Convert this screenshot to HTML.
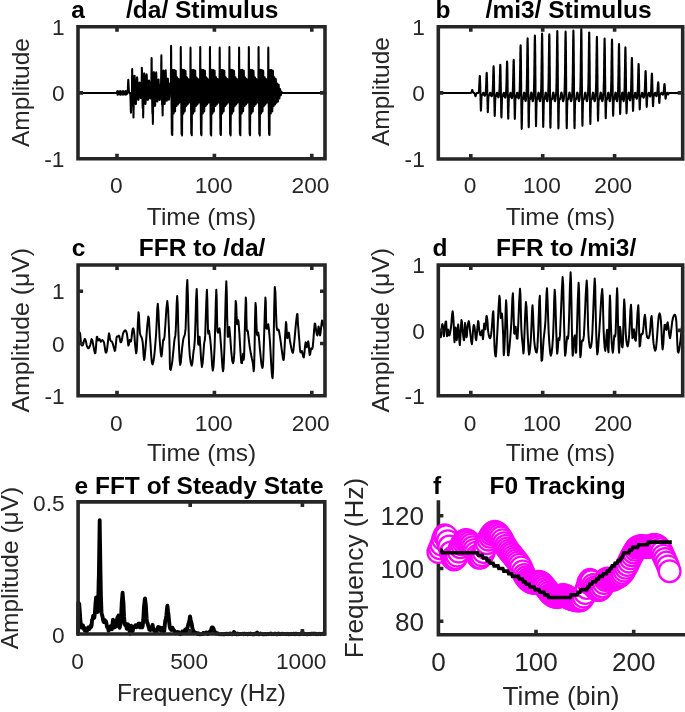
<!DOCTYPE html>
<html><head><meta charset="utf-8"><style>
html,body{margin:0;padding:0;background:#fff;overflow:hidden}
svg{display:block}
text{font-family:"Liberation Sans",sans-serif}
.tx{filter:grayscale(1)}
.ax{fill:none;stroke:#262626;stroke-width:3.6}
.w{fill:none;stroke:#000;stroke-width:2;stroke-linejoin:round}
.w3{fill:none;stroke:#000;stroke-width:3.9;stroke-linejoin:round;stroke-linecap:round}
.fm{fill:none;stroke:#f0f;stroke-width:2.3}
.fl{fill:none;stroke:#000;stroke-width:3.6}
</style></head><body>
<svg width="685" height="712" viewBox="0 0 685 712">
<rect width="685" height="712" fill="#fff"/>
<path class="w" d="M78 92.9L78.1 92.9L78.1 92.9L78.2 92.9L78.2 92.9L78.3 92.9L78.3 92.9L78.4 92.9L78.4 92.9L78.5 92.9L78.5 92.9L78.6 92.9L78.6 92.9L78.7 92.9L78.7 92.9L78.8 92.9L78.8 92.9L78.9 92.9L78.9 92.9L79 92.9L79 92.9L79.1 92.9L79.1 92.9L79.2 92.9L79.2 92.9L79.3 92.9L79.3 92.9L79.4 92.9L79.4 92.9L79.5 92.9L79.5 92.9L79.5 92.9L79.6 92.9L79.6 92.9L79.7 92.9L79.7 92.9L79.8 92.9L79.8 92.9L79.9 92.9L79.9 92.9L80 92.9L80 92.9L80.1 92.9L80.1 92.9L80.2 92.9L80.2 92.9L80.3 92.9L80.3 92.9L80.4 92.9L80.4 92.9L80.5 92.9L80.5 92.9L80.6 92.9L80.6 92.9L80.7 92.9L80.7 92.9L80.8 92.9L80.8 92.9L80.9 92.9L80.9 92.9L81 92.9L81 92.9L81.1 92.9L81.1 92.9L81.2 92.9L81.2 92.9L81.3 92.9L81.3 92.9L81.4 92.9L81.4 92.9L81.4 92.9L81.5 92.9L81.5 92.9L81.6 92.9L81.6 92.9L81.7 92.9L81.7 92.9L81.8 92.9L81.8 92.9L81.9 92.9L81.9 92.9L82 92.9L82 92.9L82.1 92.9L82.1 92.9L82.2 92.9L82.2 92.9L82.3 92.9L82.3 92.9L82.4 92.9L82.4 92.9L82.5 92.9L82.5 92.9L82.6 92.9L82.6 92.9L82.7 92.9L82.7 92.9L82.8 92.9L82.8 92.9L82.9 92.9L82.9 92.9L83 92.9L83 92.9L83.1 92.9L83.1 92.9L83.2 92.9L83.2 92.9L83.3 92.9L83.3 92.9L83.3 92.9L83.4 92.9L83.4 92.9L83.5 92.9L83.5 92.9L83.6 92.9L83.6 92.9L83.7 92.9L83.7 92.9L83.8 92.9L83.8 92.9L83.9 92.9L83.9 92.9L84 92.9L84 92.9L84.1 92.9L84.1 92.9L84.2 92.9L84.2 92.9L84.3 92.9L84.3 92.9L84.4 92.9L84.4 92.9L84.5 92.9L84.5 92.9L84.6 92.9L84.6 92.9L84.7 92.9L84.7 92.9L84.8 92.9L84.8 92.9L84.9 92.9L84.9 92.9L85 92.9L85 92.9L85.1 92.9L85.1 92.9L85.2 92.9L85.2 92.9L85.2 92.9L85.3 92.9L85.3 92.9L85.4 92.9L85.4 92.9L85.5 92.9L85.5 92.9L85.6 92.9L85.6 92.9L85.7 92.9L85.7 92.9L85.8 92.9L85.8 92.9L85.9 92.9L85.9 92.9L86 92.9L86 92.9L86.1 92.9L86.1 92.9L86.2 92.9L86.2 92.9L86.3 92.9L86.3 92.9L86.4 92.9L86.4 92.9L86.5 92.9L86.5 92.9L86.6 92.9L86.6 92.9L86.7 92.9L86.7 92.9L86.8 92.9L86.8 92.9L86.9 92.9L86.9 92.9L87 92.9L87 92.9L87 92.9L87.1 92.9L87.1 92.9L87.2 92.9L87.2 92.9L87.3 92.9L87.3 92.9L87.4 92.9L87.4 92.9L87.5 92.9L87.5 92.9L87.6 92.9L87.6 92.9L87.7 92.9L87.7 92.9L87.8 92.9L87.8 92.9L87.9 92.9L87.9 92.9L88 92.9L88 92.9L88.1 92.9L88.1 92.9L88.2 92.9L88.2 92.9L88.3 92.9L88.3 92.9L88.4 92.9L88.4 92.9L88.5 92.9L88.5 92.9L88.6 92.9L88.6 92.9L88.7 92.9L88.7 92.9L88.8 92.9L88.8 92.9L88.9 92.9L88.9 92.9L88.9 92.9L89 92.9L89 92.9L89.1 92.9L89.1 92.9L89.2 92.9L89.2 92.9L89.3 92.9L89.3 92.9L89.4 92.9L89.4 92.9L89.5 92.9L89.5 92.9L89.6 92.9L89.6 92.9L89.7 92.9L89.7 92.9L89.8 92.9L89.8 92.9L89.9 92.9L89.9 92.9L90 92.9L90 92.9L90.1 92.9L90.1 92.9L90.2 92.9L90.2 92.9L90.3 92.9L90.3 92.9L90.4 92.9L90.4 92.9L90.5 92.9L90.5 92.9L90.6 92.9L90.6 92.9L90.7 92.9L90.7 92.9L90.8 92.9L90.8 92.9L90.8 92.9L90.9 92.9L90.9 92.9L91 92.9L91 92.9L91.1 92.9L91.1 92.9L91.2 92.9L91.2 92.9L91.3 92.9L91.3 92.9L91.4 92.9L91.4 92.9L91.5 92.9L91.5 92.9L91.6 92.9L91.6 92.9L91.7 92.9L91.7 92.9L91.8 92.9L91.8 92.9L91.9 92.9L91.9 92.9L92 92.9L92 92.9L92.1 92.9L92.1 92.9L92.2 92.9L92.2 92.9L92.3 92.9L92.3 92.9L92.4 92.9L92.4 92.9L92.5 92.9L92.5 92.9L92.6 92.9L92.6 92.9L92.6 92.9L92.7 92.9L92.7 92.9L92.8 92.9L92.8 92.9L92.9 92.9L92.9 92.9L93 92.9L93 92.9L93.1 92.9L93.1 92.9L93.2 92.9L93.2 92.9L93.3 92.9L93.3 92.9L93.4 92.9L93.4 92.9L93.5 92.9L93.5 92.9L93.6 92.9L93.6 92.9L93.7 92.9L93.7 92.9L93.8 92.9L93.8 92.9L93.9 92.9L93.9 92.9L94 92.9L94 92.9L94.1 92.9L94.1 92.9L94.2 92.9L94.2 92.9L94.3 92.9L94.3 92.9L94.4 92.9L94.4 92.9L94.5 92.9L94.5 92.9L94.5 92.9L94.6 92.9L94.6 92.9L94.7 92.9L94.7 92.9L94.8 92.9L94.8 92.9L94.9 92.9L94.9 92.9L95 92.9L95 92.9L95.1 92.9L95.1 92.9L95.2 92.9L95.2 92.9L95.3 92.9L95.3 92.9L95.4 92.9L95.4 92.9L95.5 92.9L95.5 92.9L95.6 92.9L95.6 92.9L95.7 92.9L95.7 92.9L95.8 92.9L95.8 92.9L95.9 92.9L95.9 92.9L96 92.9L96 92.9L96.1 92.9L96.1 92.9L96.2 92.9L96.2 92.9L96.3 92.9L96.3 92.9L96.4 92.9L96.4 92.9L96.4 92.9L96.5 92.9L96.5 92.9L96.6 92.9L96.6 92.9L96.7 92.9L96.7 92.9L96.8 92.9L96.8 92.9L96.9 92.9L96.9 92.9L97 92.9L97 92.9L97.1 92.9L97.1 92.9L97.2 92.9L97.2 92.9L97.3 92.9L97.3 92.9L97.4 92.9L97.4 92.9L97.5 92.9L97.5 92.9L97.6 92.9L97.6 92.9L97.7 92.9L97.7 92.9L97.8 92.9L97.8 92.9L97.9 92.9L97.9 92.9L98 92.9L98 92.9L98.1 92.9L98.1 92.9L98.2 92.9L98.2 92.9L98.3 92.9L98.3 92.9L98.3 92.9L98.4 92.9L98.4 92.9L98.5 92.9L98.5 92.9L98.6 92.9L98.6 92.9L98.7 92.9L98.7 92.9L98.8 92.9L98.8 92.9L98.9 92.9L98.9 92.9L99 92.9L99 92.9L99.1 92.9L99.1 92.9L99.2 92.9L99.2 92.9L99.3 92.9L99.3 92.9L99.4 92.9L99.4 92.9L99.5 92.9L99.5 92.9L99.6 92.9L99.6 92.9L99.7 92.9L99.7 92.9L99.8 92.9L99.8 92.9L99.9 92.9L99.9 92.9L100 92.9L100 92.9L100.1 92.9L100.1 92.9L100.1 92.9L100.2 92.9L100.2 92.9L100.3 92.9L100.3 92.9L100.4 92.9L100.4 92.9L100.5 92.9L100.5 92.9L100.6 92.9L100.6 92.9L100.7 92.9L100.7 92.9L100.8 92.9L100.8 92.9L100.9 92.9L100.9 92.9L101 92.9L101 92.9L101.1 92.9L101.1 92.9L101.2 92.9L101.2 92.9L101.3 92.9L101.3 92.9L101.4 92.9L101.4 92.9L101.5 92.9L101.5 92.9L101.6 92.9L101.6 92.9L101.7 92.9L101.7 92.9L101.8 92.9L101.8 92.9L101.9 92.9L101.9 92.9L102 92.9L102 92.9L102 92.9L102.1 92.9L102.1 92.9L102.2 92.9L102.2 92.9L102.3 92.9L102.3 92.9L102.4 92.9L102.4 92.9L102.5 92.9L102.5 92.9L102.6 92.9L102.6 92.9L102.7 92.9L102.7 92.9L102.8 92.9L102.8 92.9L102.9 92.9L102.9 92.9L103 92.9L103 92.9L103.1 92.9L103.1 92.9L103.2 92.9L103.2 92.9L103.3 92.9L103.3 92.9L103.4 92.9L103.4 92.9L103.5 92.9L103.5 92.9L103.6 92.9L103.6 92.9L103.7 92.9L103.7 92.9L103.8 92.9L103.8 92.9L103.9 92.9L103.9 92.9L103.9 92.9L104 92.9L104 92.9L104.1 92.9L104.1 92.9L104.2 92.9L104.2 92.9L104.3 92.9L104.3 92.9L104.4 92.9L104.4 92.9L104.5 92.9L104.5 92.9L104.6 92.9L104.6 92.9L104.7 92.9L104.7 92.9L104.8 92.9L104.8 92.9L104.9 92.9L104.9 92.9L105 92.9L105 92.9L105.1 92.9L105.1 92.9L105.2 92.9L105.2 92.9L105.3 92.9L105.3 92.9L105.4 92.9L105.4 92.9L105.5 92.9L105.5 92.9L105.6 92.9L105.6 92.9L105.7 92.9L105.7 92.9L105.8 92.9L105.8 92.9L105.8 92.9L105.9 92.9L105.9 92.9L106 92.9L106 92.9L106.1 92.9L106.1 92.9L106.2 92.9L106.2 92.9L106.3 92.9L106.3 92.9L106.4 92.9L106.4 92.9L106.5 92.9L106.5 92.9L106.6 92.9L106.6 92.9L106.7 92.9L106.7 92.9L106.8 92.9L106.8 92.9L106.9 92.9L106.9 92.9L107 92.9L107 92.9L107.1 92.9L107.1 92.9L107.2 92.9L107.2 92.9L107.3 92.9L107.3 92.9L107.4 92.9L107.4 92.9L107.5 92.9L107.5 92.9L107.6 92.9L107.6 92.9L107.6 92.9L107.7 92.9L107.7 92.9L107.8 92.9L107.8 92.9L107.9 92.9L107.9 92.9L108 92.9L108 92.9L108.1 92.9L108.1 92.9L108.2 92.9L108.2 92.9L108.3 92.9L108.3 92.9L108.4 92.9L108.4 92.9L108.5 92.9L108.5 92.9L108.6 92.9L108.6 92.9L108.7 92.9L108.7 92.9L108.8 92.9L108.8 92.9L108.9 92.9L108.9 92.9L109 92.9L109 92.9L109.1 92.9L109.1 92.9L109.2 92.9L109.2 92.9L109.3 92.9L109.3 92.9L109.4 92.9L109.4 92.9L109.5 92.9L109.5 92.9L109.5 92.9L109.6 92.9L109.6 92.9L109.7 92.9L109.7 92.9L109.8 92.9L109.8 92.9L109.9 92.9L109.9 92.9L110 92.9L110 92.9L110.1 92.9L110.1 92.9L110.2 92.9L110.2 92.9L110.3 92.9L110.3 92.9L110.4 92.9L110.4 92.9L110.5 92.9L110.5 92.9L110.6 92.9L110.6 92.9L110.7 92.9L110.7 92.9L110.8 92.9L110.8 92.9L110.9 92.9L110.9 92.9L111 92.9L111 92.9L111.1 92.9L111.1 92.9L111.2 92.9L111.2 92.9L111.3 92.9L111.3 92.9L111.4 92.9L111.4 92.9L111.4 92.9L111.5 92.9L111.5 92.9L111.6 92.9L111.6 92.9L111.7 92.9L111.7 92.9L111.8 92.9L111.8 92.9L111.9 92.9L111.9 92.9L112 92.9L112 92.9L112.1 92.9L112.1 92.9L112.2 92.9L112.2 92.9L112.3 92.9L112.3 92.9L112.4 92.9L112.4 92.9L112.5 92.9L112.5 92.9L112.6 92.9L112.6 92.9L112.7 92.9L112.7 92.9L112.8 92.9L112.8 92.9L112.9 92.9L112.9 92.9L113 92.9L113 92.9L113.1 92.9L113.1 92.9L113.2 92.9L113.2 92.9L113.3 92.9L113.3 92.9L113.3 92.9L113.4 92.9L113.4 92.9L113.5 92.9L113.5 92.9L113.6 92.9L113.6 92.9L113.7 92.9L113.7 92.9L113.8 92.9L113.8 92.9L113.9 92.9L113.9 92.9L114 92.9L114 92.9L114.1 92.9L114.1 92.9L114.2 92.9L114.2 92.9L114.3 92.9L114.3 92.9L114.4 92.9L114.4 92.9L114.5 92.9L114.5 92.9L114.6 92.9L114.6 92.9L114.7 92.9L114.7 92.9L114.8 92.9L114.8 92.9L114.9 92.9L114.9 92.9L115 92.9L115 92.9L115.1 92.9L115.1 92.9L115.1 92.9L115.2 92.9L115.2 92.9L115.3 92.9L115.3 92.9L115.4 92.9L115.4 92.9L115.5 92.9L115.5 92.9L115.6 92.9L115.6 92.9L115.7 92.9L115.7 92.9L115.8 92.9L115.8 92.9L115.9 92.9L115.9 92.9L116 92.9L116 92.9L116.1 92.9L116.1 92.9L116.2 92.9L116.2 92.9L116.3 92.9L116.3 92.9L116.4 92.9L116.4 92.9L116.5 92.9L116.5 92.9L116.6 92.9L116.6 92.9L116.7 92.9L116.7 92.9L116.8 92.9L116.8 92.9L116.9 92.9L116.9 92.9L117 92.9L117 92.9L117 92.3L117.1 91.8L117.1 91.4L117.2 91.3L117.2 91.4L117.3 91.8L117.3 92.4L117.4 93.1L117.4 93.8L117.5 94.4L117.5 94.7L117.6 94.7L117.6 94.5L117.7 93.9L117.7 93.2L117.8 92.4L117.8 91.8L117.9 91.3L117.9 91.1L118 91.2L118 91.6L118.1 92.2L118.1 92.8L118.2 93.5L118.2 94L118.3 94.3L118.3 94.4L118.4 94.2L118.4 93.8L118.5 93.3L118.5 92.8L118.6 92.3L118.6 92L118.7 91.8L118.7 91.8L118.8 92L118.8 92.3L118.9 92.7L118.9 93.1L118.9 93.5L119 93.8L119 93.9L119.1 93.9L119.1 93.7L119.2 93.4L119.2 93L119.3 92.5L119.3 92.1L119.4 91.8L119.4 91.6L119.5 91.7L119.5 92L119.6 92.4L119.6 93L119.7 93.6L119.7 94.1L119.8 94.4L119.8 94.5L119.9 94.4L119.9 93.9L120 93.3L120 92.6L120.1 91.9L120.1 91.3L120.2 91.1L120.2 91.1L120.3 91.4L120.3 92L120.4 92.7L120.4 93.5L120.5 94.1L120.5 94.6L120.6 94.7L120.6 94.5L120.7 94.1L120.7 93.5L120.7 92.8L120.8 92.2L120.8 91.7L120.9 91.5L120.9 91.4L121 91.7L121 92.1L121.1 92.6L121.1 93.1L121.2 93.6L121.2 93.9L121.3 94L121.3 94L121.4 93.8L121.4 93.4L121.5 93L121.5 92.6L121.6 92.3L121.6 92L121.7 91.9L121.7 91.9L121.8 92.1L121.8 92.5L121.9 92.9L121.9 93.3L122 93.8L122 94L122.1 94.2L122.1 94.1L122.2 93.8L122.2 93.3L122.3 92.7L122.3 92.1L122.4 91.6L122.4 91.3L122.5 91.3L122.5 91.5L122.6 92L122.6 92.6L122.6 93.3L122.7 94L122.7 94.5L122.8 94.8L122.8 94.7L122.9 94.3L122.9 93.7L123 93L123 92.2L123.1 91.6L123.1 91.2L123.2 91.1L123.2 91.3L123.3 91.8L123.3 92.4L123.4 93.1L123.4 93.7L123.5 94.1L123.5 94.4L123.6 94.3L123.6 94.1L123.7 93.7L123.7 93.1L123.8 92.6L123.8 92.2L123.9 91.9L123.9 91.8L124 91.8L124 92.1L124.1 92.4L124.1 92.8L124.2 93.2L124.2 93.6L124.3 93.8L124.3 93.9L124.4 93.8L124.4 93.6L124.5 93.3L124.5 92.8L124.5 92.4L124.6 92L124.6 91.7L124.7 91.7L124.7 91.8L124.8 92.1L124.8 92.6L124.9 93.2L124.9 93.7L125 94.2L125 94.5L125.1 94.5L125.1 94.2L125.2 93.7L125.2 93.1L125.3 92.3L125.3 91.7L125.4 91.2L125.4 91L125.5 91.2L125.5 91.6L125.6 92.2L125.6 93L125.7 93.7L125.7 94.3L125.8 94.6L125.8 94.7L125.9 94.5L125.9 94L126 93.3L126 92.6L126.1 92L126.1 91.6L126.2 91.4L126.2 91.5L126.3 91.8L126.3 92.2L126.4 92.7L126.4 93.3L126.4 93.7L126.5 94L126.5 94L126.6 93.9L126.6 93.7L126.7 93.3L126.7 92.9L126.8 92.5L126.8 92.2L126.9 91.9L126.9 91.9L127 92L127 92.2L127.1 92.6L127.1 93L127.2 93.5L127.2 93.8L127.3 92.8L127.3 92.8L127.4 92.7L127.4 92.7L127.5 92.5L127.5 92.3L127.6 92.1L127.6 91.7L127.7 91.3L127.7 90.7L127.8 89.9L127.8 89.1L127.9 88L127.9 86.9L128 85.7L128 84.4L128.1 83.2L128.1 82.1L128.2 81.1L128.2 80.3L128.2 79.9L128.3 79.7L128.3 79.9L128.4 80.3L128.4 81.1L128.5 82.1L128.5 83.2L128.6 84.4L128.6 85.7L128.7 86.9L128.7 88L128.8 89.1L128.8 89.9L128.9 90.7L128.9 91.3L129 91.7L129 92.1L129.1 92.3L129.1 92.5L129.2 92.7L129.2 92.7L129.3 92.8L129.3 92.8L129.4 92.9L129.4 92.9L129.5 92.9L129.5 92.9L129.6 92.9L129.6 92.9L129.7 92.9L129.7 92.9L129.8 92.9L129.8 92.9L129.9 92.9L129.9 92.9L130 92.9L130 93L130.1 93L130.1 93.1L130.1 93.3L130.2 93.5L130.2 93.8L130.3 94.3L130.3 95L130.4 95.9L130.4 97.1L130.5 98.5L130.5 100.2L130.6 102.1L130.6 104.2L130.7 106.3L130.7 108.3L130.8 110.1L130.8 111.5L130.9 112.4L130.9 112.7L131 112.4L131 111.5L131.1 110.1L131.1 108.3L131.2 106.3L131.2 104.2L131.3 102.1L131.3 100.2L131.4 98.5L131.4 97.1L131.5 95.9L131.5 95L131.6 94.3L131.6 93.8L131.7 93.5L131.7 93.2L131.8 93L131.8 92.6L131.9 91.9L131.9 90.4L132 87.9L132 84.2L132 79.4L132.1 74.4L132.1 70.6L132.2 69.1L132.2 70.6L132.3 74.4L132.3 79.4L132.4 84.3L132.4 88.2L132.5 90.9L132.5 92.8L132.6 94.2L132.6 95.6L132.7 97.1L132.7 98.9L132.8 100.9L132.8 103L132.9 104.7L132.9 105.9L133 106.3L133 106.2L133.1 106L133.1 105.7L133.2 105.3L133.2 104.7L133.3 104.1L133.3 108.1L133.4 111.9L133.4 115.1L133.5 117.6L133.5 115.5L133.6 113.2L133.6 110.7L133.7 108.2L133.7 105.6L133.8 103L133.8 100.3L133.9 97.8L133.9 95.3L133.9 92.7L134 90.2L134 87.8L134.1 85.6L134.1 83.6L134.2 81.8L134.2 80.2L134.3 78.8L134.3 77.7L134.4 76.8L134.4 76.2L134.5 75.8L134.5 75.7L134.6 75.8L134.6 76.1L134.7 76.7L134.7 77.5L134.8 78.6L134.8 79.8L134.9 81.2L134.9 82.7L135 84.4L135 86.1L135.1 88L135.1 90L135.2 91.9L135.2 93.6L135.3 94.9L135.3 96.2L135.4 97.4L135.4 98.6L135.5 99.7L135.5 100.7L135.6 101.6L135.6 102.4L135.7 103L135.7 103.5L135.7 103.9L135.8 104.1L135.8 104.1L135.9 104L135.9 103.7L136 103.2L136 102.6L136.1 101.8L136.1 101L136.2 100L136.2 98.9L136.3 97.7L136.3 96.5L136.4 95.2L136.4 93.9L136.5 92.5L136.5 90.3L136.6 88.3L136.6 86.4L136.7 84.6L136.7 82.9L136.8 81.5L136.8 80.2L136.9 79.2L136.9 78.3L137 77.8L137 77.4L137.1 77.3L137.1 77.4L137.2 77.8L137.2 78.3L137.3 79L137.3 80L137.4 81L137.4 82.2L137.5 83.6L137.5 85L137.6 86.5L137.6 88L137.6 89.6L137.7 91.2L137.7 92.7L137.8 93.7L137.8 94.6L137.9 95.4L137.9 96.2L138 96.9L138 97.5L138.1 98.1L138.1 98.6L138.2 99.1L138.2 99.4L138.3 99.7L138.3 99.8L138.4 99.9L138.4 99.9L138.5 99.7L138.5 99.5L138.6 99.2L138.6 98.8L138.7 98.3L138.7 97.7L138.8 97.1L138.8 96.4L138.9 95.7L138.9 94.9L139 94.1L139 93.3L139.1 92.1L139.1 90.8L139.2 89.5L139.2 88.3L139.3 87.2L139.3 86.1L139.4 85.1L139.4 84.3L139.5 83.6L139.5 83.1L139.5 82.7L139.6 82.5L139.6 82.4L139.7 82.5L139.7 82.7L139.8 83.1L139.8 83.7L139.9 84.3L139.9 85.1L140 85.9L140 86.9L140.1 87.9L140.1 88.9L140.2 90L140.2 91.1L140.3 92.1L140.3 93.1L140.4 93.8L140.4 94.5L140.5 95.1L140.5 95.7L140.6 96.2L140.6 96.7L140.7 97.1L140.7 97.5L140.8 97.7L140.8 97.9L140.9 98.1L140.9 98.1L141 98.1L141 98L141.1 97.9L141.1 97.7L141.2 97.4L141.2 97.1L141.3 96.7L141.3 96.2L141.3 95.8L141.4 95.2L141.4 94.6L141.5 93.9L141.5 92.9L141.6 91.3L141.6 88.6L141.7 84.6L141.7 79.4L141.8 73.3L141.8 67.7L141.9 68.4L141.9 68.1L142 70.7L142 75.4L142.1 80.8L142.1 85.6L142.2 89.3L142.2 91.8L142.3 93.5L142.3 95L142.4 96.6L142.4 98.5L142.5 100.7L142.5 103L142.6 105.3L142.6 107L142.7 108L142.7 108.2L142.8 108.1L142.8 107.8L142.9 107.3L142.9 106.8L143 106.1L143 107.3L143.1 111.1L143.1 114.5L143.2 117.3L143.2 117.6L143.2 115.2L143.3 112.6L143.3 109.8L143.4 107L143.4 104.1L143.5 101.3L143.5 98.5L143.6 95.8L143.6 92.7L143.7 89.7L143.7 86.8L143.8 84.2L143.8 81.8L143.9 79.6L143.9 77.8L144 76.3L144 75L144.1 74.1L144.1 73.5L144.2 73.3L144.2 73.3L144.3 73.7L144.3 74.3L144.4 75.3L144.4 76.5L144.5 78L144.5 79.6L144.6 81.5L144.6 83.5L144.7 85.7L144.7 87.9L144.8 90.3L144.8 92.7L144.9 94.1L144.9 95.5L145 96.8L145 98.1L145.1 99.3L145.1 100.4L145.1 101.3L145.2 102.2L145.2 102.9L145.3 103.4L145.3 103.8L145.4 104L145.4 104.1L145.5 103.9L145.5 103.6L145.6 103.1L145.6 102.4L145.7 101.6L145.7 100.7L145.8 99.6L145.8 98.4L145.9 97.1L145.9 95.8L146 94.4L146 93L146.1 90.6L146.1 88.1L146.2 85.7L146.2 83.4L146.3 81.3L146.3 79.5L146.4 77.9L146.4 76.6L146.5 75.5L146.5 74.8L146.6 74.4L146.6 74.3L146.7 74.5L146.7 75L146.8 75.8L146.8 76.8L146.9 78.1L146.9 79.5L147 81.1L147 82.9L147 84.8L147.1 86.7L147.1 88.7L147.2 90.7L147.2 92.7L147.3 93.8L147.3 94.7L147.4 95.6L147.4 96.5L147.5 97.2L147.5 97.9L147.6 98.5L147.6 99L147.7 99.4L147.7 99.7L147.8 99.9L147.8 100L147.9 100L147.9 99.8L148 99.6L148 99.3L148.1 98.9L148.1 98.3L148.2 97.7L148.2 97.1L148.3 96.3L148.3 95.6L148.4 94.7L148.4 93.9L148.5 93L148.5 91.5L148.6 89.9L148.6 88.4L148.7 86.9L148.7 85.6L148.8 84.4L148.8 83.3L148.8 82.3L148.9 81.6L148.9 81L149 80.6L149 80.5L149.1 80.5L149.1 80.8L149.2 81.2L149.2 81.8L149.3 82.6L149.3 83.6L149.4 84.7L149.4 85.9L149.5 87.2L149.5 88.5L149.6 89.9L149.6 91.4L149.7 92.8L149.7 93.6L149.8 94.4L149.8 95.2L149.9 95.9L149.9 96.5L150 97L150 97.5L150.1 97.9L150.1 98.2L150.2 98.4L150.2 98.6L150.3 98.6L150.3 98.5L150.4 98.4L150.4 98.2L150.5 97.9L150.5 97.5L150.6 97.1L150.6 96.6L150.7 96L150.7 95.5L150.7 94.9L150.8 94.2L150.8 93.6L150.9 93L150.9 92L151 91L151 90.1L151.1 89.2L151.1 88.3L151.2 87.5L151.2 86.4L151.3 85L151.3 82.7L151.4 79.1L151.4 73.6L151.5 66.7L151.5 59.2L151.6 60.9L151.6 58L151.7 59.3L151.7 64.3L151.8 71.5L151.8 78.9L151.9 85L151.9 89.4L152 92.4L152 94.6L152.1 96.6L152.1 98.9L152.2 101.7L152.2 104.8L152.3 108L152.3 110.8L152.4 112.8L152.4 113.7L152.5 113.7L152.5 113.4L152.6 113L152.6 112.3L152.6 111.5L152.7 110.5L152.7 113.9L152.8 118L152.8 121.4L152.9 123.9L152.9 121.9L153 118.6L153 115.2L153.1 111.6L153.1 108L153.2 104.3L153.2 100.8L153.3 97.3L153.3 93.6L153.4 90.1L153.4 86.8L153.5 83.7L153.5 81L153.6 78.6L153.6 76.5L153.7 74.9L153.7 73.6L153.8 72.7L153.8 72.2L153.9 72.1L153.9 72.3L154 72.9L154 73.9L154.1 75.1L154.1 76.7L154.2 78.6L154.2 80.6L154.3 82.9L154.3 85.3L154.4 87.9L154.4 90.5L154.5 93.1L154.5 94.8L154.5 96.4L154.6 98L154.6 99.5L154.7 100.9L154.7 102.2L154.8 103.3L154.8 104.2L154.9 104.9L154.9 105.5L155 105.8L155 105.9L155.1 105.8L155.1 105.4L155.2 104.8L155.2 104L155.3 103L155.3 101.9L155.4 100.5L155.4 99.1L155.5 97.5L155.5 95.8L155.6 94.1L155.6 92.1L155.7 89.2L155.7 86.4L155.8 83.8L155.8 81.3L155.9 79L155.9 77.1L156 75.4L156 74.1L156.1 73.2L156.1 72.6L156.2 72.4L156.2 72.6L156.3 73.1L156.3 74L156.3 75.2L156.4 76.6L156.4 78.4L156.5 80.3L156.5 82.4L156.6 84.6L156.6 87L156.7 89.3L156.7 91.7L156.8 93.5L156.8 94.8L156.9 95.9L156.9 97L157 98L157 98.9L157.1 99.7L157.1 100.3L157.2 100.8L157.2 101.2L157.3 101.4L157.3 101.4L157.4 101.4L157.4 101.1L157.5 100.8L157.5 100.3L157.6 99.7L157.6 99L157.7 98.2L157.7 97.3L157.8 96.4L157.8 95.4L157.9 94.3L157.9 93.3L158 91.7L158 89.9L158.1 88.2L158.1 86.6L158.2 85L158.2 83.7L158.2 82.4L158.3 81.4L158.3 80.6L158.4 80L158.4 79.7L158.5 79.5L158.5 79.6L158.6 79.9L158.6 80.5L158.7 81.2L158.7 82.2L158.8 83.3L158.8 84.7L158.9 86.1L158.9 87.7L159 89.3L159 91L159.1 92.6L159.1 93.8L159.2 94.8L159.2 95.8L159.3 96.7L159.3 97.5L159.4 98.3L159.4 98.9L159.5 99.4L159.5 99.8L159.6 100L159.6 100.1L159.7 100.1L159.7 100L159.8 99.7L159.8 99.3L159.9 98.9L159.9 98.3L160 97.6L160 96.9L160.1 96.2L160.1 95.4L160.1 94.5L160.2 93.7L160.2 92.9L160.3 91.7L160.3 90.6L160.4 89.5L160.4 88.5L160.5 87.6L160.5 86.8L160.6 86.1L160.6 85.6L160.7 85.1L160.7 84.8L160.8 84.6L160.8 84.6L160.9 84.6L160.9 84.7L161 84.5L161 83.8L161.1 81.9L161.1 78.3L161.2 72.8L161.2 65.9L161.3 59.2L161.3 56.7L161.4 55.3L161.4 58.5L161.5 65.1L161.5 73.1L161.6 80.5L161.6 86.2L161.7 90.1L161.7 92.4L161.8 94.1L161.8 95.5L161.9 97L161.9 98.7L162 100.5L162 102.3L162 103.7L162.1 104.7L162.1 104.9L162.2 104.8L162.2 104.6L162.3 104.3L162.3 103.9L162.4 103.4L162.4 103.7L162.5 107.8L162.5 111.4L162.6 114.3L162.6 115.5L162.7 113L162.7 110.2L162.8 107.3L162.8 104.3L162.9 101.3L162.9 98.3L163 95.2L163 91.4L163.1 87.7L163.1 84.3L163.2 81.1L163.2 78.3L163.3 75.9L163.3 74L163.4 72.4L163.4 71.4L163.5 70.8L163.5 70.6L163.6 71L163.6 71.7L163.7 72.9L163.7 74.4L163.8 76.3L163.8 78.5L163.8 81L163.9 83.7L163.9 86.5L164 89.5L164 92.5L164.1 94.3L164.1 95.9L164.2 97.4L164.2 98.7L164.3 99.9L164.3 101L164.4 102L164.4 102.8L164.5 103.4L164.5 103.8L164.6 104L164.6 103.9L164.7 103.7L164.7 103.2L164.8 102.5L164.8 101.6L164.9 100.6L164.9 99.4L165 98L165 96.6L165.1 95L165.1 93.5L165.2 90.8L165.2 87.5L165.3 84.4L165.3 81.4L165.4 78.7L165.4 76.3L165.5 74.3L165.5 72.6L165.6 71.4L165.6 70.6L165.7 70.3L165.7 70.5L165.7 71.2L165.8 72.2L165.8 73.7L165.9 75.6L165.9 77.7L166 80.1L166 82.8L166.1 85.5L166.1 88.4L166.2 91.3L166.2 93.4L166.3 94.7L166.3 95.9L166.4 97L166.4 97.9L166.5 98.8L166.5 99.5L166.6 100L166.6 100.4L166.7 100.7L166.7 100.8L166.8 100.7L166.8 100.5L166.9 100.1L166.9 99.6L167 99L167 98.3L167.1 97.5L167.1 96.6L167.2 95.7L167.2 94.7L167.3 93.7L167.3 92.5L167.4 90.4L167.4 88.3L167.5 86.4L167.5 84.7L167.6 83.1L167.6 81.7L167.6 80.5L167.7 79.6L167.7 78.9L167.8 78.6L167.8 78.5L167.9 78.7L167.9 79.2L168 79.9L168 80.9L168.1 82.2L168.1 83.7L168.2 85.3L168.2 87.1L168.3 88.9L168.3 90.9L168.4 92.9L168.4 93.9L168.5 94.8L168.5 95.8L168.6 96.6L168.6 97.4L168.7 98.1L168.7 98.7L168.8 99.2L168.8 99.5L168.9 99.7L168.9 99.7L169 99.6L169 99.4L169.1 99L169.1 98.5L169.2 97.9L169.2 97.3L169.3 96.5L169.3 95.7L169.4 94.8L169.4 94L169.4 93.1L169.5 91.7L169.5 90.3L169.6 88.9L169.6 87.7L169.7 86.5L169.7 85.6L169.8 84.8L169.8 84.2L169.9 83.8L169.9 83.5L170 83.5L170 83.6L170.1 83.9L170.1 84.4L170.2 85L170.2 85.8L170.3 86.7L170.3 87.6L170.4 88.7L170.4 89.9L170.5 91.1L170.5 92.3L170.6 93.2L170.6 93.8L170.7 94.1L170.7 93.8L170.8 92.3L170.8 88.8L170.9 82.8L170.9 74.3L171 64.5L171 50.8L171.1 45.8L171.1 46.4L171.2 52.4L171.2 61.9L171.3 72.1L171.3 80.9L171.3 87.5L171.4 92.2L171.4 96L171.5 99.6L171.5 103.9L171.6 109.1L171.6 115.2L171.7 121.5L171.7 127.3L171.8 131.7L171.8 134L171.9 134.1L171.9 133.5L172 132.3L172 130.6L172.1 128.5L172.1 126.1L172.2 128.2L172.2 132.6L172.3 135.1L172.3 135L172.4 129.1L172.4 120.4L172.5 111.5L172.5 102.9L172.6 95.4L172.6 88.5L172.7 82.4L172.7 77.4L172.8 73.6L172.8 71.1L172.9 69.9L172.9 70L173 71.3L173 73.8L173.1 77.1L173.1 81.2L173.2 85.9L173.2 90.8L173.2 95.7L173.3 100.4L173.3 104.6L173.4 108.1L173.4 110.8L173.5 112.7L173.5 113.6L173.6 113.5L173.6 112.6L173.7 110.8L173.7 108.2L173.8 105.1L173.8 101.5L173.9 97.6L173.9 93.6L174 88.9L174 84.3L174.1 80.1L174.1 76.4L174.2 73.4L174.2 71.2L174.3 70.1L174.3 69.9L174.4 70.9L174.4 72.8L174.5 75.6L174.5 79.3L174.6 83.7L174.6 88.5L174.7 93.4L174.7 97.4L174.8 101.1L174.8 104.5L174.9 107.3L174.9 109.5L175 110.9L175 111.4L175.1 111.1L175.1 110L175.1 108.1L175.2 105.5L175.2 102.4L175.3 98.8L175.3 95.1L175.4 90.8L175.4 85.8L175.5 81.3L175.5 77.4L175.6 74.3L175.6 72.1L175.7 70.9L175.7 70.7L175.8 71.6L175.8 73.4L175.9 76L175.9 79.3L176 83.2L176 87.4L176.1 91.7L176.1 95.1L176.2 98L176.2 100.6L176.3 102.8L176.3 104.4L176.4 105.5L176.4 106L176.5 105.9L176.5 105.3L176.6 104.1L176.6 102.4L176.7 100.3L176.7 98L176.8 95.5L176.8 92.9L176.9 89.4L176.9 86.2L176.9 83.3L177 80.9L177 79L177.1 77.8L177.1 77.3L177.2 77.5L177.2 78.4L177.3 79.9L177.3 82L177.4 84.6L177.4 87.5L177.5 90.6L177.5 93.7L177.6 96.1L177.6 98.4L177.7 100.5L177.7 102.2L177.8 103.5L177.8 104.3L177.9 104.5L177.9 104.3L178 103.6L178 102.4L178.1 100.7L178.1 98.7L178.2 96.4L178.2 93.9L178.3 91L178.3 88L178.4 85.3L178.4 83L178.5 81.1L178.5 79.8L178.6 79.1L178.6 79.1L178.7 79.7L178.7 80.9L178.8 82.7L178.8 84.8L178.8 87.3L178.9 89.9L178.9 92.6L179 94.9L179 97L179.1 98.9L179.1 100.4L179.2 101.6L179.2 102.4L179.3 102.7L179.3 102.5L179.4 102L179.4 101L179.5 99.7L179.5 98.1L179.6 96.4L179.6 94.5L179.7 92.5L179.7 90.4L179.8 88.5L179.8 86.8L179.9 85.4L179.9 84.4L180 83.7L180 83.5L180.1 83.7L180.1 84.3L180.2 85.3L180.2 86.6L180.3 88.2L180.3 89.9L180.4 91.6L180.4 92.9L180.5 93.4L180.5 92.3L180.6 89L180.6 83L180.7 74.6L180.7 65.6L180.7 49.8L180.8 47L180.8 49.8L180.9 57.2L180.9 66.9L181 76.4L181 84.1L181.1 89.8L181.1 93.9L181.2 97.4L181.2 101.3L181.3 105.9L181.3 111.5L181.4 117.7L181.4 123.9L181.5 129.2L181.5 132.9L181.6 134.2L181.6 133.9L181.7 133.1L181.7 131.7L181.8 129.8L181.8 127.6L181.9 125L181.9 130.1L182 133.9L182 135.4L182.1 134L182.1 125.6L182.2 116.8L182.2 107.9L182.3 99.9L182.3 92.5L182.4 85.9L182.4 80.3L182.5 75.8L182.5 72.5L182.6 70.5L182.6 69.8L182.6 70.4L182.7 72.2L182.7 75L182.8 78.7L182.8 83L182.9 87.8L182.9 92.8L183 97.7L183 102.2L183.1 106.1L183.1 109.3L183.2 111.7L183.2 113.1L183.3 113.7L183.3 113.2L183.4 111.9L183.4 109.8L183.5 107L183.5 103.7L183.6 99.9L183.6 96L183.7 91.8L183.7 87L183.8 82.5L183.8 78.5L183.9 75.1L183.9 72.4L184 70.7L184 69.9L184.1 70.2L184.1 71.5L184.2 73.8L184.2 77L184.3 81L184.3 85.6L184.4 90.5L184.4 95L184.4 98.9L184.5 102.5L184.5 105.7L184.6 108.3L184.6 110.1L184.7 111.2L184.7 111.4L184.8 110.8L184.8 109.3L184.9 107.1L184.9 104.3L185 101L185 97.4L185.1 93.6L185.1 88.8L185.2 84L185.2 79.7L185.3 76.1L185.3 73.3L185.4 71.5L185.4 70.7L185.5 70.9L185.5 72.2L185.6 74.3L185.6 77.2L185.7 80.8L185.7 84.8L185.8 89.1L185.8 93.3L185.9 96.3L185.9 99.1L186 101.5L186 103.5L186.1 104.9L186.1 105.8L186.2 106.1L186.2 105.7L186.3 104.9L186.3 103.5L186.3 101.6L186.4 99.4L186.4 97L186.5 94.4L186.5 91.5L186.6 88.1L186.6 85L186.7 82.3L186.7 80.1L186.8 78.5L186.8 77.5L186.9 77.3L186.9 77.8L187 78.9L187 80.7L187.1 83L187.1 85.7L187.2 88.7L187.2 91.9L187.3 94.6L187.3 97.1L187.4 99.3L187.4 101.2L187.5 102.7L187.5 103.8L187.6 104.4L187.6 104.5L187.7 104.1L187.7 103.1L187.8 101.7L187.8 99.9L187.9 97.8L187.9 95.4L188 92.9L188 89.8L188.1 86.9L188.1 84.3L188.2 82.1L188.2 80.5L188.2 79.5L188.3 79.1L188.3 79.3L188.4 80.2L188.4 81.6L188.5 83.5L188.5 85.8L188.6 88.3L188.6 91L188.7 93.6L188.7 95.8L188.8 97.8L188.8 99.6L188.9 101L188.9 102L189 102.6L189 102.7L189.1 102.4L189.1 101.6L189.2 100.5L189.2 99.1L189.3 97.4L189.3 95.6L189.4 93.7L189.4 91.7L189.5 89.6L189.5 87.8L189.6 86.2L189.6 84.9L189.7 84.1L189.7 83.6L189.8 83.5L189.8 83.9L189.9 84.7L189.9 85.8L190 87.2L190 88.8L190 90.6L190.1 92.2L190.1 93.2L190.2 93.2L190.2 91.3L190.3 86.9L190.3 79.9L190.4 71L190.4 62.3L190.5 48L190.5 47.5L190.6 52.3L190.6 61L190.7 70.9L190.7 79.8L190.8 86.6L190.8 91.5L190.9 95.3L190.9 98.9L191 103L191 108L191.1 113.9L191.1 120.2L191.2 126.2L191.2 130.9L191.3 133.7L191.3 134.1L191.4 133.6L191.4 132.6L191.5 131L191.5 129L191.6 126.6L191.6 127.2L191.7 131.8L191.7 134.8L191.8 135.2L191.8 130.7L191.9 122.1L191.9 113.2L191.9 104.5L192 96.9L192 89.8L192.1 83.6L192.1 78.3L192.2 74.3L192.2 71.5L192.3 70.1L192.3 69.9L192.4 71L192.4 73.2L192.5 76.4L192.5 80.4L192.6 84.9L192.6 89.8L192.7 94.8L192.7 99.5L192.8 103.8L192.8 107.5L192.9 110.4L192.9 112.4L193 113.5L193 113.6L193.1 112.8L193.1 111.2L193.2 108.8L193.2 105.7L193.3 102.2L193.3 98.4L193.4 94.4L193.4 89.9L193.5 85.2L193.5 80.9L193.6 77L193.6 73.9L193.7 71.6L193.7 70.2L193.8 69.9L193.8 70.6L193.8 72.3L193.9 75L193.9 78.5L194 82.8L194 87.5L194.1 92.5L194.1 96.6L194.2 100.4L194.2 103.8L194.3 106.8L194.3 109.1L194.4 110.6L194.4 111.4L194.5 111.3L194.5 110.3L194.6 108.5L194.6 106.1L194.7 103L194.7 99.6L194.8 95.8L194.8 91.8L194.9 86.8L194.9 82.2L195 78.2L195 74.9L195.1 72.5L195.1 71.1L195.2 70.7L195.2 71.3L195.3 72.9L195.3 75.4L195.4 78.6L195.4 82.4L195.5 86.5L195.5 90.8L195.6 94.5L195.6 97.4L195.7 100.1L195.7 102.4L195.7 104.1L195.8 105.4L195.8 106L195.9 106L195.9 105.5L196 104.4L196 102.8L196.1 100.8L196.1 98.5L196.2 96L196.2 93.4L196.3 90.1L196.3 86.8L196.4 83.8L196.4 81.3L196.5 79.4L196.5 78L196.6 77.4L196.6 77.4L196.7 78.2L196.7 79.5L196.8 81.5L196.8 84L196.9 86.9L196.9 90L197 93.2L197 95.6L197.1 98L197.1 100.1L197.2 101.9L197.2 103.2L197.3 104.1L197.3 104.5L197.4 104.4L197.4 103.8L197.5 102.6L197.5 101.1L197.5 99.1L197.6 96.8L197.6 94.4L197.7 91.7L197.7 88.6L197.8 85.8L197.8 83.4L197.9 81.4L197.9 80L198 79.2L198 79.1L198.1 79.6L198.1 80.7L198.2 82.3L198.2 84.4L198.3 86.8L198.3 89.4L198.4 92.1L198.4 94.5L198.5 96.6L198.5 98.5L198.6 100.2L198.6 101.4L198.7 102.3L198.7 102.7L198.8 102.6L198.8 102.1L198.9 101.2L198.9 100L199 98.5L199 96.7L199.1 94.8L199.1 92.9L199.2 90.8L199.2 88.9L199.3 87.1L199.3 85.7L199.4 84.5L199.4 83.8L199.4 83.5L199.5 83.6L199.5 84.2L199.6 85.1L199.6 86.3L199.7 87.8L199.7 89.5L199.8 91.3L199.8 92.7L199.9 93.4L199.9 92.7L200 89.9L200 84.4L200.1 76.4L200.1 67.3L200.2 50.9L200.2 47.1L200.3 48.8L200.3 55.5L200.4 64.9L200.4 74.6L200.5 82.8L200.5 88.8L200.6 93.1L200.6 96.7L200.7 100.4L200.7 104.9L200.8 110.3L200.8 116.4L200.9 122.7L200.9 128.3L201 132.3L201 134.1L201.1 134L201.1 133.3L201.2 132L201.2 130.2L201.3 128.1L201.3 125.6L201.3 129.2L201.4 133.3L201.4 135.3L201.5 134.6L201.5 127.3L201.6 118.6L201.6 109.7L201.7 101.4L201.7 93.9L201.8 87.2L201.8 81.3L201.9 76.6L201.9 73L202 70.8L202 69.8L202.1 70.2L202.1 71.8L202.2 74.4L202.2 77.9L202.3 82.1L202.3 86.8L202.4 91.8L202.4 96.7L202.5 101.3L202.5 105.4L202.6 108.7L202.6 111.3L202.7 112.9L202.7 113.6L202.8 113.4L202.8 112.3L202.9 110.3L202.9 107.6L203 104.4L203 100.7L203.1 96.8L203.1 92.7L203.2 88L203.2 83.4L203.2 79.3L203.3 75.7L203.3 72.9L203.4 70.9L203.4 70L203.5 70L203.5 71.2L203.6 73.3L203.6 76.3L203.7 80.1L203.7 84.6L203.8 89.5L203.8 94.2L203.9 98.1L203.9 101.8L204 105.1L204 107.8L204.1 109.8L204.1 111L204.2 111.4L204.2 111L204.3 109.7L204.3 107.6L204.4 104.9L204.4 101.7L204.5 98.1L204.5 94.3L204.6 89.8L204.6 84.9L204.7 80.5L204.7 76.8L204.8 73.8L204.8 71.8L204.9 70.8L204.9 70.8L205 71.9L205 73.8L205 76.6L205.1 80.1L205.1 84L205.2 88.2L205.2 92.5L205.3 95.7L205.3 98.6L205.4 101.1L205.4 103.1L205.5 104.7L205.5 105.7L205.6 106.1L205.6 105.9L205.7 105.1L205.7 103.8L205.8 102L205.8 99.9L205.9 97.5L205.9 94.9L206 92.2L206 88.7L206.1 85.6L206.1 82.8L206.2 80.5L206.2 78.7L206.3 77.7L206.3 77.3L206.4 77.6L206.4 78.6L206.5 80.3L206.5 82.5L206.6 85.1L206.6 88.1L206.7 91.3L206.7 94.2L206.8 96.6L206.8 98.8L206.9 100.8L206.9 102.5L206.9 103.7L207 104.4L207 104.5L207.1 104.2L207.1 103.4L207.2 102.1L207.2 100.3L207.3 98.2L207.3 95.9L207.4 93.4L207.4 90.4L207.5 87.5L207.5 84.8L207.6 82.5L207.6 80.8L207.7 79.6L207.7 79.1L207.8 79.2L207.8 79.9L207.9 81.3L207.9 83.1L208 85.3L208 87.8L208.1 90.5L208.1 93.1L208.2 95.3L208.2 97.4L208.3 99.2L208.3 100.7L208.4 101.8L208.4 102.5L208.5 102.7L208.5 102.5L208.6 101.8L208.6 100.8L208.7 99.4L208.7 97.8L208.8 96L208.8 94.1L208.8 92.1L208.9 90L208.9 88.1L209 86.5L209 85.2L209.1 84.2L209.1 83.7L209.2 83.5L209.2 83.8L209.3 84.5L209.3 85.5L209.4 86.9L209.4 88.5L209.5 90.2L209.5 91.9L209.6 93.1L209.6 93.3L209.7 91.9L209.7 88L209.8 81.5L209.8 72.8L209.9 63.9L209.9 48.8L210 47.1L210 51L210.1 59.1L210.1 68.9L210.2 78.1L210.2 85.4L210.3 90.7L210.3 94.6L210.4 98.1L210.4 102.1L210.5 107L210.5 112.7L210.6 118.9L210.6 125L210.7 130.1L210.7 133.3L210.7 134.2L210.8 133.8L210.8 132.8L210.9 131.3L210.9 129.4L211 127.1L211 126.1L211.1 131L211.1 134.4L211.2 135.4L211.2 132.4L211.3 123.9L211.3 115L211.4 106.2L211.4 98.3L211.5 91.1L211.5 84.7L211.6 79.3L211.6 75L211.7 72L211.7 70.2L211.8 69.8L211.8 70.7L211.9 72.7L211.9 75.7L212 79.5L212 84L212.1 88.8L212.1 93.8L212.2 98.6L212.2 103L212.3 106.8L212.3 109.8L212.4 112L212.4 113.3L212.5 113.6L212.5 113L212.5 111.6L212.6 109.3L212.6 106.4L212.7 102.9L212.7 99.1L212.8 95.2L212.8 90.8L212.9 86.1L212.9 81.7L213 77.8L213 74.5L213.1 72L213.1 70.4L213.2 69.9L213.2 70.4L213.3 71.9L213.3 74.4L213.4 77.8L213.4 81.9L213.5 86.5L213.5 91.5L213.6 95.8L213.6 99.6L213.7 103.2L213.7 106.2L213.8 108.7L213.8 110.4L213.9 111.3L213.9 111.4L214 110.5L214 108.9L214.1 106.6L214.1 103.7L214.2 100.3L214.2 96.6L214.3 92.8L214.3 87.8L214.4 83.1L214.4 78.9L214.4 75.5L214.5 72.9L214.5 71.3L214.6 70.7L214.6 71.1L214.7 72.5L214.7 74.8L214.8 77.9L214.8 81.6L214.9 85.7L214.9 90L215 93.9L215 96.9L215.1 99.6L215.1 102L215.2 103.8L215.2 105.2L215.3 105.9L215.3 106.1L215.4 105.6L215.4 104.6L215.5 103.1L215.5 101.2L215.6 99L215.6 96.5L215.7 93.9L215.7 90.8L215.8 87.4L215.8 84.4L215.9 81.8L215.9 79.7L216 78.2L216 77.4L216.1 77.3L216.1 77.9L216.2 79.2L216.2 81.1L216.3 83.5L216.3 86.3L216.3 89.4L216.4 92.6L216.4 95.1L216.5 97.5L216.5 99.7L216.6 101.5L216.6 103L216.7 104L216.7 104.5L216.8 104.5L216.8 103.9L216.9 102.9L216.9 101.4L217 99.5L217 97.3L217.1 94.9L217.1 92.3L217.2 89.2L217.2 86.4L217.3 83.8L217.3 81.8L217.4 80.2L217.4 79.3L217.5 79.1L217.5 79.4L217.6 80.4L217.6 81.9L217.7 83.9L217.7 86.3L217.8 88.8L217.8 91.5L217.9 94L217.9 96.2L218 98.2L218 99.9L218.1 101.2L218.1 102.1L218.1 102.6L218.2 102.7L218.2 102.3L218.3 101.4L218.3 100.3L218.4 98.8L218.4 97.1L218.5 95.2L218.5 93.3L218.6 91.2L218.6 89.2L218.7 87.4L218.7 85.9L218.8 84.7L218.8 83.9L218.9 83.5L218.9 83.6L219 84L219 84.9L219.1 86L219.1 87.5L219.2 89.2L219.2 90.9L219.3 92.5L219.3 93.3L219.4 93L219.4 90.7L219.5 85.7L219.5 78.2L219.6 69.1L219.6 52.3L219.7 47.5L219.7 48L219.8 53.8L219.8 62.9L219.9 72.8L219.9 81.3L220 87.7L220 92.4L220 96L220.1 99.6L220.1 103.9L220.2 109.1L220.2 115.2L220.3 121.5L220.3 127.3L220.4 131.7L220.4 134L220.5 134.1L220.5 133.5L220.6 132.3L220.6 130.6L220.7 128.5L220.7 126.1L220.8 128.2L220.8 132.6L220.9 135.1L220.9 135L221 129.1L221 120.4L221.1 111.5L221.1 102.9L221.2 95.4L221.2 88.5L221.3 82.4L221.3 77.4L221.4 73.6L221.4 71.1L221.5 69.9L221.5 70L221.6 71.3L221.6 73.8L221.7 77.1L221.7 81.2L221.8 85.9L221.8 90.8L221.9 95.7L221.9 100.4L221.9 104.6L222 108.1L222 110.8L222.1 112.7L222.1 113.6L222.2 113.5L222.2 112.6L222.3 110.8L222.3 108.2L222.4 105.1L222.4 101.5L222.5 97.6L222.5 93.6L222.6 88.9L222.6 84.3L222.7 80.1L222.7 76.4L222.8 73.4L222.8 71.2L222.9 70.1L222.9 69.9L223 70.9L223 72.8L223.1 75.6L223.1 79.3L223.2 83.7L223.2 88.5L223.3 93.4L223.3 97.4L223.4 101.1L223.4 104.5L223.5 107.3L223.5 109.5L223.6 110.9L223.6 111.4L223.7 111.1L223.7 110L223.8 108.1L223.8 105.5L223.8 102.4L223.9 98.8L223.9 95.1L224 90.8L224 85.8L224.1 81.3L224.1 77.4L224.2 74.3L224.2 72.1L224.3 70.9L224.3 70.7L224.4 71.6L224.4 73.4L224.5 76L224.5 79.3L224.6 83.2L224.6 87.4L224.7 91.7L224.7 95.1L224.8 98L224.8 100.6L224.9 102.8L224.9 104.4L225 105.5L225 106L225.1 105.9L225.1 105.3L225.2 104.1L225.2 102.4L225.3 100.3L225.3 98L225.4 95.5L225.4 92.9L225.5 89.4L225.5 86.2L225.6 83.3L225.6 80.9L225.6 79L225.7 77.8L225.7 77.3L225.8 77.5L225.8 78.4L225.9 79.9L225.9 82L226 84.6L226 87.5L226.1 90.6L226.1 93.7L226.2 96.1L226.2 98.4L226.3 100.5L226.3 102.2L226.4 103.5L226.4 104.3L226.5 104.5L226.5 104.3L226.6 103.6L226.6 102.4L226.7 100.7L226.7 98.7L226.8 96.4L226.8 93.9L226.9 91L226.9 88L227 85.3L227 83L227.1 81.1L227.1 79.8L227.2 79.1L227.2 79.1L227.3 79.7L227.3 80.9L227.4 82.7L227.4 84.8L227.5 87.3L227.5 89.9L227.5 92.6L227.6 94.9L227.6 97L227.7 98.9L227.7 100.4L227.8 101.6L227.8 102.4L227.9 102.7L227.9 102.5L228 102L228 101L228.1 99.7L228.1 98.1L228.2 96.4L228.2 94.5L228.3 92.5L228.3 90.4L228.4 88.5L228.4 86.8L228.5 85.4L228.5 84.4L228.6 83.7L228.6 83.5L228.7 83.7L228.7 84.3L228.8 85.3L228.8 86.6L228.9 88.2L228.9 89.9L229 91.6L229 92.9L229.1 93.4L229.1 92.3L229.2 89L229.2 83L229.3 74.6L229.3 65.6L229.4 49.8L229.4 47L229.4 49.8L229.5 57.2L229.5 66.9L229.6 76.4L229.6 84.1L229.7 89.8L229.7 93.9L229.8 97.4L229.8 101.3L229.9 105.9L229.9 111.5L230 117.7L230 123.9L230.1 129.2L230.1 132.9L230.2 134.2L230.2 133.9L230.3 133.1L230.3 131.7L230.4 129.8L230.4 127.6L230.5 125L230.5 130.1L230.6 133.9L230.6 135.4L230.7 134L230.7 125.6L230.8 116.8L230.8 107.9L230.9 99.9L230.9 92.5L231 85.9L231 80.3L231.1 75.8L231.1 72.5L231.2 70.5L231.2 69.8L231.3 70.4L231.3 72.2L231.3 75L231.4 78.7L231.4 83L231.5 87.8L231.5 92.8L231.6 97.7L231.6 102.2L231.7 106.1L231.7 109.3L231.8 111.7L231.8 113.1L231.9 113.7L231.9 113.2L232 111.9L232 109.8L232.1 107L232.1 103.7L232.2 99.9L232.2 96L232.3 91.8L232.3 87L232.4 82.5L232.4 78.5L232.5 75.1L232.5 72.4L232.6 70.7L232.6 69.9L232.7 70.2L232.7 71.5L232.8 73.8L232.8 77L232.9 81L232.9 85.6L233 90.5L233 95L233.1 98.9L233.1 102.5L233.1 105.7L233.2 108.3L233.2 110.1L233.3 111.2L233.3 111.4L233.4 110.8L233.4 109.3L233.5 107.1L233.5 104.3L233.6 101L233.6 97.4L233.7 93.6L233.7 88.8L233.8 84L233.8 79.7L233.9 76.1L233.9 73.3L234 71.5L234 70.7L234.1 70.9L234.1 72.2L234.2 74.3L234.2 77.2L234.3 80.8L234.3 84.8L234.4 89.1L234.4 93.3L234.5 96.3L234.5 99.1L234.6 101.5L234.6 103.5L234.7 104.9L234.7 105.8L234.8 106.1L234.8 105.7L234.9 104.9L234.9 103.5L235 101.6L235 99.4L235 97L235.1 94.4L235.1 91.5L235.2 88.1L235.2 85L235.3 82.3L235.3 80.1L235.4 78.5L235.4 77.5L235.5 77.3L235.5 77.8L235.6 78.9L235.6 80.7L235.7 83L235.7 85.7L235.8 88.7L235.8 91.9L235.9 94.6L235.9 97.1L236 99.3L236 101.2L236.1 102.7L236.1 103.8L236.2 104.4L236.2 104.5L236.3 104.1L236.3 103.1L236.4 101.7L236.4 99.9L236.5 97.8L236.5 95.4L236.6 92.9L236.6 89.8L236.7 86.9L236.7 84.3L236.8 82.1L236.8 80.5L236.9 79.5L236.9 79.1L236.9 79.3L237 80.2L237 81.6L237.1 83.5L237.1 85.8L237.2 88.3L237.2 91L237.3 93.6L237.3 95.8L237.4 97.8L237.4 99.6L237.5 101L237.5 102L237.6 102.6L237.6 102.7L237.7 102.4L237.7 101.6L237.8 100.5L237.8 99.1L237.9 97.4L237.9 95.6L238 93.7L238 91.7L238.1 89.6L238.1 87.8L238.2 86.2L238.2 84.9L238.3 84.1L238.3 83.6L238.4 83.5L238.4 83.9L238.5 84.7L238.5 85.8L238.6 87.2L238.6 88.8L238.7 90.6L238.7 92.2L238.7 93.2L238.8 93.2L238.8 91.3L238.9 86.9L238.9 79.9L239 71L239 62.3L239.1 48L239.1 47.5L239.2 52.3L239.2 61L239.3 70.9L239.3 79.8L239.4 86.6L239.4 91.5L239.5 95.3L239.5 98.9L239.6 103L239.6 108L239.7 113.9L239.7 120.2L239.8 126.2L239.8 130.9L239.9 133.7L239.9 134.1L240 133.6L240 132.6L240.1 131L240.1 129L240.2 126.6L240.2 127.2L240.3 131.8L240.3 134.8L240.4 135.2L240.4 130.7L240.5 122.1L240.5 113.2L240.6 104.5L240.6 96.9L240.6 89.8L240.7 83.6L240.7 78.3L240.8 74.3L240.8 71.5L240.9 70.1L240.9 69.9L241 71L241 73.2L241.1 76.4L241.1 80.4L241.2 84.9L241.2 89.8L241.3 94.8L241.3 99.5L241.4 103.8L241.4 107.5L241.5 110.4L241.5 112.4L241.6 113.5L241.6 113.6L241.7 112.8L241.7 111.2L241.8 108.8L241.8 105.7L241.9 102.2L241.9 98.4L242 94.4L242 89.9L242.1 85.2L242.1 80.9L242.2 77L242.2 73.9L242.3 71.6L242.3 70.2L242.4 69.9L242.4 70.6L242.5 72.3L242.5 75L242.5 78.5L242.6 82.8L242.6 87.5L242.7 92.5L242.7 96.6L242.8 100.4L242.8 103.8L242.9 106.8L242.9 109.1L243 110.6L243 111.4L243.1 111.3L243.1 110.3L243.2 108.5L243.2 106.1L243.3 103L243.3 99.6L243.4 95.8L243.4 91.8L243.5 86.8L243.5 82.2L243.6 78.2L243.6 74.9L243.7 72.5L243.7 71.1L243.8 70.7L243.8 71.3L243.9 72.9L243.9 75.4L244 78.6L244 82.4L244.1 86.5L244.1 90.8L244.2 94.5L244.2 97.4L244.3 100.1L244.3 102.4L244.4 104.1L244.4 105.4L244.4 106L244.5 106L244.5 105.5L244.6 104.4L244.6 102.8L244.7 100.8L244.7 98.5L244.8 96L244.8 93.4L244.9 90.1L244.9 86.8L245 83.8L245 81.3L245.1 79.4L245.1 78L245.2 77.4L245.2 77.4L245.3 78.2L245.3 79.5L245.4 81.5L245.4 84L245.5 86.9L245.5 90L245.6 93.2L245.6 95.6L245.7 98L245.7 100.1L245.8 101.9L245.8 103.2L245.9 104.1L245.9 104.5L246 104.4L246 103.8L246.1 102.6L246.1 101.1L246.2 99.1L246.2 96.8L246.2 94.4L246.3 91.7L246.3 88.6L246.4 85.8L246.4 83.4L246.5 81.4L246.5 80L246.6 79.2L246.6 79.1L246.7 79.6L246.7 80.7L246.8 82.3L246.8 84.4L246.9 86.8L246.9 89.4L247 92.1L247 94.5L247.1 96.6L247.1 98.5L247.2 100.2L247.2 101.4L247.3 102.3L247.3 102.7L247.4 102.6L247.4 102.1L247.5 101.2L247.5 100L247.6 98.5L247.6 96.7L247.7 94.8L247.7 92.9L247.8 90.8L247.8 88.9L247.9 87.1L247.9 85.7L248 84.5L248 83.8L248.1 83.5L248.1 83.6L248.1 84.2L248.2 85.1L248.2 86.3L248.3 87.8L248.3 89.5L248.4 91.3L248.4 92.7L248.5 93.4L248.5 92.7L248.6 89.9L248.6 84.4L248.7 76.4L248.7 67.3L248.8 50.9L248.8 47.1L248.9 48.8L248.9 55.5L249 64.9L249 74.6L249.1 82.8L249.1 88.8L249.2 93.1L249.2 96.7L249.3 100.4L249.3 104.9L249.4 110.3L249.4 116.4L249.5 122.7L249.5 128.3L249.6 132.3L249.6 134.1L249.7 134L249.7 133.3L249.8 132L249.8 130.2L249.9 128.1L249.9 125.6L250 129.2L250 133.3L250 135.3L250.1 134.6L250.1 127.3L250.2 118.6L250.2 109.7L250.3 101.4L250.3 93.9L250.4 87.2L250.4 81.3L250.5 76.6L250.5 73L250.6 70.8L250.6 69.8L250.7 70.2L250.7 71.8L250.8 74.4L250.8 77.9L250.9 82.1L250.9 86.8L251 91.8L251 96.7L251.1 101.3L251.1 105.4L251.2 108.7L251.2 111.3L251.3 112.9L251.3 113.6L251.4 113.4L251.4 112.3L251.5 110.3L251.5 107.6L251.6 104.4L251.6 100.7L251.7 96.8L251.7 92.7L251.8 88L251.8 83.4L251.9 79.3L251.9 75.7L251.9 72.9L252 70.9L252 70L252.1 70L252.1 71.2L252.2 73.3L252.2 76.3L252.3 80.1L252.3 84.6L252.4 89.5L252.4 94.2L252.5 98.1L252.5 101.8L252.6 105.1L252.6 107.8L252.7 109.8L252.7 111L252.8 111.4L252.8 111L252.9 109.7L252.9 107.6L253 104.9L253 101.7L253.1 98.1L253.1 94.3L253.2 89.8L253.2 84.9L253.3 80.5L253.3 76.8L253.4 73.8L253.4 71.8L253.5 70.8L253.5 70.8L253.6 71.9L253.6 73.8L253.7 76.6L253.7 80.1L253.7 84L253.8 88.2L253.8 92.5L253.9 95.7L253.9 98.6L254 101.1L254 103.1L254.1 104.7L254.1 105.7L254.2 106.1L254.2 105.9L254.3 105.1L254.3 103.8L254.4 102L254.4 99.9L254.5 97.5L254.5 94.9L254.6 92.2L254.6 88.7L254.7 85.6L254.7 82.8L254.8 80.5L254.8 78.7L254.9 77.7L254.9 77.3L255 77.6L255 78.6L255.1 80.3L255.1 82.5L255.2 85.1L255.2 88.1L255.3 91.3L255.3 94.2L255.4 96.6L255.4 98.8L255.5 100.8L255.5 102.5L255.6 103.7L255.6 104.4L255.6 104.5L255.7 104.2L255.7 103.4L255.8 102.1L255.8 100.3L255.9 98.2L255.9 95.9L256 93.4L256 90.4L256.1 87.5L256.1 84.8L256.2 82.5L256.2 80.8L256.3 79.6L256.3 79.1L256.4 79.2L256.4 79.9L256.5 81.3L256.5 83.1L256.6 85.3L256.6 87.8L256.7 90.5L256.7 93.1L256.8 95.3L256.8 97.4L256.9 99.2L256.9 100.7L257 101.8L257 102.5L257.1 102.7L257.1 102.5L257.2 101.8L257.2 100.8L257.3 99.4L257.3 97.8L257.4 96L257.4 94.1L257.5 92.1L257.5 90L257.5 88.1L257.6 86.5L257.6 85.2L257.7 84.2L257.7 83.7L257.8 83.5L257.8 83.8L257.9 84.5L257.9 85.5L258 86.9L258 88.5L258.1 90.2L258.1 91.9L258.2 93.1L258.2 93.3L258.3 91.9L258.3 88L258.4 81.5L258.4 72.8L258.5 63.9L258.5 48.8L258.6 47.1L258.6 51L258.7 59.1L258.7 68.9L258.8 78.1L258.8 85.4L258.9 90.7L258.9 94.6L259 98.1L259 102.1L259.1 107L259.1 112.7L259.2 118.9L259.2 125L259.3 130.1L259.3 133.3L259.4 134.2L259.4 133.8L259.4 132.8L259.5 131.3L259.5 129.4L259.6 127.1L259.6 126.1L259.7 131L259.7 134.4L259.8 135.4L259.8 132.4L259.9 123.9L259.9 115L260 106.2L260 98.3L260.1 91.1L260.1 84.7L260.2 79.3L260.2 75L260.3 72L260.3 70.2L260.4 69.8L260.4 70.7L260.5 72.7L260.5 75.7L260.6 79.5L260.6 84L260.7 88.8L260.7 93.8L260.8 98.6L260.8 103L260.9 106.8L260.9 109.8L261 112L261 113.3L261.1 113.6L261.1 113L261.2 111.6L261.2 109.3L261.2 106.4L261.3 102.9L261.3 99.1L261.4 95.2L261.4 90.8L261.5 86.1L261.5 81.7L261.6 77.8L261.6 74.5L261.7 72L261.7 70.4L261.8 69.9L261.8 70.4L261.9 71.9L261.9 74.4L262 77.8L262 81.9L262.1 86.5L262.1 91.5L262.2 95.8L262.2 99.6L262.3 103.2L262.3 106.2L262.4 108.7L262.4 110.4L262.5 111.3L262.5 111.4L262.6 110.5L262.6 108.9L262.7 106.6L262.7 103.7L262.8 100.3L262.8 96.6L262.9 92.8L262.9 87.8L263 83.1L263 78.9L263.1 75.5L263.1 72.9L263.1 71.3L263.2 70.7L263.2 71.1L263.3 72.5L263.3 74.8L263.4 77.9L263.4 81.6L263.5 85.7L263.5 90L263.6 93.9L263.6 96.9L263.7 99.6L263.7 102L263.8 103.8L263.8 105.2L263.9 105.9L263.9 106.1L264 105.6L264 104.6L264.1 103.1L264.1 101.2L264.2 99L264.2 96.5L264.3 93.9L264.3 90.8L264.4 87.4L264.4 84.4L264.5 81.8L264.5 79.7L264.6 78.2L264.6 77.4L264.7 77.3L264.7 77.9L264.8 79.2L264.8 81.1L264.9 83.5L264.9 86.3L265 89.4L265 92.6L265 95.1L265.1 97.5L265.1 99.7L265.2 101.5L265.2 103L265.3 104L265.3 104.5L265.4 104.5L265.4 103.9L265.5 102.9L265.5 101.4L265.6 99.5L265.6 97.3L265.7 94.9L265.7 92.3L265.8 89.2L265.8 86.4L265.9 83.8L265.9 81.8L266 80.2L266 79.3L266.1 79.1L266.1 79.4L266.2 80.4L266.2 81.9L266.3 83.9L266.3 86.3L266.4 88.8L266.4 91.5L266.5 94L266.5 96.2L266.6 98.2L266.6 99.9L266.7 101.2L266.7 102.1L266.8 102.6L266.8 102.7L266.8 102.3L266.9 101.4L266.9 100.3L267 98.8L267 97.1L267.1 95.2L267.1 93.3L267.2 91.2L267.2 89.2L267.3 87.4L267.3 85.9L267.4 84.7L267.4 83.9L267.5 83.5L267.5 83.6L267.6 84L267.6 84.9L267.7 86L267.7 87.5L267.8 89.2L267.8 90.9L267.9 92.5L267.9 93.3L268 93L268 90.7L268.1 85.7L268.1 78.2L268.2 69.1L268.2 52.3L268.3 47.5L268.3 48L268.4 53.8L268.4 62.9L268.5 72.8L268.5 81.3L268.6 87.7L268.6 92.4L268.7 96L268.7 99.6L268.7 103.9L268.8 109.1L268.8 115.2L268.9 121.5L268.9 127.3L269 131.7L269 134L269.1 134.1L269.1 133.5L269.2 132.3L269.2 130.6L269.3 128.5L269.3 126.1L269.4 128.2L269.4 132.6L269.5 135.1L269.5 135L269.6 129.1L269.6 120.4L269.7 111.5L269.7 102.9L269.8 95.4L269.8 88.5L269.9 82.4L269.9 77.4L270 73.6L270 71.1L270.1 69.9L270.1 70L270.2 71.3L270.2 73.8L270.3 77.1L270.3 81.2L270.4 85.9L270.4 90.8L270.5 95.7L270.5 100.4L270.6 104.6L270.6 108.1L270.6 110.8L270.7 112.7L270.7 113.6L270.8 113.5L270.8 112.6L270.9 110.8L270.9 108.2L271 105.1L271 101.5L271.1 97.6L271.1 93.6L271.2 88.9L271.2 84.3L271.3 80.1L271.3 76.4L271.4 73.4L271.4 71.2L271.5 70.1L271.5 69.9L271.6 70.9L271.6 72.8L271.7 75.6L271.7 79.3L271.8 83.7L271.8 88.5L271.9 93.4L271.9 97.4L272 101.1L272 104.5L272.1 107.3L272.1 109.5L272.2 110.9L272.2 111.4L272.3 111.1L272.3 110L272.4 108.1L272.4 105.5L272.5 102.4L272.5 98.8L272.5 95.1L272.6 90.8L272.6 85.8L272.7 81.3L272.7 77.4L272.8 74.3L272.8 72.1L272.9 70.9L272.9 70.7L273 71.6L273 73.4L273.1 76L273.1 79.3L273.2 83.2L273.2 87.4L273.3 91.7L273.3 95.1L273.4 98L273.4 100.6L273.5 102.8L273.5 104.4L273.6 105.5L273.6 106L273.7 105.9L273.7 105.3L273.8 104.1L273.8 102.4L273.9 100.3L273.9 98L274 95.5L274 92.9L274.1 89.4L274.1 86.2L274.2 83.3L274.2 80.9L274.3 79L274.3 77.8L274.3 77.3L274.4 77.5L274.4 78.4L274.5 79.9L274.5 82L274.6 84.6L274.6 87.5L274.7 90.6L274.7 93.7L274.8 96.1L274.8 98.4L274.9 100.5L274.9 102.2L275 103.5L275 104.3L275.1 104.5L275.1 104.3L275.2 103.6L275.2 102.4L275.3 100.7L275.3 98.7L275.4 96.4L275.4 93.9L275.5 91L275.5 88L275.6 85.3L275.6 83L275.7 81.1L275.7 79.8L275.8 79.1L275.8 79.1L275.9 79.7L275.9 80.9L276 82.7L276 84.8L276.1 87.3L276.1 89.9L276.2 92.6L276.2 94.9L276.2 97L276.3 98.9L276.3 100.4L276.4 101.6L276.4 102.4L276.5 102.7L276.5 102.5L276.6 102L276.6 101L276.7 99.7L276.7 98.1L276.8 96.4L276.8 94.5L276.9 92.5L276.9 90.4L277 88.5L277 86.8L277.1 85.4L277.1 84.4L277.2 83.7L277.2 83.5L277.3 83.7L277.3 84.3L277.4 85.3L277.4 86.6L277.5 88.2L277.5 90L277.6 91.9L277.6 93.8L277.7 95.5L277.7 97.2L277.8 98.7L277.8 99.9L277.9 100.8L277.9 101.3L278 101.5L278 101.2L278.1 100.5L278.1 99.5L278.1 98.2L278.2 96.7L278.2 95.1L278.3 93.3L278.3 91.4L278.4 89.7L278.4 88.1L278.5 86.7L278.5 85.7L278.6 85L278.6 84.7L278.7 84.8L278.7 85.2L278.8 86L278.8 87.1L278.9 88.4L278.9 89.9L279 91.4L279 93L279.1 94.4L279.1 95.7L279.2 96.8L279.2 97.6L279.3 98.2L279.3 98.6L279.4 98.6L279.4 98.4L279.5 98L279.5 97.3L279.6 96.5L279.6 95.6L279.7 94.6L279.7 93.5L279.8 92.5L279.8 91.5L279.9 90.7L279.9 90L280 89.4L280 89.1L280 88.9L280.1 89L280.1 89.2L280.2 89.5L280.2 90L280.3 90.6L280.3 91.3L280.4 92L280.4 92.7L280.5 93.3L280.5 93.9L280.6 94.3L280.6 94.7L280.7 95L280.7 95.2L280.8 95.2L280.8 95.2L280.9 95L280.9 94.7L281 94.4L281 94.1L281.1 93.7L281.1 93.3L281.2 92.9L281.2 92.6L281.3 92.3L281.3 92L281.4 91.9L281.4 91.8L281.5 91.8L281.5 91.9L281.6 92L281.6 92.2L281.7 92.3L281.7 92.5L281.8 92.7L281.8 92.8L281.8 92.9L281.9 92.9L281.9 92.9L282 92.9L282 92.9L282.1 92.9L282.1 92.9L282.2 92.9L282.2 92.9L282.3 92.9L282.3 92.9L282.4 92.9L282.4 92.9L282.5 92.9L282.5 92.9L282.6 92.9L282.6 92.9L282.7 92.9L282.7 92.9L282.8 92.9L282.8 92.9L282.9 92.9L282.9 92.9L283 92.9L283 92.9L283.1 92.9L283.1 92.9L283.2 92.9L283.2 92.9L283.3 92.9L283.3 92.9L283.4 92.9L283.4 92.9L283.5 92.9L283.5 92.9L283.6 92.9L283.6 92.9L283.7 92.9L283.7 92.9L283.7 92.9L283.8 92.9L283.8 92.9L283.9 92.9L283.9 92.9L284 92.9L284 92.9L284.1 92.9L284.1 92.9L284.2 92.9L284.2 92.9L284.3 92.9L284.3 92.9L284.4 92.9L284.4 92.9L284.5 92.9L284.5 92.9L284.6 92.9L284.6 92.9L284.7 92.9L284.7 92.9L284.8 92.9L284.8 92.9L284.9 92.9L284.9 92.9L285 92.9L285 92.9L285.1 92.9L285.1 92.9L285.2 92.9L285.2 92.9L285.3 92.9L285.3 92.9L285.4 92.9L285.4 92.9L285.5 92.9L285.5 92.9L285.6 92.9L285.6 92.9L285.6 92.9L285.7 92.9L285.7 92.9L285.8 92.9L285.8 92.9L285.9 92.9L285.9 92.9L286 92.9L286 92.9L286.1 92.9L286.1 92.9L286.2 92.9L286.2 92.9L286.3 92.9L286.3 92.9L286.4 92.9L286.4 92.9L286.5 92.9L286.5 92.9L286.6 92.9L286.6 92.9L286.7 92.9L286.7 92.9L286.8 92.9L286.8 92.9L286.9 92.9L286.9 92.9L287 92.9L287 92.9L287.1 92.9L287.1 92.9L287.2 92.9L287.2 92.9L287.3 92.9L287.3 92.9L287.4 92.9L287.4 92.9L287.4 92.9L287.5 92.9L287.5 92.9L287.6 92.9L287.6 92.9L287.7 92.9L287.7 92.9L287.8 92.9L287.8 92.9L287.9 92.9L287.9 92.9L288 92.9L288 92.9L288.1 92.9L288.1 92.9L288.2 92.9L288.2 92.9L288.3 92.9L288.3 92.9L288.4 92.9L288.4 92.9L288.5 92.9L288.5 92.9L288.6 92.9L288.6 92.9L288.7 92.9L288.7 92.9L288.8 92.9L288.8 92.9L288.9 92.9L288.9 92.9L289 92.9L289 92.9L289.1 92.9L289.1 92.9L289.2 92.9L289.2 92.9L289.3 92.9L289.3 92.9L289.3 92.9L289.4 92.9L289.4 92.9L289.5 92.9L289.5 92.9L289.6 92.9L289.6 92.9L289.7 92.9L289.7 92.9L289.8 92.9L289.8 92.9L289.9 92.9L289.9 92.9L290 92.9L290 92.9L290.1 92.9L290.1 92.9L290.2 92.9L290.2 92.9L290.3 92.9L290.3 92.9L290.4 92.9L290.4 92.9L290.5 92.9L290.5 92.9L290.6 92.9L290.6 92.9L290.7 92.9L290.7 92.9L290.8 92.9L290.8 92.9L290.9 92.9L290.9 92.9L291 92.9L291 92.9L291.1 92.9L291.1 92.9L291.2 92.9L291.2 92.9L291.2 92.9L291.3 92.9L291.3 92.9L291.4 92.9L291.4 92.9L291.5 92.9L291.5 92.9L291.6 92.9L291.6 92.9L291.7 92.9L291.7 92.9L291.8 92.9L291.8 92.9L291.9 92.9L291.9 92.9L292 92.9L292 92.9L292.1 92.9L292.1 92.9L292.2 92.9L292.2 92.9L292.3 92.9L292.3 92.9L292.4 92.9L292.4 92.9L292.5 92.9L292.5 92.9L292.6 92.9L292.6 92.9L292.7 92.9L292.7 92.9L292.8 92.9L292.8 92.9L292.9 92.9L292.9 92.9L293 92.9L293 92.9L293.1 92.9L293.1 92.9L293.1 92.9L293.2 92.9L293.2 92.9L293.3 92.9L293.3 92.9L293.4 92.9L293.4 92.9L293.5 92.9L293.5 92.9L293.6 92.9L293.6 92.9L293.7 92.9L293.7 92.9L293.8 92.9L293.8 92.9L293.9 92.9L293.9 92.9L294 92.9L294 92.9L294.1 92.9L294.1 92.9L294.2 92.9L294.2 92.9L294.3 92.9L294.3 92.9L294.4 92.9L294.4 92.9L294.5 92.9L294.5 92.9L294.6 92.9L294.6 92.9L294.7 92.9L294.7 92.9L294.8 92.9L294.8 92.9L294.9 92.9L294.9 92.9L294.9 92.9L295 92.9L295 92.9L295.1 92.9L295.1 92.9L295.2 92.9L295.2 92.9L295.3 92.9L295.3 92.9L295.4 92.9L295.4 92.9L295.5 92.9L295.5 92.9L295.6 92.9L295.6 92.9L295.7 92.9L295.7 92.9L295.8 92.9L295.8 92.9L295.9 92.9L295.9 92.9L296 92.9L296 92.9L296.1 92.9L296.1 92.9L296.2 92.9L296.2 92.9L296.3 92.9L296.3 92.9L296.4 92.9L296.4 92.9L296.5 92.9L296.5 92.9L296.6 92.9L296.6 92.9L296.7 92.9L296.7 92.9L296.8 92.9L296.8 92.9L296.8 92.9L296.9 92.9L296.9 92.9L297 92.9L297 92.9L297.1 92.9L297.1 92.9L297.2 92.9L297.2 92.9L297.3 92.9L297.3 92.9L297.4 92.9L297.4 92.9L297.5 92.9L297.5 92.9L297.6 92.9L297.6 92.9L297.7 92.9L297.7 92.9L297.8 92.9L297.8 92.9L297.9 92.9L297.9 92.9L298 92.9L298 92.9L298.1 92.9L298.1 92.9L298.2 92.9L298.2 92.9L298.3 92.9L298.3 92.9L298.4 92.9L298.4 92.9L298.5 92.9L298.5 92.9L298.6 92.9L298.6 92.9L298.7 92.9L298.7 92.9L298.7 92.9L298.8 92.9L298.8 92.9L298.9 92.9L298.9 92.9L299 92.9L299 92.9L299.1 92.9L299.1 92.9L299.2 92.9L299.2 92.9L299.3 92.9L299.3 92.9L299.4 92.9L299.4 92.9L299.5 92.9L299.5 92.9L299.6 92.9L299.6 92.9L299.7 92.9L299.7 92.9L299.8 92.9L299.8 92.9L299.9 92.9L299.9 92.9L300 92.9L300 92.9L300.1 92.9L300.1 92.9L300.2 92.9L300.2 92.9L300.3 92.9L300.3 92.9L300.4 92.9L300.4 92.9L300.5 92.9L300.5 92.9L300.6 92.9L300.6 92.9L300.6 92.9L300.7 92.9L300.7 92.9L300.8 92.9L300.8 92.9L300.9 92.9L300.9 92.9L301 92.9L301 92.9L301.1 92.9L301.1 92.9L301.2 92.9L301.2 92.9L301.3 92.9L301.3 92.9L301.4 92.9L301.4 92.9L301.5 92.9L301.5 92.9L301.6 92.9L301.6 92.9L301.7 92.9L301.7 92.9L301.8 92.9L301.8 92.9L301.9 92.9L301.9 92.9L302 92.9L302 92.9L302.1 92.9L302.1 92.9L302.2 92.9L302.2 92.9L302.3 92.9L302.3 92.9L302.4 92.9L302.4 92.9L302.4 92.9L302.5 92.9L302.5 92.9L302.6 92.9L302.6 92.9L302.7 92.9L302.7 92.9L302.8 92.9L302.8 92.9L302.9 92.9L302.9 92.9L303 92.9L303 92.9L303.1 92.9L303.1 92.9L303.2 92.9L303.2 92.9L303.3 92.9L303.3 92.9L303.4 92.9L303.4 92.9L303.5 92.9L303.5 92.9L303.6 92.9L303.6 92.9L303.7 92.9L303.7 92.9L303.8 92.9L303.8 92.9L303.9 92.9L303.9 92.9L304 92.9L304 92.9L304.1 92.9L304.1 92.9L304.2 92.9L304.2 92.9L304.3 92.9L304.3 92.9L304.3 92.9L304.4 92.9L304.4 92.9L304.5 92.9L304.5 92.9L304.6 92.9L304.6 92.9L304.7 92.9L304.7 92.9L304.8 92.9L304.8 92.9L304.9 92.9L304.9 92.9L305 92.9L305 92.9L305.1 92.9L305.1 92.9L305.2 92.9L305.2 92.9L305.3 92.9L305.3 92.9L305.4 92.9L305.4 92.9L305.5 92.9L305.5 92.9L305.6 92.9L305.6 92.9L305.7 92.9L305.7 92.9L305.8 92.9L305.8 92.9L305.9 92.9L305.9 92.9L306 92.9L306 92.9L306.1 92.9L306.1 92.9L306.2 92.9L306.2 92.9L306.2 92.9L306.3 92.9L306.3 92.9L306.4 92.9L306.4 92.9L306.5 92.9L306.5 92.9L306.6 92.9L306.6 92.9L306.7 92.9L306.7 92.9L306.8 92.9L306.8 92.9L306.9 92.9L306.9 92.9L307 92.9L307 92.9L307.1 92.9L307.1 92.9L307.2 92.9L307.2 92.9L307.3 92.9L307.3 92.9L307.4 92.9L307.4 92.9L307.5 92.9L307.5 92.9L307.6 92.9L307.6 92.9L307.7 92.9L307.7 92.9L307.8 92.9L307.8 92.9L307.9 92.9L307.9 92.9L308 92.9L308 92.9L308.1 92.9L308.1 92.9L308.1 92.9L308.2 92.9L308.2 92.9L308.3 92.9L308.3 92.9L308.4 92.9L308.4 92.9L308.5 92.9L308.5 92.9L308.6 92.9L308.6 92.9L308.7 92.9L308.7 92.9L308.8 92.9L308.8 92.9L308.9 92.9L308.9 92.9L309 92.9L309 92.9L309.1 92.9L309.1 92.9L309.2 92.9L309.2 92.9L309.3 92.9L309.3 92.9L309.4 92.9L309.4 92.9L309.5 92.9L309.5 92.9L309.6 92.9L309.6 92.9L309.7 92.9L309.7 92.9L309.8 92.9L309.8 92.9L309.9 92.9L309.9 92.9L309.9 92.9L310 92.9L310 92.9L310.1 92.9L310.1 92.9L310.2 92.9L310.2 92.9L310.3 92.9L310.3 92.9L310.4 92.9L310.4 92.9L310.5 92.9L310.5 92.9L310.6 92.9L310.6 92.9L310.7 92.9L310.7 92.9L310.8 92.9L310.8 92.9L310.9 92.9L310.9 92.9L311 92.9L311 92.9L311.1 92.9L311.1 92.9L311.2 92.9L311.2 92.9L311.3 92.9L311.3 92.9L311.4 92.9L311.4 92.9L311.5 92.9L311.5 92.9L311.6 92.9L311.6 92.9L311.7 92.9L311.7 92.9L311.8 92.9L311.8 92.9L311.8 92.9L311.9 92.9L311.9 92.9L312 92.9L312 92.9L312.1 92.9L312.1 92.9L312.2 92.9L312.2 92.9L312.3 92.9L312.3 92.9L312.4 92.9L312.4 92.9L312.5 92.9L312.5 92.9L312.6 92.9L312.6 92.9L312.7 92.9L312.7 92.9L312.8 92.9L312.8 92.9L312.9 92.9L312.9 92.9L313 92.9L313 92.9L313.1 92.9L313.1 92.9L313.2 92.9L313.2 92.9L313.3 92.9L313.3 92.9L313.4 92.9L313.4 92.9L313.5 92.9L313.5 92.9L313.6 92.9L313.6 92.9L313.7 92.9L313.7 92.9L313.7 92.9L313.8 92.9L313.8 92.9L313.9 92.9L313.9 92.9L314 92.9L314 92.9L314.1 92.9L314.1 92.9L314.2 92.9L314.2 92.9L314.3 92.9L314.3 92.9L314.4 92.9L314.4 92.9L314.5 92.9L314.5 92.9L314.6 92.9L314.6 92.9L314.7 92.9L314.7 92.9L314.8 92.9L314.8 92.9L314.9 92.9L314.9 92.9L315 92.9L315 92.9L315.1 92.9L315.1 92.9L315.2 92.9L315.2 92.9L315.3 92.9L315.3 92.9L315.4 92.9L315.4 92.9L315.5 92.9L315.5 92.9L315.5 92.9L315.6 92.9L315.6 92.9L315.7 92.9L315.7 92.9L315.8 92.9L315.8 92.9L315.9 92.9L315.9 92.9L316 92.9L316 92.9L316.1 92.9L316.1 92.9L316.2 92.9L316.2 92.9L316.3 92.9L316.3 92.9L316.4 92.9L316.4 92.9L316.5 92.9L316.5 92.9L316.6 92.9L316.6 92.9L316.7 92.9L316.7 92.9L316.8 92.9L316.8 92.9L316.9 92.9L316.9 92.9L317 92.9L317 92.9L317.1 92.9L317.1 92.9L317.2 92.9L317.2 92.9L317.3 92.9L317.3 92.9L317.4 92.9L317.4 92.9L317.4 92.9L317.5 92.9L317.5 92.9L317.6 92.9L317.6 92.9L317.7 92.9L317.7 92.9L317.8 92.9L317.8 92.9L317.9 92.9L317.9 92.9L318 92.9L318 92.9L318.1 92.9L318.1 92.9L318.2 92.9L318.2 92.9L318.3 92.9L318.3 92.9L318.4 92.9L318.4 92.9L318.5 92.9L318.5 92.9L318.6 92.9L318.6 92.9L318.7 92.9L318.7 92.9L318.8 92.9L318.8 92.9L318.9 92.9L318.9 92.9L319 92.9L319 92.9L319.1 92.9L319.1 92.9L319.2 92.9L319.2 92.9L319.3 92.9L319.3 92.9L319.3 92.9L319.4 92.9L319.4 92.9L319.5 92.9L319.5 92.9L319.6 92.9L319.6 92.9L319.7 92.9L319.7 92.9L319.8 92.9L319.8 92.9L319.9 92.9L319.9 92.9L320 92.9L320 92.9L320.1 92.9L320.1 92.9L320.2 92.9L320.2 92.9L320.3 92.9L320.3 92.9L320.4 92.9L320.4 92.9L320.5 92.9L320.5 92.9L320.6 92.9L320.6 92.9L320.7 92.9L320.7 92.9L320.8 92.9L320.8 92.9L320.9 92.9L320.9 92.9L321 92.9L321 92.9L321.1 92.9L321.1 92.9L321.2 92.9L321.2 92.9L321.2 92.9L321.3 92.9L321.3 92.9L321.4 92.9L321.4 92.9L321.5 92.9L321.5 92.9L321.6 92.9L321.6 92.9L321.7 92.9L321.7 92.9L321.8 92.9L321.8 92.9L321.9 92.9L321.9 92.9L322 92.9L322 92.9L322.1 92.9L322.1 92.9L322.2 92.9L322.2 92.9L322.3 92.9L322.3 92.9L322.4 92.9L322.4 92.9L322.5 92.9L322.5 92.9L322.6 92.9L322.6 92.9L322.7 92.9L322.7 92.9L322.8 92.9L322.8 92.9L322.9 92.9L322.9 92.9L323 92.9L323 92.9L323 92.9L323.1 92.9L323.1 92.9L323.2 92.9L323.2 92.9L323.3 92.9L323.3 92.9L323.4 92.9L323.4 92.9L323.5 92.9L323.5 92.9L323.6 92.9L323.6 92.9L323.7 92.9L323.7 92.9L323.8 92.9L323.8 92.9L323.9 92.9L323.9 92.9L324 92.9L324 92.9L324.1 92.9L324.1 92.9L324.2 92.9L324.2 92.9L324.3 92.9L324.3 92.9L324.4 92.9L324.4 92.9L324.5 92.9L324.5 92.9L324.6 92.9L324.6 92.9L324.7 92.9L324.7 92.9L324.8 92.9L324.8 92.9L324.9 92.9L324.9 92.9L324.9 92.9L325 92.9L325 92.9L325.1 92.9L325.1 92.9L325.2 92.9L325.2 92.9L325.3 92.9L325.3 92.9L325.4 92.9L325.4 92.9L325.5 92.9L325.5 92.9L325.6 92.9L325.6 92.9L325.7 92.9L325.7 92.9L325.8 92.9L325.8 92.9L325.9 92.9L325.9 92.9L326 92.9L326 92.9L326.1 92.9L326.1 92.9L326.2 92.9L326.2 92.9L326.3 92.9L326.3 92.9L326.4 92.9"/>
<path class="ax" d="M117 158.8V153.8M117 26.7V31.7M214.4 158.8V153.8M214.4 26.7V31.7M311.8 158.8V153.8M311.8 26.7V31.7M78 92.9H83M325 92.9H320M78 26.7H325V158.8H78Z"/>
<path class="w" d="M438.4 92.9L438.5 92.9L438.5 92.9L438.6 92.9L438.6 92.9L438.6 92.9L438.7 92.9L438.7 92.9L438.7 92.9L438.8 92.9L438.8 92.9L438.8 92.9L438.9 92.9L438.9 92.9L438.9 92.9L439 92.9L439 92.9L439.1 92.9L439.1 92.9L439.1 92.9L439.2 92.9L439.2 92.9L439.2 92.9L439.3 92.9L439.3 92.9L439.3 92.9L439.4 92.9L439.4 92.9L439.5 92.9L439.5 92.9L439.5 92.9L439.6 92.9L439.6 92.9L439.6 92.9L439.7 92.9L439.7 92.9L439.7 92.9L439.8 92.9L439.8 92.9L439.8 92.9L439.9 92.9L439.9 92.9L440 92.9L440 92.9L440 92.9L440.1 92.9L440.1 92.9L440.1 92.9L440.2 92.9L440.2 92.9L440.2 92.9L440.3 92.9L440.3 92.9L440.4 92.9L440.4 92.9L440.4 92.9L440.5 92.9L440.5 92.9L440.5 92.9L440.6 92.9L440.6 92.9L440.6 92.9L440.7 92.9L440.7 92.9L440.7 92.9L440.8 92.9L440.8 92.9L440.9 92.9L440.9 92.9L440.9 92.9L441 92.9L441 92.9L441 92.9L441.1 92.9L441.1 92.9L441.1 92.9L441.2 92.9L441.2 92.9L441.2 92.9L441.3 92.9L441.3 92.9L441.4 92.9L441.4 92.9L441.4 92.9L441.5 92.9L441.5 92.9L441.5 92.9L441.6 92.9L441.6 92.9L441.6 92.9L441.7 92.9L441.7 92.9L441.8 92.9L441.8 92.9L441.8 92.9L441.9 92.9L441.9 92.9L441.9 92.9L442 92.9L442 92.9L442 92.9L442.1 92.9L442.1 92.9L442.1 92.9L442.2 92.9L442.2 92.9L442.3 92.9L442.3 92.9L442.3 92.9L442.4 92.9L442.4 92.9L442.4 92.9L442.5 92.9L442.5 92.9L442.5 92.9L442.6 92.9L442.6 92.9L442.7 92.9L442.7 92.9L442.7 92.9L442.8 92.9L442.8 92.9L442.8 92.9L442.9 92.9L442.9 92.9L442.9 92.9L443 92.9L443 92.9L443 92.9L443.1 92.9L443.1 92.9L443.2 92.9L443.2 92.9L443.2 92.9L443.3 92.9L443.3 92.9L443.3 92.9L443.4 92.9L443.4 92.9L443.4 92.9L443.5 92.9L443.5 92.9L443.5 92.9L443.6 92.9L443.6 92.9L443.7 92.9L443.7 92.9L443.7 92.9L443.8 92.9L443.8 92.9L443.8 92.9L443.9 92.9L443.9 92.9L443.9 92.9L444 92.9L444 92.9L444.1 92.9L444.1 92.9L444.1 92.9L444.2 92.9L444.2 92.9L444.2 92.9L444.3 92.9L444.3 92.9L444.3 92.9L444.4 92.9L444.4 92.9L444.4 92.9L444.5 92.9L444.5 92.9L444.6 92.9L444.6 92.9L444.6 92.9L444.7 92.9L444.7 92.9L444.7 92.9L444.8 92.9L444.8 92.9L444.8 92.9L444.9 92.9L444.9 92.9L445 92.9L445 92.9L445 92.9L445.1 92.9L445.1 92.9L445.1 92.9L445.2 92.9L445.2 92.9L445.2 92.9L445.3 92.9L445.3 92.9L445.3 92.9L445.4 92.9L445.4 92.9L445.5 92.9L445.5 92.9L445.5 92.9L445.6 92.9L445.6 92.9L445.6 92.9L445.7 92.9L445.7 92.9L445.7 92.9L445.8 92.9L445.8 92.9L445.9 92.9L445.9 92.9L445.9 92.9L446 92.9L446 92.9L446 92.9L446.1 92.9L446.1 92.9L446.1 92.9L446.2 92.9L446.2 92.9L446.2 92.9L446.3 92.9L446.3 92.9L446.4 92.9L446.4 92.9L446.4 92.9L446.5 92.9L446.5 92.9L446.5 92.9L446.6 92.9L446.6 92.9L446.6 92.9L446.7 92.9L446.7 92.9L446.7 92.9L446.8 92.9L446.8 92.9L446.9 92.9L446.9 92.9L446.9 92.9L447 92.9L447 92.9L447 92.9L447.1 92.9L447.1 92.9L447.1 92.9L447.2 92.9L447.2 92.9L447.3 92.9L447.3 92.9L447.3 92.9L447.4 92.9L447.4 92.9L447.4 92.9L447.5 92.9L447.5 92.9L447.5 92.9L447.6 92.9L447.6 92.9L447.6 92.9L447.7 92.9L447.7 92.9L447.8 92.9L447.8 92.9L447.8 92.9L447.9 92.9L447.9 92.9L447.9 92.9L448 92.9L448 92.9L448 92.9L448.1 92.9L448.1 92.9L448.2 92.9L448.2 92.9L448.2 92.9L448.3 92.9L448.3 92.9L448.3 92.9L448.4 92.9L448.4 92.9L448.4 92.9L448.5 92.9L448.5 92.9L448.5 92.9L448.6 92.9L448.6 92.9L448.7 92.9L448.7 92.9L448.7 92.9L448.8 92.9L448.8 92.9L448.8 92.9L448.9 92.9L448.9 92.9L448.9 92.9L449 92.9L449 92.9L449.1 92.9L449.1 92.9L449.1 92.9L449.2 92.9L449.2 92.9L449.2 92.9L449.3 92.9L449.3 92.9L449.3 92.9L449.4 92.9L449.4 92.9L449.4 92.9L449.5 92.9L449.5 92.9L449.6 92.9L449.6 92.9L449.6 92.9L449.7 92.9L449.7 92.9L449.7 92.9L449.8 92.9L449.8 92.9L449.8 92.9L449.9 92.9L449.9 92.9L449.9 92.9L450 92.9L450 92.9L450.1 92.9L450.1 92.9L450.1 92.9L450.2 92.9L450.2 92.9L450.2 92.9L450.3 92.9L450.3 92.9L450.3 92.9L450.4 92.9L450.4 92.9L450.5 92.9L450.5 92.9L450.5 92.9L450.6 92.9L450.6 92.9L450.6 92.9L450.7 92.9L450.7 92.9L450.7 92.9L450.8 92.9L450.8 92.9L450.8 92.9L450.9 92.9L450.9 92.9L451 92.9L451 92.9L451 92.9L451.1 92.9L451.1 92.9L451.1 92.9L451.2 92.9L451.2 92.9L451.2 92.9L451.3 92.9L451.3 92.9L451.4 92.9L451.4 92.9L451.4 92.9L451.5 92.9L451.5 92.9L451.5 92.9L451.6 92.9L451.6 92.9L451.6 92.9L451.7 92.9L451.7 92.9L451.7 92.9L451.8 92.9L451.8 92.9L451.9 92.9L451.9 92.9L451.9 92.9L452 92.9L452 92.9L452 92.9L452.1 92.9L452.1 92.9L452.1 92.9L452.2 92.9L452.2 92.9L452.2 92.9L452.3 92.9L452.3 92.9L452.4 92.9L452.4 92.9L452.4 92.9L452.5 92.9L452.5 92.9L452.5 92.9L452.6 92.9L452.6 92.9L452.6 92.9L452.7 92.9L452.7 92.9L452.8 92.9L452.8 92.9L452.8 92.9L452.9 92.9L452.9 92.9L452.9 92.9L453 92.9L453 92.9L453 92.9L453.1 92.9L453.1 92.9L453.1 92.9L453.2 92.9L453.2 92.9L453.3 92.9L453.3 92.9L453.3 92.9L453.4 92.9L453.4 92.9L453.4 92.9L453.5 92.9L453.5 92.9L453.5 92.9L453.6 92.9L453.6 92.9L453.7 92.9L453.7 92.9L453.7 92.9L453.8 92.9L453.8 92.9L453.8 92.9L453.9 92.9L453.9 92.9L453.9 92.9L454 92.9L454 92.9L454 92.9L454.1 92.9L454.1 92.9L454.2 92.9L454.2 92.9L454.2 92.9L454.3 92.9L454.3 92.9L454.3 92.9L454.4 92.9L454.4 92.9L454.4 92.9L454.5 92.9L454.5 92.9L454.6 92.9L454.6 92.9L454.6 92.9L454.7 92.9L454.7 92.9L454.7 92.9L454.8 92.9L454.8 92.9L454.8 92.9L454.9 92.9L454.9 92.9L454.9 92.9L455 92.9L455 92.9L455.1 92.9L455.1 92.9L455.1 92.9L455.2 92.9L455.2 92.9L455.2 92.9L455.3 92.9L455.3 92.9L455.3 92.9L455.4 92.9L455.4 92.9L455.4 92.9L455.5 92.9L455.5 92.9L455.6 92.9L455.6 92.9L455.6 92.9L455.7 92.9L455.7 92.9L455.7 92.9L455.8 92.9L455.8 92.9L455.8 92.9L455.9 92.9L455.9 92.9L456 92.9L456 92.9L456 92.9L456.1 92.9L456.1 92.9L456.1 92.9L456.2 92.9L456.2 92.9L456.2 92.9L456.3 92.9L456.3 92.9L456.3 92.9L456.4 92.9L456.4 92.9L456.5 92.9L456.5 92.9L456.5 92.9L456.6 92.9L456.6 92.9L456.6 92.9L456.7 92.9L456.7 92.9L456.7 92.9L456.8 92.9L456.8 92.9L456.9 92.9L456.9 92.9L456.9 92.9L457 92.9L457 92.9L457 92.9L457.1 92.9L457.1 92.9L457.1 92.9L457.2 92.9L457.2 92.9L457.2 92.9L457.3 92.9L457.3 92.9L457.4 92.9L457.4 92.9L457.4 92.9L457.5 92.9L457.5 92.9L457.5 92.9L457.6 92.9L457.6 92.9L457.6 92.9L457.7 92.9L457.7 92.9L457.8 92.9L457.8 92.9L457.8 92.9L457.9 92.9L457.9 92.9L457.9 92.9L458 92.9L458 92.9L458 92.9L458.1 92.9L458.1 92.9L458.1 92.9L458.2 92.9L458.2 92.9L458.3 92.9L458.3 92.9L458.3 92.9L458.4 92.9L458.4 92.9L458.4 92.9L458.5 92.9L458.5 92.9L458.5 92.9L458.6 92.9L458.6 92.9L458.6 92.9L458.7 92.9L458.7 92.9L458.8 92.9L458.8 92.9L458.8 92.9L458.9 92.9L458.9 92.9L458.9 92.9L459 92.9L459 92.9L459 92.9L459.1 92.9L459.1 92.9L459.2 92.9L459.2 92.9L459.2 92.9L459.3 92.9L459.3 92.9L459.3 92.9L459.4 92.9L459.4 92.9L459.4 92.9L459.5 92.9L459.5 92.9L459.5 92.9L459.6 92.9L459.6 92.9L459.7 92.9L459.7 92.9L459.7 92.9L459.8 92.9L459.8 92.9L459.8 92.9L459.9 92.9L459.9 92.9L459.9 92.9L460 92.9L460 92.9L460.1 92.9L460.1 92.9L460.1 92.9L460.2 92.9L460.2 92.9L460.2 92.9L460.3 92.9L460.3 92.9L460.3 92.9L460.4 92.9L460.4 92.9L460.4 92.9L460.5 92.9L460.5 92.9L460.6 92.9L460.6 92.9L460.6 92.9L460.7 92.9L460.7 92.9L460.7 92.9L460.8 92.9L460.8 92.9L460.8 92.9L460.9 92.9L460.9 92.9L460.9 92.9L461 92.9L461 92.9L461.1 92.9L461.1 92.9L461.1 92.9L461.2 92.9L461.2 92.9L461.2 92.9L461.3 92.9L461.3 92.9L461.3 92.9L461.4 92.9L461.4 92.9L461.5 92.9L461.5 92.9L461.5 92.9L461.6 92.9L461.6 92.9L461.6 92.9L461.7 92.9L461.7 92.9L461.7 92.9L461.8 92.9L461.8 92.9L461.8 92.9L461.9 92.9L461.9 92.9L462 92.9L462 92.9L462 92.9L462.1 92.9L462.1 92.9L462.1 92.9L462.2 92.9L462.2 92.9L462.2 92.9L462.3 92.9L462.3 92.9L462.4 92.9L462.4 92.9L462.4 92.9L462.5 92.9L462.5 92.9L462.5 92.9L462.6 92.9L462.6 92.9L462.6 92.9L462.7 92.9L462.7 92.9L462.7 92.9L462.8 92.9L462.8 92.9L462.9 92.9L462.9 92.9L462.9 92.9L463 92.9L463 92.9L463 92.9L463.1 92.9L463.1 92.9L463.1 92.9L463.2 92.9L463.2 92.9L463.3 92.9L463.3 92.9L463.3 92.9L463.4 92.9L463.4 92.9L463.4 92.9L463.5 92.9L463.5 92.9L463.5 92.9L463.6 92.9L463.6 92.9L463.6 92.9L463.7 92.9L463.7 92.9L463.8 92.9L463.8 92.9L463.8 92.9L463.9 92.9L463.9 92.9L463.9 92.9L464 92.9L464 92.9L464 92.9L464.1 92.9L464.1 92.9L464.1 92.9L464.2 92.9L464.2 92.9L464.3 92.9L464.3 92.9L464.3 92.9L464.4 92.9L464.4 92.9L464.4 92.9L464.5 92.9L464.5 92.9L464.5 92.9L464.6 92.9L464.6 92.9L464.7 92.9L464.7 92.9L464.7 92.9L464.8 92.9L464.8 92.9L464.8 92.9L464.9 92.9L464.9 92.9L464.9 92.9L465 92.9L465 92.9L465 92.9L465.1 92.9L465.1 92.9L465.2 92.9L465.2 92.9L465.2 92.9L465.3 92.9L465.3 92.9L465.3 92.9L465.4 92.9L465.4 92.9L465.4 92.9L465.5 92.9L465.5 92.9L465.6 92.9L465.6 92.9L465.6 92.9L465.7 92.9L465.7 92.9L465.7 92.9L465.8 92.9L465.8 92.9L465.8 92.9L465.9 92.9L465.9 92.9L465.9 92.9L466 92.9L466 92.9L466.1 92.9L466.1 92.9L466.1 92.9L466.2 92.9L466.2 92.9L466.2 92.9L466.3 92.9L466.3 92.9L466.3 92.9L466.4 92.9L466.4 92.9L466.5 92.9L466.5 92.9L466.5 92.9L466.6 92.9L466.6 92.9L466.6 92.9L466.7 92.9L466.7 92.9L466.7 92.9L466.8 92.9L466.8 92.9L466.8 92.9L466.9 92.9L466.9 92.9L467 92.9L467 92.9L467 92.9L467.1 92.9L467.1 92.9L467.1 92.9L467.2 92.9L467.2 92.9L467.2 92.9L467.3 92.9L467.3 92.9L467.3 92.9L467.4 92.9L467.4 92.9L467.5 92.9L467.5 92.9L467.5 92.9L467.6 92.9L467.6 92.9L467.6 92.9L467.7 92.9L467.7 92.9L467.7 92.9L467.8 92.9L467.8 92.9L467.9 92.9L467.9 92.9L467.9 92.9L468 92.9L468 92.9L468 92.9L468.1 92.9L468.1 92.9L468.1 92.9L468.2 92.9L468.2 92.9L468.2 92.9L468.3 92.9L468.3 92.9L468.4 92.9L468.4 92.9L468.4 92.9L468.5 92.9L468.5 92.9L468.5 92.9L468.6 92.9L468.6 92.9L468.6 92.9L468.7 92.9L468.7 92.9L468.8 92.9L468.8 92.9L468.8 92.9L468.9 92.9L468.9 92.9L468.9 92.9L469 92.9L469 92.9L469 92.9L469.1 92.9L469.1 92.9L469.1 92.9L469.2 92.9L469.2 92.9L469.3 92.9L469.3 92.9L469.3 92.9L469.4 92.9L469.4 92.9L469.4 92.9L469.5 92.9L469.5 92.9L469.5 92.9L469.6 92.9L469.6 92.9L469.6 92.9L469.7 92.9L469.7 92.9L469.8 92.9L469.8 92.9L469.8 92.9L469.9 92.9L469.9 92.9L469.9 92.9L470 92.9L470 92.9L470 92.9L470.1 92.9L470.1 92.9L470.2 92.9L470.2 92.9L470.2 92.9L470.3 92.9L470.3 92.9L470.3 92.9L470.4 92.9L470.4 92.9L470.4 92.9L470.5 92.9L470.5 92.9L470.5 92.9L470.6 92.9L470.6 92.9L470.7 92.9L470.7 92.9L470.7 92.9L470.8 92.9L470.8 92.9L470.8 92.9L470.9 92.9L470.9 92.9L470.9 92.8L471 92.8L471 92.8L471.1 92.8L471.1 92.8L471.1 92.7L471.2 92.7L471.2 92.7L471.2 92.6L471.3 92.6L471.3 92.5L471.3 92.5L471.4 92.4L471.4 92.3L471.4 92.2L471.5 92.1L471.5 92L471.6 91.9L471.6 91.8L471.6 91.7L471.7 91.6L471.7 91.4L471.7 91.3L471.8 91.1L471.8 91L471.8 90.9L471.9 90.7L471.9 90.6L472 90.5L472 90.3L472 90.2L472.1 90.1L472.1 90.1L472.1 90L472.2 90L472.2 89.9L472.2 89.9L472.3 89.9L472.3 90L472.3 90L472.4 90.1L472.4 90.1L472.5 90.2L472.5 90.3L472.5 90.5L472.6 90.6L472.6 90.7L472.6 90.9L472.7 91L472.7 91.1L472.7 91.3L472.8 91.4L472.8 91.6L472.8 91.7L472.9 91.8L472.9 91.9L473 92L473 92.1L473 92.2L473.1 92.3L473.1 92.4L473.1 92.5L473.2 92.5L473.2 92.6L473.2 92.6L473.3 92.7L473.3 92.7L473.4 92.7L473.4 92.8L473.4 92.8L473.5 92.8L473.5 92.8L473.5 92.8L473.6 92.9L473.6 92.9L473.6 92.9L473.7 92.9L473.7 92.9L473.7 92.9L473.8 92.9L473.8 92.9L473.9 92.9L473.9 92.9L473.9 92.9L474 92.9L474 92.9L474 93L474.1 93L474.1 93L474.1 93L474.2 93L474.2 93.1L474.3 93.1L474.3 93.1L474.3 93.2L474.4 93.2L474.4 93.2L474.4 93.3L474.5 93.4L474.5 93.4L474.5 93.5L474.6 93.6L474.6 93.7L474.6 93.8L474.7 93.9L474.7 94L474.8 94.1L474.8 94.2L474.8 94.4L474.9 94.5L474.9 94.6L474.9 94.8L475 94.9L475 95.1L475 95.2L475.1 95.3L475.1 95.5L475.1 95.6L475.2 95.7L475.2 95.8L475.3 95.9L475.3 96L475.3 96.1L475.4 96.1L475.4 96.2L475.4 96.2L475.5 96.2L475.5 96.2L475.5 96.2L475.6 96.1L475.6 96.1L475.7 96L475.7 95.9L475.7 95.8L475.8 95.7L475.8 95.6L475.8 95.5L475.9 95.3L475.9 95.2L475.9 95.1L476 94.9L476 94.8L476 94.6L476.1 94.5L476.1 94.4L476.2 94.2L476.2 94.1L476.2 94L476.3 93.9L476.3 93.8L476.3 93.7L476.4 93.6L476.4 93.5L476.4 93.4L476.5 93.4L476.5 93.3L476.6 93.2L476.6 93.2L476.6 93.2L476.7 93.1L476.7 93.1L476.7 93.1L476.8 93L476.8 93L476.8 93L476.9 93L476.9 93L476.9 92.9L477 92.9L477 92.9L477.1 92.9L477.1 92.9L477.1 92.9L477.2 92.9L477.2 92.9L477.2 92.9L477.3 92.9L477.3 92.9L477.3 92.9L477.4 92.9L477.4 92.9L477.5 92.9L477.5 92.9L477.5 92.9L477.6 92.9L477.6 92.9L477.6 92.9L477.7 92.9L477.7 92.9L477.7 92.9L477.8 92.9L477.8 92.9L477.8 92.9L477.9 92.9L477.9 92.9L478 92.9L478 92.9L478 92.9L478.1 92.9L478.1 92.9L478.1 92.9L478.2 92.9L478.2 92.9L478.2 92.9L478.3 92.9L478.3 92.9L478.3 92.8L478.4 92.8L478.4 92.8L478.5 92.8L478.5 92.7L478.5 92.7L478.6 92.6L478.6 92.5L478.6 92.4L478.7 92.3L478.7 92.2L478.7 92L478.8 91.8L478.8 91.6L478.9 91.4L478.9 91.1L478.9 90.7L479 90.3L479 89.9L479 89.4L479.1 88.8L479.1 88.2L479.1 87.6L479.2 86.9L479.2 86.1L479.2 85.4L479.3 84.5L479.3 83.7L479.4 82.8L479.4 82L479.4 81.1L479.5 80.3L479.5 79.5L479.5 78.8L479.6 78.1L479.6 77.5L479.6 77L479.7 76.5L479.7 76.2L479.8 76L479.8 75.9L479.8 76L479.9 76.2L479.9 76.5L479.9 76.9L480 77.5L480 78.2L480 79L480.1 79.9L480.1 81L480.1 82.1L480.2 83.4L480.2 84.8L480.3 86.2L480.3 87.8L480.3 89.4L480.4 91.1L480.4 92.8L480.4 94.6L480.5 96.4L480.5 98.2L480.5 100L480.6 101.8L480.6 103.4L480.7 105L480.7 106.4L480.7 107.7L480.8 108.7L480.8 109.6L480.8 110.2L480.9 110.5L480.9 110.7L480.9 110.7L481 110.4L481 109.9L481 109.2L481.1 108.4L481.1 107.4L481.2 106.4L481.2 105.3L481.2 104.2L481.3 103.1L481.3 102.1L481.3 101.1L481.4 100.1L481.4 99.3L481.4 98.6L481.5 97.9L481.5 97.3L481.5 96.9L481.6 96.5L481.6 96.2L481.7 95.9L481.7 95.7L481.7 95.6L481.8 95.5L481.8 95.4L481.8 95.3L481.9 95.3L481.9 95.3L481.9 95.2L482 95.2L482 95.2L482.1 95.2L482.1 95.2L482.1 95.1L482.2 95.1L482.2 95.1L482.2 95L482.3 95L482.3 94.9L482.3 94.8L482.4 94.8L482.4 94.7L482.4 94.6L482.5 94.5L482.5 94.4L482.6 94.3L482.6 94.2L482.6 94.1L482.7 94L482.7 93.9L482.7 93.8L482.8 93.7L482.8 93.6L482.8 93.5L482.9 93.4L482.9 93.3L483 93.3L483 93.2L483 93.1L483.1 93L483.1 93L483.1 92.9L483.2 92.9L483.2 92.8L483.2 92.8L483.3 92.8L483.3 92.8L483.3 92.8L483.4 92.8L483.4 92.8L483.5 92.8L483.5 92.9L483.5 92.9L483.6 93L483.6 93.1L483.6 93.1L483.7 93.2L483.7 93.3L483.7 93.4L483.8 93.5L483.8 93.6L483.8 93.7L483.9 93.8L483.9 93.9L484 94.1L484 94.2L484 94.3L484.1 94.4L484.1 94.5L484.1 94.7L484.2 94.8L484.2 94.9L484.2 95L484.3 95.1L484.3 95.2L484.4 95.3L484.4 95.4L484.4 95.4L484.5 95.5L484.5 95.6L484.5 95.6L484.6 95.7L484.6 95.7L484.6 95.7L484.7 95.8L484.7 95.8L484.7 95.8L484.8 95.7L484.8 95.7L484.9 95.7L484.9 95.6L484.9 95.6L485 95.5L485 95.5L485 95.4L485.1 95.3L485.1 95.2L485.1 95.1L485.2 95L485.2 94.9L485.3 94.8L485.3 94.6L485.3 94.5L485.4 94.3L485.4 94.2L485.4 94L485.5 93.8L485.5 93.6L485.5 93.4L485.6 93.2L485.6 92.9L485.6 92.6L485.7 92.3L485.7 91.9L485.8 91.5L485.8 91.1L485.8 90.6L485.9 90L485.9 89.5L485.9 88.8L486 88.1L486 87.4L486 86.5L486.1 85.7L486.1 84.8L486.2 83.8L486.2 82.9L486.2 81.8L486.3 80.8L486.3 79.8L486.3 78.8L486.4 77.9L486.4 76.9L486.4 76.1L486.5 75.3L486.5 74.6L486.5 74L486.6 73.5L486.6 73.1L486.7 72.9L486.7 72.8L486.7 72.8L486.8 73L486.8 73.4L486.8 73.9L486.9 74.6L486.9 75.4L486.9 76.4L487 77.5L487 78.7L487 80.1L487.1 81.5L487.1 83.1L487.2 84.8L487.2 86.5L487.2 88.4L487.3 90.3L487.3 92.3L487.3 94.3L487.4 96.3L487.4 98.4L487.4 100.4L487.5 102.3L487.5 104.2L487.6 105.9L487.6 107.5L487.6 108.8L487.7 110L487.7 110.9L487.7 111.6L487.8 112L487.8 112.2L487.8 112.2L487.9 111.8L487.9 111.3L487.9 110.6L488 109.7L488 108.7L488.1 107.5L488.1 106.4L488.1 105.2L488.2 104L488.2 102.9L488.2 101.8L488.3 100.8L488.3 99.9L488.3 99.1L488.4 98.4L488.4 97.8L488.5 97.3L488.5 96.9L488.5 96.6L488.6 96.3L488.6 96.1L488.6 96L488.7 95.9L488.7 95.8L488.7 95.8L488.8 95.7L488.8 95.7L488.8 95.7L488.9 95.7L488.9 95.6L489 95.6L489 95.6L489 95.6L489.1 95.5L489.1 95.5L489.1 95.4L489.2 95.4L489.2 95.3L489.2 95.2L489.3 95.1L489.3 95L489.4 94.9L489.4 94.8L489.4 94.7L489.5 94.6L489.5 94.5L489.5 94.4L489.6 94.2L489.6 94.1L489.6 94L489.7 93.9L489.7 93.7L489.7 93.6L489.8 93.5L489.8 93.4L489.9 93.3L489.9 93.2L489.9 93.1L490 93.1L490 93L490 92.9L490.1 92.9L490.1 92.8L490.1 92.8L490.2 92.8L490.2 92.8L490.2 92.8L490.3 92.8L490.3 92.8L490.4 92.8L490.4 92.9L490.4 92.9L490.5 93L490.5 93.1L490.5 93.2L490.6 93.3L490.6 93.4L490.6 93.5L490.7 93.6L490.7 93.7L490.8 93.9L490.8 94L490.8 94.1L490.9 94.3L490.9 94.4L490.9 94.6L491 94.7L491 94.9L491 95L491.1 95.1L491.1 95.3L491.1 95.4L491.2 95.5L491.2 95.6L491.3 95.7L491.3 95.8L491.3 95.9L491.4 96L491.4 96.1L491.4 96.1L491.5 96.2L491.5 96.2L491.5 96.3L491.6 96.3L491.6 96.3L491.7 96.3L491.7 96.3L491.7 96.2L491.8 96.2L491.8 96.2L491.8 96.1L491.9 96L491.9 95.9L491.9 95.8L492 95.7L492 95.6L492 95.5L492.1 95.4L492.1 95.2L492.2 95.1L492.2 94.9L492.2 94.8L492.3 94.6L492.3 94.4L492.3 94.2L492.4 93.9L492.4 93.7L492.4 93.4L492.5 93.1L492.5 92.7L492.5 92.4L492.6 91.9L492.6 91.5L492.7 91L492.7 90.4L492.7 89.7L492.8 89L492.8 88.3L492.8 87.4L492.9 86.5L492.9 85.5L492.9 84.4L493 83.3L493 82.1L493.1 80.8L493.1 79.5L493.1 78.2L493.2 76.9L493.2 75.5L493.2 74.2L493.3 72.9L493.3 71.7L493.3 70.6L493.4 69.6L493.4 68.6L493.4 67.9L493.5 67.2L493.5 66.8L493.6 66.5L493.6 66.3L493.6 66.4L493.7 66.7L493.7 67.2L493.7 67.9L493.8 68.8L493.8 69.8L493.8 71.1L493.9 72.5L493.9 74.1L494 75.8L494 77.7L494 79.7L494.1 81.9L494.1 84.1L494.1 86.5L494.2 88.9L494.2 91.4L494.2 93.9L494.3 96.4L494.3 99L494.3 101.5L494.4 103.9L494.4 106.1L494.5 108.3L494.5 110.2L494.5 111.9L494.6 113.3L494.6 114.4L494.6 115.2L494.7 115.7L494.7 116L494.7 115.9L494.8 115.6L494.8 114.9L494.9 114.1L494.9 113L494.9 111.8L495 110.5L495 109.1L495 107.7L495.1 106.3L495.1 105L495.1 103.7L495.2 102.6L495.2 101.5L495.2 100.6L495.3 99.8L495.3 99.1L495.4 98.5L495.4 98L495.4 97.7L495.5 97.4L495.5 97.1L495.5 97L495.6 96.8L495.6 96.8L495.6 96.7L495.7 96.6L495.7 96.6L495.7 96.6L495.8 96.5L495.8 96.5L495.9 96.5L495.9 96.4L495.9 96.4L496 96.3L496 96.2L496 96.1L496.1 96L496.1 95.9L496.1 95.8L496.2 95.6L496.2 95.5L496.3 95.3L496.3 95.2L496.3 95L496.4 94.9L496.4 94.7L496.4 94.5L496.5 94.4L496.5 94.2L496.5 94L496.6 93.9L496.6 93.7L496.6 93.6L496.7 93.4L496.7 93.3L496.8 93.2L496.8 93.1L496.8 93L496.9 92.9L496.9 92.8L496.9 92.8L497 92.8L497 92.7L497 92.7L497.1 92.7L497.1 92.8L497.2 92.8L497.2 92.9L497.2 92.9L497.3 93L497.3 93.1L497.3 93.2L497.4 93.4L497.4 93.5L497.4 93.7L497.5 93.8L497.5 94L497.5 94.2L497.6 94.3L497.6 94.5L497.7 94.7L497.7 94.9L497.7 95.1L497.8 95.3L497.8 95.5L497.8 95.7L497.9 95.9L497.9 96.1L497.9 96.2L498 96.4L498 96.6L498.1 96.7L498.1 96.8L498.1 97L498.2 97.1L498.2 97.2L498.2 97.2L498.3 97.3L498.3 97.3L498.3 97.4L498.4 97.4L498.4 97.4L498.4 97.4L498.5 97.3L498.5 97.3L498.6 97.2L498.6 97.1L498.6 97L498.7 96.9L498.7 96.8L498.7 96.6L498.8 96.5L498.8 96.3L498.8 96.1L498.9 95.9L498.9 95.7L498.9 95.5L499 95.2L499 95L499.1 94.7L499.1 94.4L499.1 94.1L499.2 93.7L499.2 93.3L499.2 92.9L499.3 92.4L499.3 91.9L499.3 91.3L499.4 90.7L499.4 90L499.5 89.3L499.5 88.4L499.5 87.5L499.6 86.6L499.6 85.5L499.6 84.4L499.7 83.2L499.7 81.9L499.7 80.6L499.8 79.2L499.8 77.8L499.8 76.4L499.9 75L499.9 73.6L500 72.2L500 70.9L500 69.7L500.1 68.6L500.1 67.5L500.1 66.7L500.2 65.9L500.2 65.4L500.2 65L500.3 64.8L500.3 64.7L500.4 65L500.4 65.4L500.4 66.1L500.5 66.9L500.5 68L500.5 69.3L500.6 70.7L500.6 72.3L500.6 74.1L500.7 76.1L500.7 78.2L500.7 80.4L500.8 82.7L500.8 85.2L500.9 87.7L500.9 90.4L500.9 93L501 95.7L501 98.4L501 101.1L501.1 103.7L501.1 106.2L501.1 108.5L501.2 110.6L501.2 112.5L501.2 114.1L501.3 115.5L501.3 116.4L501.4 117.1L501.4 117.5L501.4 117.5L501.5 117.3L501.5 116.7L501.5 115.8L501.6 114.8L501.6 113.5L501.6 112.2L501.7 110.7L501.7 109.2L501.8 107.7L501.8 106.3L501.8 104.9L501.9 103.6L501.9 102.4L501.9 101.4L502 100.5L502 99.7L502 99L502.1 98.5L502.1 98L502.1 97.7L502.2 97.4L502.2 97.2L502.3 97.1L502.3 97L502.3 96.9L502.4 96.9L502.4 96.8L502.4 96.8L502.5 96.8L502.5 96.7L502.5 96.7L502.6 96.7L502.6 96.6L502.7 96.6L502.7 96.5L502.7 96.4L502.8 96.3L502.8 96.2L502.8 96.1L502.9 96L502.9 95.8L502.9 95.7L503 95.5L503 95.4L503 95.2L503.1 95L503.1 94.8L503.2 94.7L503.2 94.5L503.2 94.3L503.3 94.2L503.3 94L503.3 93.8L503.4 93.7L503.4 93.5L503.4 93.4L503.5 93.3L503.5 93.1L503.6 93L503.6 92.9L503.6 92.9L503.7 92.8L503.7 92.8L503.7 92.7L503.8 92.7L503.8 92.7L503.8 92.7L503.9 92.8L503.9 92.8L503.9 92.9L504 93L504 93.1L504.1 93.2L504.1 93.3L504.1 93.4L504.2 93.6L504.2 93.7L504.2 93.9L504.3 94.1L504.3 94.3L504.3 94.5L504.4 94.7L504.4 94.9L504.4 95.1L504.5 95.3L504.5 95.5L504.6 95.7L504.6 95.9L504.6 96.1L504.7 96.3L504.7 96.4L504.7 96.6L504.8 96.8L504.8 96.9L504.8 97.1L504.9 97.2L504.9 97.3L505 97.4L505 97.5L505 97.6L505.1 97.6L505.1 97.6L505.1 97.7L505.2 97.7L505.2 97.6L505.2 97.6L505.3 97.6L505.3 97.5L505.3 97.4L505.4 97.3L505.4 97.2L505.5 97.1L505.5 96.9L505.5 96.8L505.6 96.6L505.6 96.4L505.6 96.2L505.7 96L505.7 95.8L505.7 95.5L505.8 95.3L505.8 95L505.9 94.7L505.9 94.4L505.9 94.1L506 93.7L506 93.3L506 92.8L506.1 92.3L506.1 91.8L506.1 91.1L506.2 90.5L506.2 89.7L506.2 88.9L506.3 88L506.3 87L506.4 86L506.4 84.8L506.4 83.6L506.5 82.3L506.5 80.9L506.5 79.4L506.6 77.9L506.6 76.4L506.6 74.8L506.7 73.2L506.7 71.7L506.7 70.1L506.8 68.7L506.8 67.3L506.9 66L506.9 64.8L506.9 63.8L507 63L507 62.4L507 61.9L507.1 61.6L507.1 61.5L507.1 61.7L507.2 62.2L507.2 62.9L507.3 63.8L507.3 65L507.3 66.3L507.4 67.9L507.4 69.6L507.4 71.6L507.5 73.7L507.5 75.9L507.5 78.3L507.6 80.9L507.6 83.5L507.6 86.3L507.7 89.1L507.7 92L507.8 94.9L507.8 97.8L507.8 100.7L507.9 103.5L507.9 106.1L507.9 108.7L508 111L508 113L508 114.8L508.1 116.3L508.1 117.4L508.2 118.1L508.2 118.6L508.2 118.8L508.3 118.5L508.3 118L508.3 117.2L508.4 116.1L508.4 114.9L508.4 113.4L508.5 111.9L508.5 110.4L508.5 108.8L508.6 107.3L508.6 105.9L508.7 104.5L508.7 103.3L508.7 102.2L508.8 101.2L508.8 100.4L508.8 99.7L508.9 99.1L508.9 98.7L508.9 98.3L509 98L509 97.8L509.1 97.6L509.1 97.5L509.1 97.4L509.2 97.4L509.2 97.3L509.2 97.3L509.3 97.2L509.3 97.2L509.3 97.1L509.4 97.1L509.4 97L509.4 96.9L509.5 96.8L509.5 96.7L509.6 96.5L509.6 96.4L509.6 96.3L509.7 96.1L509.7 95.9L509.7 95.7L509.8 95.5L509.8 95.4L509.8 95.2L509.9 95L509.9 94.8L509.9 94.6L510 94.4L510 94.2L510.1 94L510.1 93.8L510.1 93.6L510.2 93.5L510.2 93.3L510.2 93.2L510.3 93.1L510.3 93L510.3 92.9L510.4 92.8L510.4 92.7L510.5 92.7L510.5 92.7L510.5 92.7L510.6 92.7L510.6 92.8L510.6 92.8L510.7 92.9L510.7 93L510.7 93.1L510.8 93.3L510.8 93.4L510.8 93.6L510.9 93.8L510.9 93.9L511 94.2L511 94.4L511 94.6L511.1 94.8L511.1 95L511.1 95.3L511.2 95.5L511.2 95.8L511.2 96L511.3 96.2L511.3 96.4L511.4 96.7L511.4 96.9L511.4 97.1L511.5 97.2L511.5 97.4L511.5 97.6L511.6 97.7L511.6 97.8L511.6 97.9L511.7 98L511.7 98.1L511.7 98.2L511.8 98.2L511.8 98.2L511.9 98.2L511.9 98.1L511.9 98.1L512 98L512 97.9L512 97.8L512.1 97.7L512.1 97.6L512.1 97.4L512.2 97.2L512.2 97L512.3 96.8L512.3 96.6L512.3 96.3L512.4 96L512.4 95.7L512.4 95.4L512.5 95.1L512.5 94.7L512.5 94.3L512.6 93.9L512.6 93.4L512.6 92.9L512.7 92.3L512.7 91.6L512.8 91L512.8 90.2L512.8 89.3L512.9 88.4L512.9 87.4L512.9 86.3L513 85.1L513 83.9L513 82.5L513.1 81.1L513.1 79.6L513.1 78L513.2 76.4L513.2 74.7L513.3 73L513.3 71.3L513.3 69.7L513.4 68.1L513.4 66.6L513.4 65.1L513.5 63.8L513.5 62.7L513.5 61.7L513.6 60.9L513.6 60.3L513.7 59.9L513.7 59.7L513.7 59.7L513.8 60L513.8 60.6L513.8 61.4L513.9 62.5L513.9 63.8L513.9 65.3L514 67.1L514 69L514 71.1L514.1 73.3L514.1 75.8L514.2 78.3L514.2 81L514.2 83.8L514.3 86.7L514.3 89.7L514.3 92.7L514.4 95.7L514.4 98.6L514.4 101.6L514.5 104.4L514.5 107.1L514.6 109.6L514.6 111.9L514.6 113.9L514.7 115.6L514.7 116.9L514.7 117.9L514.8 118.5L514.8 118.9L514.8 118.9L514.9 118.6L514.9 117.9L514.9 117L515 115.8L515 114.5L515.1 113L515.1 111.5L515.1 109.9L515.2 108.4L515.2 106.8L515.2 105.4L515.3 104.1L515.3 102.9L515.3 101.9L515.4 100.9L515.4 100.2L515.4 99.5L515.5 99L515.5 98.6L515.6 98.2L515.6 98L515.6 97.8L515.7 97.7L515.7 97.6L515.7 97.5L515.8 97.5L515.8 97.5L515.8 97.5L515.9 97.4L515.9 97.4L516 97.4L516 97.4L516 97.3L516.1 97.2L516.1 97.2L516.1 97.1L516.2 97L516.2 96.9L516.2 96.7L516.3 96.6L516.3 96.4L516.3 96.3L516.4 96.1L516.4 95.9L516.5 95.7L516.5 95.5L516.5 95.3L516.6 95.1L516.6 94.9L516.6 94.7L516.7 94.5L516.7 94.3L516.7 94.1L516.8 93.9L516.8 93.8L516.9 93.6L516.9 93.4L516.9 93.3L517 93.2L517 93L517 92.9L517.1 92.9L517.1 92.8L517.1 92.7L517.2 92.7L517.2 92.7L517.2 92.7L517.3 92.7L517.3 92.7L517.4 92.8L517.4 92.9L517.4 93L517.5 93.1L517.5 93.2L517.5 93.4L517.6 93.5L517.6 93.7L517.6 93.9L517.7 94.1L517.7 94.3L517.8 94.5L517.8 94.7L517.8 94.9L517.9 95.2L517.9 95.4L517.9 95.6L518 95.9L518 96.1L518 96.4L518.1 96.6L518.1 96.8L518.1 97L518.2 97.2L518.2 97.4L518.3 97.6L518.3 97.8L518.3 97.9L518.4 98L518.4 98.2L518.4 98.3L518.5 98.4L518.5 98.4L518.5 98.5L518.6 98.5L518.6 98.5L518.6 98.5L518.7 98.5L518.7 98.4L518.8 98.4L518.8 98.3L518.8 98.2L518.9 98.1L518.9 97.9L518.9 97.8L519 97.6L519 97.4L519 97.2L519.1 97L519.1 96.8L519.2 96.5L519.2 96.3L519.2 96L519.3 95.7L519.3 95.3L519.3 94.9L519.4 94.6L519.4 94.1L519.4 93.6L519.5 93.1L519.5 92.5L519.5 91.9L519.6 91.1L519.6 90.3L519.7 89.4L519.7 88.4L519.7 87.2L519.8 86L519.8 84.6L519.8 83.1L519.9 81.5L519.9 79.7L519.9 77.8L520 75.8L520 73.6L520.1 71.4L520.1 69.1L520.1 66.7L520.2 64.3L520.2 61.9L520.2 59.5L520.3 57.2L520.3 55L520.3 53L520.4 51.1L520.4 49.5L520.4 48L520.5 46.9L520.5 46L520.6 45.5L520.6 45.2L520.6 45.3L520.7 45.8L520.7 46.7L520.7 47.9L520.8 49.4L520.8 51.3L520.8 53.5L520.9 56L520.9 58.7L521 61.7L521 65L521 68.4L521.1 72L521.1 75.9L521.1 79.8L521.2 83.9L521.2 88.1L521.2 92.3L521.3 96.5L521.3 100.7L521.3 104.8L521.4 108.8L521.4 112.5L521.5 116L521.5 119.2L521.5 122L521.6 124.3L521.6 126.2L521.6 127.6L521.7 128.4L521.7 128.9L521.7 128.9L521.8 128.4L521.8 127.5L521.8 126.2L521.9 124.6L521.9 122.7L522 120.7L522 118.5L522 116.4L522.1 114.2L522.1 112.1L522.1 110.2L522.2 108.4L522.2 106.7L522.2 105.3L522.3 104L522.3 103L522.4 102.1L522.4 101.4L522.4 100.8L522.5 100.4L522.5 100L522.5 99.8L522.6 99.6L522.6 99.5L522.6 99.5L522.7 99.4L522.7 99.4L522.7 99.4L522.8 99.4L522.8 99.4L522.9 99.3L522.9 99.3L522.9 99.2L523 99.2L523 99.1L523 99L523.1 98.8L523.1 98.7L523.1 98.5L523.2 98.3L523.2 98.1L523.3 97.9L523.3 97.6L523.3 97.4L523.4 97.1L523.4 96.8L523.4 96.6L523.5 96.3L523.5 96L523.5 95.7L523.6 95.4L523.6 95.2L523.6 94.9L523.7 94.6L523.7 94.4L523.8 94.1L523.8 93.9L523.8 93.7L523.9 93.5L523.9 93.3L523.9 93.1L524 93L524 92.8L524 92.7L524.1 92.7L524.1 92.6L524.1 92.6L524.2 92.6L524.2 92.6L524.3 92.7L524.3 92.7L524.3 92.8L524.4 93L524.4 93.1L524.4 93.3L524.5 93.5L524.5 93.7L524.5 94L524.6 94.2L524.6 94.5L524.7 94.8L524.7 95.1L524.7 95.4L524.8 95.7L524.8 96L524.8 96.4L524.9 96.7L524.9 97L524.9 97.4L525 97.7L525 98L525 98.3L525.1 98.6L525.1 98.9L525.2 99.2L525.2 99.5L525.2 99.7L525.3 99.9L525.3 100.1L525.3 100.3L525.4 100.5L525.4 100.6L525.4 100.7L525.5 100.8L525.5 100.9L525.6 100.9L525.6 100.9L525.6 100.9L525.7 100.9L525.7 100.8L525.7 100.7L525.8 100.6L525.8 100.5L525.8 100.3L525.9 100.1L525.9 99.9L525.9 99.7L526 99.4L526 99.1L526.1 98.8L526.1 98.5L526.1 98.2L526.2 97.8L526.2 97.5L526.2 97.1L526.3 96.6L526.3 96.2L526.3 95.7L526.4 95.2L526.4 94.6L526.5 94L526.5 93.3L526.5 92.6L526.6 91.7L526.6 90.8L526.6 89.8L526.7 88.7L526.7 87.5L526.7 86.1L526.8 84.6L526.8 83L526.8 81.2L526.9 79.3L526.9 77.2L527 75L527 72.6L527 70.1L527.1 67.5L527.1 64.8L527.1 62.1L527.2 59.4L527.2 56.6L527.2 53.9L527.3 51.4L527.3 48.9L527.3 46.6L527.4 44.6L527.4 42.7L527.5 41.2L527.5 40L527.5 39.1L527.6 38.6L527.6 38.2L527.6 38.5L527.7 39.2L527.7 40.3L527.7 41.7L527.8 43.6L527.8 45.7L527.9 48.3L527.9 51.1L527.9 54.2L528 57.6L528 61.2L528 65L528.1 69L528.1 73.1L528.1 77.4L528.2 81.7L528.2 86.1L528.2 90.6L528.3 95L528.3 99.3L528.4 103.5L528.4 107.5L528.4 111.3L528.5 114.7L528.5 117.9L528.5 120.6L528.6 122.8L528.6 124.6L528.6 125.9L528.7 126.7L528.7 127.2L528.8 127.1L528.8 126.5L528.8 125.6L528.9 124.3L528.9 122.7L528.9 120.9L529 118.9L529 116.8L529 114.8L529.1 112.7L529.1 110.8L529.1 109L529.2 107.3L529.2 105.8L529.3 104.5L529.3 103.3L529.3 102.4L529.4 101.6L529.4 101L529.4 100.5L529.5 100.1L529.5 99.8L529.5 99.7L529.6 99.5L529.6 99.5L529.7 99.5L529.7 99.5L529.7 99.5L529.8 99.5L529.8 99.5L529.8 99.5L529.9 99.5L529.9 99.5L529.9 99.5L530 99.5L530 99.4L530 99.3L530.1 99.2L530.1 99.1L530.2 99L530.2 98.8L530.2 98.6L530.3 98.4L530.3 98.2L530.3 98L530.4 97.8L530.4 97.5L530.4 97.3L530.5 97L530.5 96.7L530.5 96.5L530.6 96.2L530.6 95.9L530.7 95.6L530.7 95.4L530.7 95.1L530.8 94.8L530.8 94.6L530.8 94.3L530.9 94.1L530.9 93.8L530.9 93.6L531 93.4L531 93.3L531.1 93.1L531.1 93L531.1 92.8L531.2 92.7L531.2 92.7L531.2 92.6L531.3 92.6L531.3 92.6L531.3 92.6L531.4 92.6L531.4 92.7L531.4 92.8L531.5 92.9L531.5 93.1L531.6 93.2L531.6 93.4L531.6 93.6L531.7 93.8L531.7 94.1L531.7 94.3L531.8 94.6L531.8 94.9L531.8 95.2L531.9 95.5L531.9 95.8L532 96.1L532 96.4L532 96.7L532.1 97.1L532.1 97.4L532.1 97.7L532.2 98.1L532.2 98.4L532.2 98.7L532.3 99L532.3 99.2L532.3 99.5L532.4 99.8L532.4 100L532.5 100.2L532.5 100.4L532.5 100.6L532.6 100.8L532.6 100.9L532.6 101L532.7 101.1L532.7 101.2L532.7 101.2L532.8 101.2L532.8 101.2L532.8 101.2L532.9 101.1L532.9 101L533 100.9L533 100.8L533 100.6L533.1 100.5L533.1 100.3L533.1 100.1L533.2 99.8L533.2 99.6L533.2 99.3L533.3 99L533.3 98.7L533.4 98.4L533.4 98.1L533.4 97.8L533.5 97.4L533.5 97L533.5 96.6L533.6 96.2L533.6 95.8L533.6 95.3L533.7 94.8L533.7 94.2L533.7 93.6L533.8 92.9L533.8 92.2L533.9 91.4L533.9 90.4L533.9 89.4L534 88.3L534 87.1L534 85.7L534.1 84.1L534.1 82.5L534.1 80.6L534.2 78.6L534.2 76.5L534.3 74.2L534.3 71.7L534.3 69.1L534.4 66.4L534.4 63.6L534.4 60.8L534.5 57.9L534.5 55L534.5 52.2L534.6 49.5L534.6 46.9L534.6 44.5L534.7 42.3L534.7 40.4L534.8 38.8L534.8 37.5L534.8 36.5L534.9 35.9L534.9 35.6L534.9 35.8L535 36.5L535 37.6L535 39.1L535.1 40.9L535.1 43.2L535.2 45.8L535.2 48.7L535.2 51.9L535.3 55.4L535.3 59.1L535.3 63L535.4 67.1L535.4 71.3L535.4 75.7L535.5 80.1L535.5 84.6L535.5 89.1L535.6 93.5L535.6 97.9L535.7 102.1L535.7 106.2L535.7 110L535.8 113.5L535.8 116.7L535.8 119.4L535.9 121.7L535.9 123.6L535.9 124.9L536 125.7L536 126.3L536 126.2L536.1 125.8L536.1 124.9L536.2 123.6L536.2 122.1L536.2 120.4L536.3 118.5L536.3 116.5L536.3 114.5L536.4 112.5L536.4 110.6L536.4 108.8L536.5 107.2L536.5 105.7L536.6 104.4L536.6 103.3L536.6 102.4L536.7 101.6L536.7 101L536.7 100.5L536.8 100.2L536.8 99.9L536.8 99.7L536.9 99.6L536.9 99.5L536.9 99.5L537 99.5L537 99.5L537.1 99.5L537.1 99.5L537.1 99.5L537.2 99.5L537.2 99.5L537.2 99.5L537.3 99.4L537.3 99.4L537.3 99.3L537.4 99.2L537.4 99L537.5 98.9L537.5 98.7L537.5 98.5L537.6 98.3L537.6 98.1L537.6 97.9L537.7 97.6L537.7 97.4L537.7 97.1L537.8 96.8L537.8 96.5L537.8 96.2L537.9 96L537.9 95.7L538 95.4L538 95.1L538 94.8L538.1 94.6L538.1 94.3L538.1 94.1L538.2 93.9L538.2 93.6L538.2 93.4L538.3 93.3L538.3 93.1L538.4 93L538.4 92.8L538.4 92.7L538.5 92.7L538.5 92.6L538.5 92.6L538.6 92.6L538.6 92.6L538.6 92.6L538.7 92.7L538.7 92.8L538.7 92.9L538.8 93.1L538.8 93.3L538.9 93.4L538.9 93.6L538.9 93.9L539 94.1L539 94.4L539 94.7L539.1 95L539.1 95.3L539.1 95.6L539.2 95.9L539.2 96.2L539.2 96.6L539.3 96.9L539.3 97.2L539.4 97.6L539.4 97.9L539.4 98.2L539.5 98.5L539.5 98.8L539.5 99.1L539.6 99.4L539.6 99.7L539.6 99.9L539.7 100.1L539.7 100.4L539.8 100.5L539.8 100.7L539.8 100.9L539.9 101L539.9 101.1L539.9 101.1L540 101.2L540 101.2L540 101.2L540.1 101.2L540.1 101.1L540.1 101L540.2 100.9L540.2 100.8L540.3 100.7L540.3 100.5L540.3 100.3L540.4 100.1L540.4 99.8L540.4 99.6L540.5 99.3L540.5 99L540.5 98.7L540.6 98.4L540.6 98.1L540.7 97.7L540.7 97.3L540.7 96.9L540.8 96.5L540.8 96L540.8 95.6L540.9 95L540.9 94.5L540.9 93.8L541 93.2L541 92.4L541 91.6L541.1 90.7L541.1 89.7L541.2 88.5L541.2 87.3L541.2 85.9L541.3 84.3L541.3 82.6L541.3 80.8L541.4 78.7L541.4 76.5L541.4 74.2L541.5 71.7L541.5 69L541.5 66.2L541.6 63.4L541.6 60.4L541.7 57.5L541.7 54.5L541.7 51.5L541.8 48.7L541.8 46L541.8 43.4L541.9 41.1L541.9 39L541.9 37.2L542 35.8L542 34.7L542.1 33.9L542.1 33.6L542.1 33.6L542.2 34.2L542.2 35.2L542.2 36.6L542.3 38.4L542.3 40.7L542.3 43.3L542.4 46.2L542.4 49.4L542.4 53L542.5 56.7L542.5 60.7L542.6 64.9L542.6 69.2L542.6 73.7L542.7 78.2L542.7 82.8L542.7 87.5L542.8 92.1L542.8 96.6L542.8 101L542.9 105.2L542.9 109.2L543 112.9L543 116.3L543 119.2L543.1 121.7L543.1 123.7L543.1 125.2L543.2 126.2L543.2 126.9L543.2 127L543.3 126.6L543.3 125.8L543.3 124.7L543.4 123.2L543.4 121.5L543.5 119.6L543.5 117.5L543.5 115.5L543.6 113.4L543.6 111.5L543.6 109.6L543.7 107.9L543.7 106.3L543.7 105L543.8 103.8L543.8 102.7L543.9 101.9L543.9 101.2L543.9 100.7L544 100.3L544 100L544 99.8L544.1 99.6L544.1 99.6L544.1 99.5L544.2 99.5L544.2 99.5L544.2 99.5L544.3 99.5L544.3 99.5L544.4 99.5L544.4 99.5L544.4 99.5L544.5 99.5L544.5 99.4L544.5 99.3L544.6 99.2L544.6 99.1L544.6 98.9L544.7 98.8L544.7 98.6L544.7 98.4L544.8 98.2L544.8 97.9L544.9 97.7L544.9 97.4L544.9 97.2L545 96.9L545 96.6L545 96.3L545.1 96L545.1 95.8L545.1 95.5L545.2 95.2L545.2 94.9L545.3 94.7L545.3 94.4L545.3 94.1L545.4 93.9L545.4 93.7L545.4 93.5L545.5 93.3L545.5 93.1L545.5 93L545.6 92.9L545.6 92.8L545.6 92.7L545.7 92.6L545.7 92.6L545.8 92.6L545.8 92.6L545.8 92.6L545.9 92.7L545.9 92.8L545.9 92.9L546 93L546 93.2L546 93.4L546.1 93.6L546.1 93.8L546.2 94.1L546.2 94.3L546.2 94.6L546.3 94.9L546.3 95.2L546.3 95.5L546.4 95.8L546.4 96.1L546.4 96.5L546.5 96.8L546.5 97.1L546.5 97.5L546.6 97.8L546.6 98.1L546.7 98.4L546.7 98.7L546.7 99L546.8 99.3L546.8 99.6L546.8 99.8L546.9 100.1L546.9 100.3L546.9 100.5L547 100.7L547 100.8L547 100.9L547.1 101L547.1 101.1L547.2 101.2L547.2 101.2L547.2 101.2L547.3 101.2L547.3 101.1L547.3 101.1L547.4 101L547.4 100.8L547.4 100.7L547.5 100.5L547.5 100.3L547.6 100.1L547.6 99.9L547.6 99.7L547.7 99.4L547.7 99.1L547.7 98.8L547.8 98.5L547.8 98.2L547.8 97.8L547.9 97.4L547.9 97L547.9 96.6L548 96.2L548 95.7L548.1 95.2L548.1 94.6L548.1 94L548.2 93.4L548.2 92.7L548.2 91.9L548.3 91L548.3 90L548.3 88.9L548.4 87.7L548.4 86.4L548.5 84.9L548.5 83.2L548.5 81.4L548.6 79.5L548.6 77.4L548.6 75.1L548.7 72.7L548.7 70.1L548.7 67.4L548.8 64.6L548.8 61.7L548.8 58.7L548.9 55.8L548.9 52.9L549 50L549 47.3L549 44.7L549.1 42.4L549.1 40.3L549.1 38.4L549.2 36.9L549.2 35.7L549.2 34.9L549.3 34.4L549.3 34.3L549.4 34.8L549.4 35.6L549.4 36.9L549.5 38.7L549.5 40.8L549.5 43.2L549.6 46.1L549.6 49.2L549.6 52.6L549.7 56.3L549.7 60.2L549.7 64.3L549.8 68.6L549.8 73L549.9 77.5L549.9 82.1L549.9 86.8L550 91.4L550 96L550 100.4L550.1 104.7L550.1 108.8L550.1 112.7L550.2 116.1L550.2 119.2L550.2 121.9L550.3 124L550.3 125.7L550.4 126.8L550.4 127.6L550.4 127.8L550.5 127.5L550.5 126.8L550.5 125.7L550.6 124.2L550.6 122.4L550.6 120.5L550.7 118.4L550.7 116.3L550.8 114.1L550.8 112L550.8 110.1L550.9 108.2L550.9 106.5L550.9 105L551 103.7L551 102.6L551 101.7L551.1 100.9L551.1 100.3L551.1 99.9L551.2 99.5L551.2 99.3L551.3 99.1L551.3 99L551.3 99L551.4 99L551.4 99.1L551.4 99.1L551.5 99.2L551.5 99.2L551.5 99.3L551.6 99.4L551.6 99.4L551.7 99.5L551.7 99.5L551.7 99.5L551.8 99.5L551.8 99.5L551.8 99.4L551.9 99.4L551.9 99.3L551.9 99.2L552 99.1L552 99L552 98.9L552.1 98.7L552.1 98.5L552.2 98.4L552.2 98.2L552.2 98L552.3 97.8L552.3 97.5L552.3 97.3L552.4 97.1L552.4 96.8L552.4 96.6L552.5 96.3L552.5 96.1L552.6 95.8L552.6 95.6L552.6 95.3L552.7 95.1L552.7 94.8L552.7 94.6L552.8 94.4L552.8 94.2L552.8 94L552.9 93.8L552.9 93.6L552.9 93.4L553 93.2L553 93.1L553.1 93L553.1 92.9L553.1 92.8L553.2 92.7L553.2 92.6L553.2 92.6L553.3 92.6L553.3 92.6L553.3 92.6L553.4 92.6L553.4 92.7L553.4 92.8L553.5 92.9L553.5 93L553.6 93.1L553.6 93.3L553.6 93.4L553.7 93.6L553.7 93.8L553.7 94L553.8 94.3L553.8 94.5L553.8 94.8L553.9 95L553.9 95.3L554 95.6L554 95.8L554 96.1L554.1 96.4L554.1 96.7L554.1 97L554.2 97.3L554.2 97.6L554.2 97.9L554.3 98.2L554.3 98.5L554.3 98.7L554.4 99L554.4 99.2L554.5 99.5L554.5 99.7L554.5 99.9L554.6 100.1L554.6 100.3L554.6 100.5L554.7 100.7L554.7 100.8L554.7 100.9L554.8 101L554.8 101.1L554.9 101.1L554.9 101.2L554.9 101.2L555 101.2L555 101.2L555 101.2L555.1 101.1L555.1 101L555.1 100.9L555.2 100.8L555.2 100.7L555.2 100.5L555.3 100.4L555.3 100.2L555.4 100L555.4 99.8L555.4 99.6L555.5 99.3L555.5 99.1L555.5 98.8L555.6 98.6L555.6 98.3L555.6 98L555.7 97.7L555.7 97.4L555.7 97.1L555.8 96.8L555.8 96.5L555.9 96.2L555.9 95.8L555.9 95.5L556 95.1L556 94.7L556 94.2L556.1 93.8L556.1 93.3L556.1 92.7L556.2 92L556.2 91.3L556.3 90.5L556.3 89.7L556.3 88.7L556.4 87.5L556.4 86.3L556.4 84.9L556.5 83.3L556.5 81.6L556.5 79.6L556.6 77.5L556.6 75.3L556.6 72.8L556.7 70.2L556.7 67.5L556.8 64.6L556.8 61.6L556.8 58.6L556.9 55.5L556.9 52.4L556.9 49.4L557 46.4L557 43.6L557 41L557.1 38.6L557.1 36.5L557.2 34.7L557.2 33.2L557.2 32.1L557.3 31.5L557.3 31.1L557.3 31.3L557.4 32L557.4 33.1L557.4 34.7L557.5 36.7L557.5 39.1L557.5 41.8L557.6 44.9L557.6 48.4L557.7 52.1L557.7 56.1L557.7 60.2L557.8 64.6L557.8 69.2L557.8 73.8L557.9 78.6L557.9 83.4L557.9 88.2L558 93L558 97.7L558.1 102.3L558.1 106.6L558.1 110.7L558.2 114.5L558.2 117.9L558.2 120.9L558.3 123.4L558.3 125.4L558.3 126.9L558.4 127.8L558.4 128.4L558.4 128.4L558.5 127.9L558.5 127L558.6 125.6L558.6 124L558.6 122.1L558.7 120L558.7 117.8L558.7 115.6L558.8 113.4L558.8 111.3L558.8 109.4L558.9 107.5L558.9 105.9L558.9 104.4L559 103.2L559 102.1L559.1 101.2L559.1 100.5L559.1 100L559.2 99.5L559.2 99.2L559.2 99L559.3 98.9L559.3 98.8L559.3 98.8L559.4 98.8L559.4 98.9L559.5 99L559.5 99L559.5 99.1L559.6 99.2L559.6 99.3L559.6 99.3L559.7 99.4L559.7 99.4L559.7 99.5L559.8 99.5L559.8 99.5L559.8 99.5L559.9 99.4L559.9 99.4L560 99.3L560 99.3L560 99.2L560.1 99.1L560.1 98.9L560.1 98.8L560.2 98.6L560.2 98.5L560.2 98.3L560.3 98.1L560.3 97.9L560.4 97.7L560.4 97.5L560.4 97.3L560.5 97.1L560.5 96.8L560.5 96.6L560.6 96.4L560.6 96.1L560.6 95.9L560.7 95.6L560.7 95.4L560.7 95.2L560.8 94.9L560.8 94.7L560.9 94.5L560.9 94.3L560.9 94.1L561 93.9L561 93.7L561 93.5L561.1 93.3L561.1 93.2L561.1 93.1L561.2 92.9L561.2 92.8L561.3 92.8L561.3 92.7L561.3 92.6L561.4 92.6L561.4 92.6L561.4 92.6L561.5 92.6L561.5 92.6L561.5 92.7L561.6 92.8L561.6 92.8L561.6 92.9L561.7 93.1L561.7 93.2L561.8 93.4L561.8 93.5L561.8 93.7L561.9 93.9L561.9 94.1L561.9 94.3L562 94.6L562 94.8L562 95.1L562.1 95.3L562.1 95.6L562.1 95.9L562.2 96.2L562.2 96.4L562.3 96.7L562.3 97L562.3 97.3L562.4 97.6L562.4 97.8L562.4 98.1L562.5 98.4L562.5 98.7L562.5 98.9L562.6 99.2L562.6 99.4L562.7 99.6L562.7 99.8L562.7 100L562.8 100.2L562.8 100.4L562.8 100.6L562.9 100.7L562.9 100.8L562.9 100.9L563 101L563 101.1L563 101.2L563.1 101.2L563.1 101.2L563.2 101.2L563.2 101.2L563.2 101.2L563.3 101.1L563.3 101L563.3 101L563.4 100.8L563.4 100.7L563.4 100.6L563.5 100.4L563.5 100.3L563.6 100.1L563.6 99.9L563.6 99.7L563.7 99.5L563.7 99.3L563.7 99L563.8 98.8L563.8 98.5L563.8 98.3L563.9 98L563.9 97.7L563.9 97.5L564 97.2L564 96.9L564.1 96.6L564.1 96.3L564.1 96L564.2 95.7L564.2 95.4L564.2 95L564.3 94.7L564.3 94.3L564.3 93.9L564.4 93.4L564.4 92.9L564.4 92.4L564.5 91.7L564.5 91L564.6 90.3L564.6 89.4L564.6 88.4L564.7 87.3L564.7 86L564.7 84.6L564.8 83.1L564.8 81.4L564.8 79.4L564.9 77.4L564.9 75.1L565 72.7L565 70.1L565 67.3L565.1 64.5L565.1 61.5L565.1 58.5L565.2 55.4L565.2 52.4L565.2 49.4L565.3 46.4L565.3 43.7L565.3 41.1L565.4 38.7L565.4 36.7L565.5 34.9L565.5 33.5L565.5 32.5L565.6 31.9L565.6 31.5L565.6 31.8L565.7 32.6L565.7 33.8L565.7 35.4L565.8 37.4L565.8 39.8L565.9 42.6L565.9 45.7L565.9 49.2L566 52.9L566 56.9L566 61L566.1 65.4L566.1 69.9L566.1 74.6L566.2 79.3L566.2 84.1L566.2 88.9L566.3 93.6L566.3 98.3L566.4 102.8L566.4 107.1L566.4 111.1L566.5 114.9L566.5 118.2L566.5 121.1L566.6 123.6L566.6 125.5L566.6 126.9L566.7 127.7L566.7 128.3L566.8 128.2L566.8 127.7L566.8 126.7L566.9 125.3L566.9 123.7L566.9 121.8L567 119.7L567 117.6L567 115.4L567.1 113.2L567.1 111.2L567.1 109.3L567.2 107.5L567.2 105.9L567.3 104.5L567.3 103.3L567.3 102.3L567.4 101.4L567.4 100.7L567.4 100.2L567.5 99.8L567.5 99.5L567.5 99.3L567.6 99.2L567.6 99.2L567.6 99.1L567.7 99.2L567.7 99.2L567.8 99.3L567.8 99.3L567.8 99.4L567.9 99.4L567.9 99.5L567.9 99.5L568 99.5L568 99.5L568 99.5L568.1 99.4L568.1 99.4L568.2 99.3L568.2 99.2L568.2 99.1L568.3 99L568.3 98.9L568.3 98.7L568.4 98.5L568.4 98.4L568.4 98.2L568.5 98L568.5 97.7L568.5 97.5L568.6 97.3L568.6 97L568.7 96.8L568.7 96.5L568.7 96.3L568.8 96L568.8 95.7L568.8 95.5L568.9 95.2L568.9 95L568.9 94.7L569 94.5L569 94.3L569.1 94L569.1 93.8L569.1 93.6L569.2 93.5L569.2 93.3L569.2 93.1L569.3 93L569.3 92.9L569.3 92.8L569.4 92.7L569.4 92.6L569.4 92.6L569.5 92.6L569.5 92.6L569.6 92.6L569.6 92.6L569.6 92.7L569.7 92.8L569.7 92.9L569.7 93L569.8 93.1L569.8 93.3L569.8 93.5L569.9 93.7L569.9 93.9L570 94.1L570 94.3L570 94.6L570.1 94.9L570.1 95.1L570.1 95.4L570.2 95.7L570.2 96L570.2 96.3L570.3 96.6L570.3 96.9L570.3 97.2L570.4 97.5L570.4 97.8L570.5 98.1L570.5 98.4L570.5 98.7L570.6 98.9L570.6 99.2L570.6 99.5L570.7 99.7L570.7 99.9L570.7 100.1L570.8 100.3L570.8 100.5L570.8 100.7L570.9 100.8L570.9 100.9L571 101L571 101.1L571 101.2L571.1 101.2L571.1 101.2L571.1 101.2L571.2 101.2L571.2 101.1L571.2 101.1L571.3 101L571.3 100.9L571.4 100.8L571.4 100.6L571.4 100.4L571.5 100.3L571.5 100.1L571.5 99.9L571.6 99.6L571.6 99.4L571.6 99.2L571.7 98.9L571.7 98.6L571.7 98.3L571.8 98L571.8 97.7L571.9 97.4L571.9 97.1L571.9 96.8L572 96.4L572 96.1L572 95.7L572.1 95.3L572.1 94.9L572.1 94.4L572.2 93.9L572.2 93.4L572.3 92.8L572.3 92.1L572.3 91.4L572.4 90.5L572.4 89.6L572.4 88.6L572.5 87.4L572.5 86.1L572.5 84.6L572.6 83L572.6 81.2L572.6 79.3L572.7 77.1L572.7 74.8L572.8 72.3L572.8 69.7L572.8 66.9L572.9 64L572.9 60.9L572.9 57.9L573 54.7L573 51.6L573 48.6L573.1 45.6L573.1 42.8L573.1 40.2L573.2 37.9L573.2 35.8L573.3 34L573.3 32.6L573.3 31.6L573.4 31L573.4 30.6L573.4 31L573.5 31.7L573.5 32.9L573.5 34.6L573.6 36.6L573.6 39.1L573.7 41.9L573.7 45.1L573.7 48.6L573.8 52.4L573.8 56.4L573.8 60.6L573.9 65.1L573.9 69.6L573.9 74.3L574 79.1L574 83.9L574 88.7L574.1 93.5L574.1 98.2L574.2 102.7L574.2 107.1L574.2 111.1L574.3 114.9L574.3 118.2L574.3 121.1L574.4 123.6L574.4 125.5L574.4 126.9L574.5 127.7L574.5 128.3L574.6 128.2L574.6 127.6L574.6 126.6L574.7 125.3L574.7 123.6L574.7 121.7L574.8 119.6L574.8 117.5L574.8 115.3L574.9 113.1L574.9 111.1L574.9 109.1L575 107.4L575 105.8L575.1 104.4L575.1 103.2L575.1 102.2L575.2 101.3L575.2 100.7L575.2 100.1L575.3 99.7L575.3 99.5L575.3 99.3L575.4 99.1L575.4 99.1L575.5 99.1L575.5 99.1L575.5 99.1L575.6 99.2L575.6 99.3L575.6 99.3L575.7 99.4L575.7 99.4L575.7 99.5L575.8 99.5L575.8 99.5L575.8 99.5L575.9 99.5L575.9 99.4L576 99.4L576 99.3L576 99.2L576.1 99.1L576.1 99L576.1 98.8L576.2 98.7L576.2 98.5L576.2 98.3L576.3 98.1L576.3 97.9L576.3 97.7L576.4 97.5L576.4 97.2L576.5 97L576.5 96.7L576.5 96.5L576.6 96.2L576.6 96L576.6 95.7L576.7 95.5L576.7 95.2L576.7 95L576.8 94.7L576.8 94.5L576.9 94.3L576.9 94L576.9 93.8L577 93.6L577 93.5L577 93.3L577.1 93.1L577.1 93L577.1 92.9L577.2 92.8L577.2 92.7L577.2 92.6L577.3 92.6L577.3 92.6L577.4 92.6L577.4 92.6L577.4 92.6L577.5 92.7L577.5 92.8L577.5 92.9L577.6 93L577.6 93.1L577.6 93.3L577.7 93.4L577.7 93.6L577.8 93.8L577.8 94L577.8 94.3L577.9 94.5L577.9 94.8L577.9 95L578 95.3L578 95.6L578 95.9L578.1 96.2L578.1 96.5L578.1 96.8L578.2 97.1L578.2 97.4L578.3 97.7L578.3 97.9L578.3 98.2L578.4 98.5L578.4 98.8L578.4 99.1L578.5 99.3L578.5 99.6L578.5 99.8L578.6 100L578.6 100.2L578.6 100.4L578.7 100.6L578.7 100.7L578.8 100.8L578.8 100.9L578.8 101L578.9 101.1L578.9 101.2L578.9 101.2L579 101.2L579 101.2L579 101.2L579.1 101.1L579.1 101.1L579.2 101L579.2 100.9L579.2 100.7L579.3 100.6L579.3 100.4L579.3 100.3L579.4 100.1L579.4 99.9L579.4 99.6L579.5 99.4L579.5 99.2L579.5 98.9L579.6 98.6L579.6 98.4L579.7 98.1L579.7 97.8L579.7 97.5L579.8 97.2L579.8 96.9L579.8 96.5L579.9 96.2L579.9 95.8L579.9 95.4L580 95L580 94.6L580.1 94.1L580.1 93.6L580.1 93.1L580.2 92.5L580.2 91.8L580.2 91L580.3 90.2L580.3 89.2L580.3 88.1L580.4 86.9L580.4 85.5L580.4 84L580.5 82.3L580.5 80.4L580.6 78.4L580.6 76.1L580.6 73.7L580.7 71.1L580.7 68.3L580.7 65.4L580.8 62.4L580.8 59.3L580.8 56.1L580.9 52.9L580.9 49.7L581 46.6L581 43.6L581 40.8L581.1 38.2L581.1 35.8L581.1 33.7L581.2 32L581.2 30.7L581.2 29.7L581.3 29.2L581.3 29L581.3 29.4L581.4 30.3L581.4 31.6L581.5 33.4L581.5 35.6L581.5 38.2L581.6 41.2L581.6 44.5L581.6 48.1L581.7 51.9L581.7 56L581.7 60.3L581.8 64.8L581.8 69.4L581.8 74L581.9 78.8L581.9 83.5L582 88.3L582 92.9L582 97.5L582.1 101.8L582.1 106L582.1 109.8L582.2 113.4L582.2 116.5L582.2 119.2L582.3 121.5L582.3 123.2L582.4 124.4L582.4 125.3L582.4 125.7L582.5 125.5L582.5 124.9L582.5 124L582.6 122.6L582.6 121.1L582.6 119.3L582.7 117.3L582.7 115.3L582.7 113.3L582.8 111.4L582.8 109.5L582.9 107.8L582.9 106.2L582.9 104.8L583 103.5L583 102.5L583 101.6L583.1 100.9L583.1 100.3L583.1 99.8L583.2 99.5L583.2 99.3L583.3 99.1L583.3 99.1L583.3 99L583.4 99.1L583.4 99.1L583.4 99.1L583.5 99.2L583.5 99.3L583.5 99.3L583.6 99.4L583.6 99.4L583.6 99.5L583.7 99.5L583.7 99.5L583.8 99.5L583.8 99.5L583.8 99.4L583.9 99.4L583.9 99.3L583.9 99.2L584 99.1L584 98.9L584 98.8L584.1 98.6L584.1 98.4L584.2 98.3L584.2 98.1L584.2 97.8L584.3 97.6L584.3 97.4L584.3 97.2L584.4 96.9L584.4 96.7L584.4 96.4L584.5 96.2L584.5 95.9L584.5 95.6L584.6 95.4L584.6 95.1L584.7 94.9L584.7 94.7L584.7 94.4L584.8 94.2L584.8 94L584.8 93.8L584.9 93.6L584.9 93.4L584.9 93.3L585 93.1L585 93L585 92.9L585.1 92.8L585.1 92.7L585.2 92.6L585.2 92.6L585.2 92.6L585.3 92.6L585.3 92.6L585.3 92.6L585.4 92.7L585.4 92.8L585.4 92.9L585.5 93L585.5 93.1L585.6 93.3L585.6 93.5L585.6 93.7L585.7 93.9L585.7 94.1L585.7 94.3L585.8 94.6L585.8 94.8L585.8 95.1L585.9 95.4L585.9 95.7L585.9 95.9L586 96.2L586 96.5L586.1 96.8L586.1 97.1L586.1 97.4L586.2 97.7L586.2 98L586.2 98.3L586.3 98.6L586.3 98.9L586.3 99.1L586.4 99.4L586.4 99.6L586.5 99.8L586.5 100.1L586.5 100.2L586.6 100.4L586.6 100.6L586.6 100.7L586.7 100.9L586.7 101L586.7 101.1L586.8 101.1L586.8 101.2L586.8 101.2L586.9 101.2L586.9 101.2L587 101.2L587 101.1L587 101L587.1 100.9L587.1 100.8L587.1 100.7L587.2 100.6L587.2 100.4L587.2 100.2L587.3 100L587.3 99.8L587.3 99.6L587.4 99.3L587.4 99.1L587.5 98.8L587.5 98.6L587.5 98.3L587.6 98L587.6 97.7L587.6 97.4L587.7 97.1L587.7 96.8L587.7 96.4L587.8 96.1L587.8 95.7L587.9 95.4L587.9 95L587.9 94.5L588 94.1L588 93.6L588 93L588.1 92.4L588.1 91.7L588.1 91L588.2 90.1L588.2 89.2L588.2 88.1L588.3 86.9L588.3 85.6L588.4 84.1L588.4 82.4L588.4 80.6L588.5 78.6L588.5 76.5L588.5 74.1L588.6 71.6L588.6 69L588.6 66.2L588.7 63.3L588.7 60.4L588.8 57.4L588.8 54.3L588.8 51.3L588.9 48.4L588.9 45.6L588.9 43L589 40.6L589 38.4L589 36.5L589.1 35L589.1 33.8L589.1 33L589.2 32.6L589.2 32.5L589.3 33L589.3 34L589.3 35.4L589.4 37.1L589.4 39.3L589.4 41.9L589.5 44.8L589.5 47.9L589.5 51.4L589.6 55.1L589.6 59.1L589.7 63.2L589.7 67.4L589.7 71.8L589.8 76.2L589.8 80.7L589.8 85.2L589.9 89.7L589.9 94.1L589.9 98.3L590 102.4L590 106.3L590 109.9L590.1 113.1L590.1 116L590.2 118.5L590.2 120.5L590.2 122L590.3 123L590.3 123.8L590.3 124L590.4 123.8L590.4 123.1L590.4 122.1L590.5 120.8L590.5 119.3L590.5 117.6L590.6 115.7L590.6 113.9L590.7 112L590.7 110.2L590.7 108.5L590.8 106.9L590.8 105.4L590.8 104.1L590.9 103L590.9 102.1L590.9 101.3L591 100.6L591 100.1L591.1 99.8L591.1 99.5L591.1 99.3L591.2 99.2L591.2 99.2L591.2 99.1L591.3 99.2L591.3 99.2L591.3 99.3L591.4 99.3L591.4 99.4L591.4 99.4L591.5 99.5L591.5 99.5L591.6 99.5L591.6 99.5L591.6 99.5L591.7 99.4L591.7 99.4L591.7 99.3L591.8 99.2L591.8 99.1L591.8 99L591.9 98.8L591.9 98.7L592 98.5L592 98.3L592 98.1L592.1 97.9L592.1 97.7L592.1 97.4L592.2 97.2L592.2 96.9L592.2 96.7L592.3 96.4L592.3 96.2L592.3 95.9L592.4 95.6L592.4 95.4L592.5 95.1L592.5 94.9L592.5 94.6L592.6 94.4L592.6 94.2L592.6 93.9L592.7 93.7L592.7 93.5L592.7 93.4L592.8 93.2L592.8 93.1L592.9 92.9L592.9 92.8L592.9 92.7L593 92.7L593 92.6L593 92.6L593.1 92.6L593.1 92.6L593.1 92.6L593.2 92.7L593.2 92.8L593.2 92.9L593.3 93L593.3 93.1L593.4 93.3L593.4 93.4L593.4 93.6L593.5 93.8L593.5 94.1L593.5 94.3L593.6 94.6L593.6 94.8L593.6 95.1L593.7 95.4L593.7 95.7L593.7 96L593.8 96.3L593.8 96.6L593.9 96.9L593.9 97.2L593.9 97.5L594 97.8L594 98.1L594 98.4L594.1 98.7L594.1 99L594.1 99.2L594.2 99.5L594.2 99.7L594.3 100L594.3 100.2L594.3 100.4L594.4 100.5L594.4 100.7L594.4 100.8L594.5 100.9L594.5 101L594.5 101.1L594.6 101.2L594.6 101.2L594.6 101.2L594.7 101.2L594.7 101.2L594.8 101.1L594.8 101L594.8 100.9L594.9 100.8L594.9 100.7L594.9 100.5L595 100.4L595 100.2L595 100L595.1 99.7L595.1 99.5L595.2 99.3L595.2 99L595.2 98.7L595.3 98.4L595.3 98.1L595.3 97.8L595.4 97.5L595.4 97.2L595.4 96.9L595.5 96.5L595.5 96.2L595.5 95.8L595.6 95.4L595.6 95L595.7 94.5L595.7 94L595.7 93.5L595.8 92.9L595.8 92.2L595.8 91.5L595.9 90.7L595.9 89.8L595.9 88.8L596 87.7L596 86.5L596 85.1L596.1 83.6L596.1 81.9L596.2 80.1L596.2 78.1L596.2 75.9L596.3 73.6L596.3 71.2L596.3 68.6L596.4 66L596.4 63.2L596.4 60.4L596.5 57.6L596.5 54.9L596.6 52.1L596.6 49.5L596.6 47L596.7 44.8L596.7 42.7L596.7 40.9L596.8 39.5L596.8 38.3L596.8 37.5L596.9 37L596.9 36.8L596.9 37.2L597 38L597 39.2L597.1 40.8L597.1 42.8L597.1 45.1L597.2 47.7L597.2 50.6L597.2 53.7L597.3 57.1L597.3 60.7L597.3 64.4L597.4 68.3L597.4 72.3L597.5 76.3L597.5 80.4L597.5 84.6L597.6 88.6L597.6 92.7L597.6 96.6L597.7 100.3L597.7 103.9L597.7 107.2L597.8 110.2L597.8 112.9L597.8 115.2L597.9 117.1L597.9 118.6L598 119.6L598 120.4L598 120.7L598.1 120.6L598.1 120.1L598.1 119.3L598.2 118.2L598.2 116.9L598.2 115.4L598.3 113.8L598.3 112.2L598.4 110.5L598.4 108.9L598.4 107.4L598.5 105.9L598.5 104.6L598.5 103.5L598.6 102.5L598.6 101.6L598.6 100.9L598.7 100.4L598.7 99.9L598.7 99.6L598.8 99.4L598.8 99.2L598.9 99.1L598.9 99.1L598.9 99.1L599 99.1L599 99.2L599 99.2L599.1 99.3L599.1 99.4L599.1 99.4L599.2 99.5L599.2 99.5L599.2 99.5L599.3 99.5L599.3 99.5L599.4 99.5L599.4 99.4L599.4 99.3L599.5 99.2L599.5 99.1L599.5 99L599.6 98.9L599.6 98.7L599.6 98.5L599.7 98.4L599.7 98.2L599.8 97.9L599.8 97.7L599.8 97.5L599.9 97.2L599.9 97L599.9 96.7L600 96.5L600 96.2L600 95.9L600.1 95.7L600.1 95.4L600.1 95.2L600.2 94.9L600.2 94.7L600.3 94.4L600.3 94.2L600.3 94L600.4 93.8L600.4 93.6L600.4 93.4L600.5 93.2L600.5 93.1L600.5 93L600.6 92.8L600.6 92.7L600.7 92.7L600.7 92.6L600.7 92.6L600.8 92.6L600.8 92.6L600.8 92.6L600.9 92.7L600.9 92.7L600.9 92.8L601 93L601 93.1L601 93.2L601.1 93.4L601.1 93.6L601.2 93.8L601.2 94L601.2 94.3L601.3 94.5L601.3 94.8L601.3 95.1L601.4 95.3L601.4 95.6L601.4 95.9L601.5 96.2L601.5 96.5L601.6 96.9L601.6 97.2L601.6 97.5L601.7 97.8L601.7 98.1L601.7 98.4L601.8 98.7L601.8 98.9L601.8 99.2L601.9 99.5L601.9 99.7L601.9 99.9L602 100.1L602 100.3L602.1 100.5L602.1 100.7L602.1 100.8L602.2 100.9L602.2 101L602.2 101.1L602.3 101.2L602.3 101.2L602.3 101.2L602.4 101.2L602.4 101.2L602.4 101.1L602.5 101.1L602.5 101L602.6 100.8L602.6 100.7L602.6 100.6L602.7 100.4L602.7 100.2L602.7 100L602.8 99.8L602.8 99.6L602.8 99.3L602.9 99L602.9 98.8L603 98.5L603 98.2L603 97.9L603.1 97.6L603.1 97.3L603.1 96.9L603.2 96.6L603.2 96.2L603.2 95.9L603.3 95.5L603.3 95.1L603.3 94.6L603.4 94.1L603.4 93.6L603.5 93L603.5 92.4L603.5 91.7L603.6 91L603.6 90.1L603.6 89.2L603.7 88.1L603.7 86.9L603.7 85.6L603.8 84.1L603.8 82.5L603.9 80.8L603.9 78.9L603.9 76.8L604 74.6L604 72.3L604 69.8L604.1 67.3L604.1 64.6L604.1 61.9L604.2 59.2L604.2 56.5L604.2 53.8L604.3 51.3L604.3 48.9L604.4 46.6L604.4 44.6L604.4 42.8L604.5 41.3L604.5 40.1L604.5 39.3L604.6 38.8L604.6 38.5L604.6 38.8L604.7 39.5L604.7 40.6L604.7 42.1L604.8 43.9L604.8 46L604.9 48.5L604.9 51.2L604.9 54.2L605 57.4L605 60.8L605 64.3L605.1 68L605.1 71.8L605.1 75.6L605.2 79.5L605.2 83.4L605.3 87.3L605.3 91.1L605.3 94.8L605.4 98.4L605.4 101.7L605.4 104.9L605.5 107.8L605.5 110.4L605.5 112.6L605.6 114.4L605.6 115.9L605.6 117L605.7 117.7L605.7 118.2L605.8 118.2L605.8 117.8L605.8 117.2L605.9 116.3L605.9 115.1L605.9 113.9L606 112.5L606 111L606 109.5L606.1 108.1L606.1 106.7L606.2 105.4L606.2 104.2L606.2 103.2L606.3 102.3L606.3 101.5L606.3 100.9L606.4 100.4L606.4 100L606.4 99.7L606.5 99.5L606.5 99.3L606.5 99.3L606.6 99.2L606.6 99.2L606.7 99.3L606.7 99.3L606.7 99.4L606.8 99.4L606.8 99.5L606.8 99.5L606.9 99.5L606.9 99.5L606.9 99.5L607 99.5L607 99.4L607.1 99.4L607.1 99.3L607.1 99.2L607.2 99L607.2 98.9L607.2 98.7L607.3 98.6L607.3 98.4L607.3 98.2L607.4 97.9L607.4 97.7L607.4 97.4L607.5 97.2L607.5 96.9L607.6 96.7L607.6 96.4L607.6 96.1L607.7 95.8L607.7 95.6L607.7 95.3L607.8 95L607.8 94.8L607.8 94.5L607.9 94.3L607.9 94L607.9 93.8L608 93.6L608 93.4L608.1 93.2L608.1 93.1L608.1 92.9L608.2 92.8L608.2 92.7L608.2 92.7L608.3 92.6L608.3 92.6L608.3 92.6L608.4 92.6L608.4 92.6L608.5 92.7L608.5 92.8L608.5 92.9L608.6 93L608.6 93.2L608.6 93.4L608.7 93.6L608.7 93.8L608.7 94L608.8 94.2L608.8 94.5L608.8 94.8L608.9 95.1L608.9 95.4L609 95.7L609 96L609 96.3L609.1 96.6L609.1 97L609.1 97.3L609.2 97.6L609.2 97.9L609.2 98.2L609.3 98.5L609.3 98.8L609.4 99.1L609.4 99.4L609.4 99.6L609.5 99.9L609.5 100.1L609.5 100.3L609.6 100.5L609.6 100.7L609.6 100.8L609.7 100.9L609.7 101L609.7 101.1L609.8 101.2L609.8 101.2L609.9 101.2L609.9 101.2L609.9 101.2L610 101.1L610 101L610 100.9L610.1 100.8L610.1 100.6L610.1 100.4L610.2 100.2L610.2 100L610.3 99.8L610.3 99.6L610.3 99.3L610.4 99L610.4 98.7L610.4 98.4L610.5 98.1L610.5 97.8L610.5 97.4L610.6 97.1L610.6 96.7L610.6 96.3L610.7 95.9L610.7 95.5L610.8 95L610.8 94.5L610.8 93.9L610.9 93.3L610.9 92.7L610.9 92L611 91.2L611 90.3L611 89.3L611.1 88.2L611.1 87L611.1 85.7L611.2 84.2L611.2 82.6L611.3 80.8L611.3 78.9L611.3 76.8L611.4 74.6L611.4 72.3L611.4 69.8L611.5 67.3L611.5 64.7L611.5 62L611.6 59.3L611.6 56.7L611.7 54.1L611.7 51.6L611.7 49.2L611.8 47L611.8 45.1L611.8 43.4L611.9 42L611.9 40.9L611.9 40.1L612 39.6L612 39.4L612 39.8L612.1 40.5L612.1 41.6L612.2 43.1L612.2 44.9L612.2 47.1L612.3 49.5L612.3 52.2L612.3 55.1L612.4 58.3L612.4 61.6L612.4 65L612.5 68.6L612.5 72.2L612.6 75.9L612.6 79.6L612.6 83.4L612.7 87L612.7 90.6L612.7 94.1L612.8 97.4L612.8 100.6L612.8 103.5L612.9 106.2L612.9 108.5L612.9 110.6L613 112.3L613 113.6L613.1 114.5L613.1 115.3L613.1 115.7L613.2 115.7L613.2 115.4L613.2 114.8L613.3 114L613.3 113L613.3 111.9L613.4 110.6L613.4 109.4L613.4 108.1L613.5 106.8L613.5 105.6L613.6 104.5L613.6 103.5L613.6 102.7L613.7 101.9L613.7 101.3L613.7 100.8L613.8 100.3L613.8 100L613.8 99.8L613.9 99.6L613.9 99.5L614 99.5L614 99.5L614 99.5L614.1 99.5L614.1 99.5L614.1 99.5L614.2 99.5L614.2 99.6L614.2 99.5L614.3 99.5L614.3 99.5L614.3 99.4L614.4 99.3L614.4 99.2L614.5 99.1L614.5 98.9L614.5 98.8L614.6 98.6L614.6 98.4L614.6 98.1L614.7 97.9L614.7 97.6L614.7 97.4L614.8 97.1L614.8 96.8L614.9 96.5L614.9 96.2L614.9 95.9L615 95.6L615 95.4L615 95.1L615.1 94.8L615.1 94.5L615.1 94.3L615.2 94L615.2 93.8L615.2 93.6L615.3 93.4L615.3 93.2L615.4 93L615.4 92.9L615.4 92.8L615.5 92.7L615.5 92.6L615.5 92.6L615.6 92.6L615.6 92.6L615.6 92.6L615.7 92.7L615.7 92.8L615.8 92.9L615.8 93.1L615.8 93.2L615.9 93.4L615.9 93.6L615.9 93.9L616 94.1L616 94.4L616 94.7L616.1 95L616.1 95.3L616.1 95.7L616.2 96L616.2 96.3L616.3 96.7L616.3 97L616.3 97.4L616.4 97.7L616.4 98L616.4 98.4L616.5 98.7L616.5 99L616.5 99.3L616.6 99.6L616.6 99.8L616.6 100.1L616.7 100.3L616.7 100.5L616.8 100.7L616.8 100.8L616.8 101L616.9 101.1L616.9 101.1L616.9 101.2L617 101.2L617 101.2L617 101.2L617.1 101.1L617.1 101L617.2 100.9L617.2 100.8L617.2 100.6L617.3 100.4L617.3 100.2L617.3 100L617.4 99.7L617.4 99.5L617.4 99.2L617.5 98.9L617.5 98.5L617.5 98.2L617.6 97.8L617.6 97.4L617.7 97L617.7 96.6L617.7 96.1L617.8 95.6L617.8 95.1L617.8 94.5L617.9 93.9L617.9 93.2L617.9 92.4L618 91.6L618 90.7L618.1 89.7L618.1 88.7L618.1 87.5L618.2 86.1L618.2 84.7L618.2 83.1L618.3 81.4L618.3 79.6L618.3 77.6L618.4 75.6L618.4 73.4L618.4 71.1L618.5 68.7L618.5 66.3L618.6 63.8L618.6 61.3L618.6 58.9L618.7 56.6L618.7 54.3L618.7 52.2L618.8 50.3L618.8 48.5L618.8 47.1L618.9 45.8L618.9 44.9L618.9 44.3L619 43.9L619 43.9L619.1 44.3L619.1 45.1L619.1 46.2L619.2 47.6L619.2 49.4L619.2 51.5L619.3 53.8L619.3 56.3L619.3 59.1L619.4 62L619.4 65.1L619.5 68.3L619.5 71.6L619.5 74.9L619.6 78.4L619.6 81.8L619.6 85.2L619.7 88.6L619.7 91.8L619.7 95L619.8 98L619.8 100.9L619.8 103.5L619.9 105.9L619.9 108L620 109.8L620 111.3L620 112.4L620.1 113.2L620.1 113.8L620.1 114.1L620.2 114.1L620.2 113.7L620.2 113.2L620.3 112.4L620.3 111.5L620.4 110.5L620.4 109.4L620.4 108.2L620.5 107.1L620.5 106L620.5 105L620.6 104L620.6 103.2L620.6 102.5L620.7 101.8L620.7 101.3L620.7 100.9L620.8 100.5L620.8 100.3L620.9 100.1L620.9 99.9L620.9 99.8L621 99.8L621 99.7L621 99.7L621.1 99.7L621.1 99.6L621.1 99.6L621.2 99.5L621.2 99.4L621.3 99.3L621.3 99.2L621.3 99L621.4 98.9L621.4 98.7L621.4 98.4L621.5 98.2L621.5 97.9L621.5 97.6L621.6 97.4L621.6 97L621.6 96.7L621.7 96.4L621.7 96.1L621.8 95.8L621.8 95.4L621.8 95.1L621.9 94.8L621.9 94.5L621.9 94.2L622 93.9L622 93.7L622 93.5L622.1 93.3L622.1 93.1L622.1 92.9L622.2 92.8L622.2 92.7L622.3 92.6L622.3 92.6L622.3 92.6L622.4 92.6L622.4 92.7L622.4 92.8L622.5 92.9L622.5 93.1L622.5 93.2L622.6 93.5L622.6 93.7L622.7 94L622.7 94.3L622.7 94.6L622.8 94.9L622.8 95.3L622.8 95.6L622.9 96L622.9 96.4L622.9 96.7L623 97.1L623 97.5L623 97.9L623.1 98.2L623.1 98.6L623.2 98.9L623.2 99.3L623.2 99.6L623.3 99.9L623.3 100.1L623.3 100.4L623.4 100.6L623.4 100.7L623.4 100.9L623.5 101L623.5 101.1L623.6 101.1L623.6 101.2L623.6 101.1L623.7 101.1L623.7 101L623.7 100.9L623.8 100.7L623.8 100.5L623.8 100.3L623.9 100.1L623.9 99.8L623.9 99.5L624 99.1L624 98.7L624.1 98.3L624.1 97.9L624.1 97.4L624.2 96.9L624.2 96.3L624.2 95.7L624.3 95.1L624.3 94.4L624.3 93.6L624.4 92.8L624.4 91.8L624.5 90.8L624.5 89.7L624.5 88.5L624.6 87.2L624.6 85.8L624.6 84.3L624.7 82.6L624.7 80.9L624.7 79L624.8 77L624.8 74.9L624.8 72.7L624.9 70.5L624.9 68.2L625 65.9L625 63.6L625 61.3L625.1 59.1L625.1 57.1L625.1 55.1L625.2 53.3L625.2 51.7L625.2 50.3L625.3 49.2L625.3 48.4L625.3 47.8L625.4 47.4L625.4 47.3L625.5 47.7L625.5 48.5L625.5 49.5L625.6 50.8L625.6 52.5L625.6 54.4L625.7 56.5L625.7 58.9L625.7 61.5L625.8 64.2L625.8 67.1L625.9 70.1L625.9 73.2L625.9 76.3L626 79.5L626 82.8L626 86L626.1 89.2L626.1 92.3L626.1 95.3L626.2 98.1L626.2 100.8L626.2 103.3L626.3 105.6L626.3 107.6L626.4 109.3L626.4 110.7L626.4 111.8L626.5 112.5L626.5 113.1L626.5 113.4L626.6 113.3L626.6 113L626.6 112.5L626.7 111.7L626.7 110.8L626.8 109.8L626.8 108.7L626.8 107.6L626.9 106.5L626.9 105.4L626.9 104.4L627 103.5L627 102.6L627 101.9L627.1 101.3L627.1 100.8L627.1 100.3L627.2 100L627.2 99.7L627.3 99.6L627.3 99.4L627.3 99.3L627.4 99.3L627.4 99.2L627.4 99.2L627.5 99.2L627.5 99.1L627.5 99.1L627.6 99.1L627.6 99L627.6 98.9L627.7 98.8L627.7 98.7L627.8 98.5L627.8 98.4L627.8 98.2L627.9 98L627.9 97.8L627.9 97.5L628 97.3L628 97L628 96.7L628.1 96.4L628.1 96.1L628.2 95.8L628.2 95.5L628.2 95.2L628.3 94.9L628.3 94.7L628.3 94.4L628.4 94.1L628.4 93.9L628.4 93.6L628.5 93.4L628.5 93.2L628.5 93.1L628.6 92.9L628.6 92.8L628.7 92.7L628.7 92.6L628.7 92.6L628.8 92.6L628.8 92.6L628.8 92.7L628.9 92.8L628.9 92.9L628.9 93L629 93.2L629 93.3L629.1 93.6L629.1 93.8L629.1 94.1L629.2 94.3L629.2 94.6L629.2 94.9L629.3 95.3L629.3 95.6L629.3 95.9L629.4 96.3L629.4 96.6L629.4 97L629.5 97.3L629.5 97.7L629.6 98L629.6 98.3L629.6 98.6L629.7 98.9L629.7 99.2L629.7 99.4L629.8 99.7L629.8 99.9L629.8 100.1L629.9 100.2L629.9 100.4L630 100.5L630 100.5L630 100.6L630.1 100.6L630.1 100.6L630.1 100.5L630.2 100.4L630.2 100.3L630.2 100.2L630.3 100L630.3 99.8L630.3 99.6L630.4 99.3L630.4 99.1L630.5 98.8L630.5 98.4L630.5 98.1L630.6 97.7L630.6 97.3L630.6 96.9L630.7 96.4L630.7 95.9L630.7 95.4L630.8 94.9L630.8 94.3L630.8 93.6L630.9 92.9L630.9 92.1L631 91.3L631 90.4L631 89.5L631.1 88.4L631.1 87.3L631.1 86.1L631.2 84.8L631.2 83.4L631.2 81.9L631.3 80.3L631.3 78.7L631.4 77L631.4 75.3L631.4 73.5L631.5 71.7L631.5 70L631.5 68.2L631.6 66.6L631.6 65L631.6 63.5L631.7 62.2L631.7 61L631.7 60L631.8 59.1L631.8 58.5L631.9 58.1L631.9 57.9L631.9 57.9L632 58.2L632 58.8L632 59.7L632.1 60.8L632.1 62.1L632.1 63.6L632.2 65.3L632.2 67.2L632.3 69.3L632.3 71.5L632.3 73.8L632.4 76.2L632.4 78.7L632.4 81.2L632.5 83.8L632.5 86.4L632.5 89L632.6 91.6L632.6 94.1L632.6 96.6L632.7 98.9L632.7 101.1L632.8 103.1L632.8 105L632.8 106.6L632.9 108L632.9 109.1L632.9 109.9L633 110.4L633 110.8L633 110.9L633.1 110.8L633.1 110.4L633.2 109.9L633.2 109.1L633.2 108.3L633.3 107.3L633.3 106.3L633.3 105.3L633.4 104.3L633.4 103.3L633.4 102.4L633.5 101.6L633.5 100.8L633.5 100.2L633.6 99.6L633.6 99.1L633.7 98.7L633.7 98.4L633.7 98.2L633.8 98L633.8 97.9L633.8 97.8L633.9 97.8L633.9 97.7L633.9 97.7L634 97.7L634 97.7L634 97.7L634.1 97.7L634.1 97.6L634.2 97.6L634.2 97.5L634.2 97.5L634.3 97.4L634.3 97.3L634.3 97.1L634.4 97L634.4 96.8L634.4 96.7L634.5 96.5L634.5 96.3L634.6 96.1L634.6 95.9L634.6 95.7L634.7 95.5L634.7 95.3L634.7 95.1L634.8 94.8L634.8 94.6L634.8 94.4L634.9 94.2L634.9 94L634.9 93.8L635 93.6L635 93.4L635.1 93.3L635.1 93.1L635.1 93L635.2 92.9L635.2 92.8L635.2 92.8L635.3 92.7L635.3 92.7L635.3 92.7L635.4 92.7L635.4 92.7L635.5 92.8L635.5 92.8L635.5 92.9L635.6 93.1L635.6 93.2L635.6 93.3L635.7 93.5L635.7 93.7L635.7 93.9L635.8 94.1L635.8 94.3L635.8 94.6L635.9 94.8L635.9 95.1L636 95.3L636 95.6L636 95.8L636.1 96.1L636.1 96.3L636.1 96.6L636.2 96.8L636.2 97.1L636.2 97.3L636.3 97.5L636.3 97.7L636.3 97.9L636.4 98.1L636.4 98.2L636.5 98.4L636.5 98.5L636.5 98.6L636.6 98.7L636.6 98.8L636.6 98.8L636.7 98.8L636.7 98.8L636.7 98.8L636.8 98.7L636.8 98.7L636.9 98.6L636.9 98.5L636.9 98.3L637 98.2L637 98L637 97.8L637.1 97.6L637.1 97.4L637.1 97.2L637.2 96.9L637.2 96.7L637.2 96.4L637.3 96.1L637.3 95.8L637.4 95.4L637.4 95L637.4 94.7L637.5 94.2L637.5 93.8L637.5 93.3L637.6 92.8L637.6 92.2L637.6 91.6L637.7 90.9L637.7 90.1L637.8 89.3L637.8 88.4L637.8 87.5L637.9 86.5L637.9 85.4L637.9 84.2L638 82.9L638 81.6L638 80.3L638.1 78.9L638.1 77.4L638.1 76L638.2 74.5L638.2 73L638.3 71.6L638.3 70.3L638.3 69L638.4 67.9L638.4 66.8L638.4 66L638.5 65.2L638.5 64.6L638.5 64.2L638.6 64L638.6 63.9L638.7 64.1L638.7 64.5L638.7 65.2L638.8 66L638.8 67.1L638.8 68.3L638.9 69.6L638.9 71.2L638.9 72.9L639 74.7L639 76.6L639 78.6L639.1 80.7L639.1 82.8L639.2 85L639.2 87.3L639.2 89.5L639.3 91.8L639.3 94L639.3 96.1L639.4 98.2L639.4 100.2L639.4 102L639.5 103.7L639.5 105.2L639.5 106.5L639.6 107.5L639.6 108.3L639.7 108.9L639.7 109.2L639.7 109.4L639.8 109.3L639.8 109L639.8 108.5L639.9 107.9L639.9 107.1L639.9 106.2L640 105.3L640 104.3L640.1 103.4L640.1 102.5L640.1 101.6L640.2 100.8L640.2 100L640.2 99.4L640.3 98.8L640.3 98.3L640.3 97.9L640.4 97.6L640.4 97.3L640.4 97.1L640.5 97L640.5 96.9L640.6 96.9L640.6 96.8L640.6 96.8L640.7 96.8L640.7 96.8L640.7 96.8L640.8 96.8L640.8 96.8L640.8 96.8L640.9 96.8L640.9 96.8L641 96.7L641 96.7L641 96.6L641.1 96.5L641.1 96.4L641.1 96.3L641.2 96.2L641.2 96.1L641.2 96L641.3 95.8L641.3 95.7L641.3 95.5L641.4 95.4L641.4 95.2L641.5 95L641.5 94.8L641.5 94.7L641.6 94.5L641.6 94.3L641.6 94.2L641.7 94L641.7 93.8L641.7 93.7L641.8 93.5L641.8 93.4L641.9 93.3L641.9 93.2L641.9 93.1L642 93L642 92.9L642 92.8L642.1 92.8L642.1 92.7L642.1 92.7L642.2 92.7L642.2 92.7L642.2 92.7L642.3 92.8L642.3 92.8L642.4 92.9L642.4 93L642.4 93.1L642.5 93.2L642.5 93.4L642.5 93.5L642.6 93.6L642.6 93.8L642.6 94L642.7 94.2L642.7 94.3L642.7 94.5L642.8 94.7L642.8 94.9L642.9 95.1L642.9 95.3L642.9 95.5L643 95.7L643 95.9L643 96.1L643.1 96.3L643.1 96.5L643.1 96.7L643.2 96.8L643.2 97L643.3 97.1L643.3 97.3L643.3 97.4L643.4 97.5L643.4 97.6L643.4 97.6L643.5 97.7L643.5 97.8L643.5 97.8L643.6 97.8L643.6 97.8L643.6 97.8L643.7 97.7L643.7 97.7L643.8 97.6L643.8 97.5L643.8 97.4L643.9 97.3L643.9 97.2L643.9 97.1L644 96.9L644 96.8L644 96.6L644.1 96.4L644.1 96.2L644.2 96L644.2 95.8L644.2 95.6L644.3 95.3L644.3 95.1L644.3 94.9L644.4 94.6L644.4 94.3L644.4 94L644.5 93.7L644.5 93.3L644.5 92.9L644.6 92.5L644.6 92.1L644.7 91.6L644.7 91.1L644.7 90.5L644.8 89.9L644.8 89.2L644.8 88.5L644.9 87.7L644.9 86.9L644.9 86L645 85L645 84L645 83L645.1 81.9L645.1 80.8L645.2 79.7L645.2 78.6L645.2 77.5L645.3 76.5L645.3 75.5L645.3 74.5L645.4 73.7L645.4 72.9L645.4 72.3L645.5 71.7L645.5 71.3L645.6 71.1L645.6 70.9L645.6 70.9L645.7 71.1L645.7 71.5L645.7 72L645.8 72.7L645.8 73.6L645.8 74.5L645.9 75.6L645.9 76.9L645.9 78.2L646 79.6L646 81.1L646.1 82.7L646.1 84.4L646.1 86.1L646.2 87.8L646.2 89.6L646.2 91.4L646.3 93.2L646.3 95L646.3 96.7L646.4 98.4L646.4 99.9L646.5 101.4L646.5 102.7L646.5 103.9L646.6 104.8L646.6 105.6L646.6 106.2L646.7 106.6L646.7 106.9L646.7 106.9L646.8 106.8L646.8 106.5L646.8 106L646.9 105.4L646.9 104.7L647 104L647 103.2L647 102.4L647.1 101.6L647.1 100.8L647.1 100.1L647.2 99.4L647.2 98.8L647.2 98.3L647.3 97.8L647.3 97.4L647.4 97.1L647.4 96.8L647.4 96.6L647.5 96.4L647.5 96.3L647.5 96.2L647.6 96.1L647.6 96.1L647.6 96L647.7 96L647.7 96L647.7 95.9L647.8 95.9L647.8 95.8L647.9 95.8L647.9 95.7L647.9 95.6L648 95.5L648 95.4L648 95.3L648.1 95.2L648.1 95.1L648.1 94.9L648.2 94.8L648.2 94.6L648.2 94.5L648.3 94.3L648.3 94.2L648.4 94L648.4 93.9L648.4 93.8L648.5 93.6L648.5 93.5L648.5 93.4L648.6 93.2L648.6 93.1L648.6 93L648.7 93L648.7 92.9L648.8 92.8L648.8 92.8L648.8 92.8L648.9 92.8L648.9 92.8L648.9 92.8L649 92.8L649 92.9L649 92.9L649.1 93L649.1 93.1L649.1 93.2L649.2 93.3L649.2 93.4L649.3 93.6L649.3 93.7L649.3 93.9L649.4 94L649.4 94.2L649.4 94.4L649.5 94.6L649.5 94.7L649.5 94.9L649.6 95.1L649.6 95.2L649.7 95.4L649.7 95.6L649.7 95.7L649.8 95.9L649.8 96L649.8 96.1L649.9 96.2L649.9 96.3L649.9 96.4L650 96.5L650 96.5L650 96.6L650.1 96.6L650.1 96.6L650.2 96.6L650.2 96.6L650.2 96.5L650.3 96.5L650.3 96.4L650.3 96.3L650.4 96.2L650.4 96.1L650.4 96L650.5 95.8L650.5 95.7L650.5 95.5L650.6 95.3L650.6 95.1L650.7 94.9L650.7 94.6L650.7 94.3L650.8 94.1L650.8 93.7L650.8 93.4L650.9 93L650.9 92.6L650.9 92.2L651 91.7L651 91.2L651.1 90.6L651.1 90L651.1 89.4L651.2 88.7L651.2 87.9L651.2 87.1L651.3 86.3L651.3 85.4L651.3 84.5L651.4 83.5L651.4 82.5L651.4 81.6L651.5 80.6L651.5 79.6L651.6 78.7L651.6 77.8L651.6 76.9L651.7 76.2L651.7 75.5L651.7 74.9L651.8 74.4L651.8 74L651.8 73.8L651.9 73.6L651.9 73.6L652 73.7L652 74L652 74.5L652.1 75L652.1 75.8L652.1 76.6L652.2 77.5L652.2 78.6L652.2 79.8L652.3 81L652.3 82.4L652.3 83.8L652.4 85.3L652.4 86.8L652.5 88.4L652.5 90L652.5 91.6L652.6 93.2L652.6 94.9L652.6 96.5L652.7 98L652.7 99.5L652.7 100.8L652.8 102.1L652.8 103.2L652.9 104.1L652.9 104.9L652.9 105.5L653 105.9L653 106.1L653 106.2L653.1 106.1L653.1 105.8L653.1 105.4L653.2 104.9L653.2 104.2L653.2 103.5L653.3 102.8L653.3 102L653.4 101.2L653.4 100.5L653.4 99.8L653.5 99.1L653.5 98.5L653.5 98L653.6 97.5L653.6 97.1L653.6 96.8L653.7 96.5L653.7 96.3L653.7 96.1L653.8 96L653.8 95.9L653.9 95.8L653.9 95.7L653.9 95.7L654 95.6L654 95.6L654 95.6L654.1 95.5L654.1 95.5L654.1 95.4L654.2 95.4L654.2 95.3L654.3 95.2L654.3 95.1L654.3 95L654.4 94.9L654.4 94.8L654.4 94.7L654.5 94.6L654.5 94.5L654.5 94.3L654.6 94.2L654.6 94.1L654.6 93.9L654.7 93.8L654.7 93.7L654.8 93.6L654.8 93.4L654.8 93.3L654.9 93.2L654.9 93.1L654.9 93L655 93L655 92.9L655 92.9L655.1 92.8L655.1 92.8L655.2 92.8L655.2 92.8L655.2 92.8L655.3 92.8L655.3 92.9L655.3 92.9L655.4 93L655.4 93L655.4 93.1L655.5 93.2L655.5 93.3L655.5 93.5L655.6 93.6L655.6 93.7L655.7 93.9L655.7 94L655.7 94.2L655.8 94.3L655.8 94.5L655.8 94.6L655.9 94.8L655.9 94.9L655.9 95.1L656 95.2L656 95.3L656.1 95.5L656.1 95.6L656.1 95.7L656.2 95.8L656.2 95.9L656.2 96L656.3 96L656.3 96.1L656.3 96.1L656.4 96.1L656.4 96.2L656.4 96.2L656.5 96.1L656.5 96.1L656.6 96.1L656.6 96L656.6 95.9L656.7 95.9L656.7 95.8L656.7 95.6L656.8 95.5L656.8 95.4L656.8 95.3L656.9 95.1L656.9 94.9L656.9 94.8L657 94.6L657 94.4L657.1 94.2L657.1 93.9L657.1 93.7L657.2 93.5L657.2 93.2L657.2 92.9L657.3 92.6L657.3 92.3L657.3 91.9L657.4 91.6L657.4 91.2L657.5 90.8L657.5 90.3L657.5 89.9L657.6 89.4L657.6 88.9L657.6 88.4L657.7 87.8L657.7 87.3L657.7 86.7L657.8 86.2L657.8 85.7L657.8 85.1L657.9 84.7L657.9 84.2L658 83.8L658 83.4L658 83L658.1 82.8L658.1 82.6L658.1 82.4L658.2 82.3L658.2 82.2L658.2 82.3L658.3 82.4L658.3 82.7L658.4 83L658.4 83.4L658.4 83.9L658.5 84.4L658.5 85L658.5 85.7L658.6 86.4L658.6 87.2L658.6 88.1L658.7 89L658.7 89.9L658.7 90.9L658.8 92L658.8 93L658.9 94.1L658.9 95.1L658.9 96.2L659 97.2L659 98.2L659 99.2L659.1 100.1L659.1 100.8L659.1 101.5L659.2 102L659.2 102.5L659.2 102.8L659.3 102.9L659.3 103L659.4 102.9L659.4 102.7L659.4 102.3L659.5 101.9L659.5 101.4L659.5 100.9L659.6 100.3L659.6 99.7L659.6 99.1L659.7 98.5L659.7 97.9L659.8 97.4L659.8 96.9L659.8 96.5L659.9 96.1L659.9 95.8L659.9 95.5L660 95.2L660 95L660 94.9L660.1 94.8L660.1 94.7L660.1 94.6L660.2 94.5L660.2 94.5L660.3 94.5L660.3 94.4L660.3 94.4L660.4 94.4L660.4 94.3L660.4 94.3L660.5 94.3L660.5 94.2L660.5 94.2L660.6 94.1L660.6 94.1L660.7 94L660.7 94L660.7 93.9L660.8 93.8L660.8 93.8L660.8 93.7L660.9 93.6L660.9 93.6L660.9 93.5L661 93.4L661 93.3L661 93.3L661.1 93.2L661.1 93.2L661.2 93.1L661.2 93L661.2 93L661.3 93L661.3 92.9L661.3 92.9L661.4 92.9L661.4 92.8L661.4 92.8L661.5 92.8L661.5 92.8L661.6 92.8L661.6 92.9L661.6 92.9L661.7 92.9L661.7 93L661.7 93L661.8 93.1L661.8 93.1L661.8 93.2L661.9 93.3L661.9 93.3L661.9 93.4L662 93.5L662 93.6L662.1 93.7L662.1 93.7L662.1 93.8L662.2 93.9L662.2 94L662.2 94.1L662.3 94.2L662.3 94.2L662.3 94.3L662.4 94.4L662.4 94.4L662.4 94.5L662.5 94.5L662.5 94.6L662.6 94.6L662.6 94.7L662.6 94.7L662.7 94.7L662.7 94.7L662.7 94.7L662.8 94.7L662.8 94.7L662.8 94.7L662.9 94.6L662.9 94.6L663 94.5L663 94.5L663 94.4L663.1 94.4L663.1 94.3L663.1 94.2L663.2 94.1L663.2 94L663.2 93.9L663.3 93.8L663.3 93.7L663.3 93.5L663.4 93.4L663.4 93.2L663.5 93.1L663.5 92.9L663.5 92.7L663.6 92.5L663.6 92.3L663.6 92L663.7 91.7L663.7 91.4L663.7 91.1L663.8 90.8L663.8 90.4L663.9 90L663.9 89.6L663.9 89.2L664 88.8L664 88.4L664 87.9L664.1 87.5L664.1 87L664.1 86.6L664.2 86.1L664.2 85.7L664.2 85.4L664.3 85L664.3 84.7L664.4 84.5L664.4 84.3L664.4 84.2L664.5 84.1L664.5 84L664.5 84L664.6 84.1L664.6 84.3L664.6 84.5L664.7 84.8L664.7 85.2L664.8 85.6L664.8 86.1L664.8 86.6L664.9 87.1L664.9 87.7L664.9 88.3L665 89L665 89.7L665 90.4L665.1 91.1L665.1 91.8L665.1 92.5L665.2 93.3L665.2 94L665.3 94.7L665.3 95.3L665.3 96L665.4 96.6L665.4 97.1L665.4 97.5L665.5 97.9L665.5 98.2L665.5 98.4L665.6 98.6L665.6 98.7L665.6 98.7L665.7 98.6L665.7 98.5L665.8 98.3L665.8 98.1L665.8 97.8L665.9 97.5L665.9 97.2L665.9 96.9L666 96.6L666 96.3L666 96L666.1 95.7L666.1 95.5L666.2 95.3L666.2 95.1L666.2 94.9L666.3 94.8L666.3 94.6L666.3 94.5L666.4 94.4L666.4 94.3L666.4 94.3L666.5 94.2L666.5 94.1L666.5 94L666.6 94L666.6 93.9L666.7 93.8L666.7 93.7L666.7 93.6L666.8 93.6L666.8 93.5L666.8 93.4L666.9 93.3L666.9 93.2L666.9 93.2L667 93.1L667 93L667.1 93L667.1 92.9L667.1 92.9L667.2 92.9L667.2 92.8L667.2 92.8L667.3 92.8L667.3 92.9L667.3 92.9L667.4 92.9L667.4 93L667.4 93L667.5 93.1L667.5 93.1L667.6 93.2L667.6 93.3L667.6 93.4L667.7 93.5L667.7 93.6L667.7 93.7L667.8 93.8L667.8 93.9L667.8 93.9L667.9 94L667.9 94.1L667.9 94.2L668 94.2L668 94.3L668.1 94.3L668.1 94.4L668.1 94.4L668.2 94.4L668.2 94.4L668.2 94.4L668.3 94.4L668.3 94.3L668.3 94.3L668.4 94.2L668.4 94.2L668.5 94.1L668.5 94L668.5 94L668.6 93.9L668.6 93.8L668.6 93.7L668.7 93.6L668.7 93.5L668.7 93.5L668.8 93.4L668.8 93.3L668.8 93.2L668.9 93.2L668.9 93.1L669 93L669 93L669 93L669.1 92.9L669.1 92.9L669.1 92.9L669.2 92.9L669.2 92.9L669.2 92.9L669.3 92.9L669.3 92.9L669.4 92.9L669.4 92.9L669.4 92.9L669.5 92.9L669.5 92.9L669.5 92.9L669.6 92.9L669.6 92.9L669.6 92.9L669.7 92.9L669.7 92.9L669.7 92.9L669.8 92.9L669.8 92.9L669.9 92.9L669.9 92.9L669.9 92.9L670 92.9L670 92.9L670 92.9L670.1 92.9L670.1 92.9L670.1 92.9L670.2 92.9L670.2 92.9L670.3 92.9L670.3 92.9L670.3 92.9L670.4 92.9L670.4 92.9L670.4 92.9L670.5 92.9L670.5 92.9L670.5 92.9L670.6 92.9L670.6 92.9L670.6 92.9L670.7 92.9L670.7 92.9L670.8 92.9L670.8 92.9L670.8 92.9L670.9 92.9L670.9 92.9L670.9 92.9L671 92.9L671 92.9L671 92.9L671.1 92.9L671.1 92.9L671.1 92.9L671.2 92.9L671.2 92.9L671.3 92.9L671.3 92.9L671.3 92.9L671.4 92.9L671.4 92.9L671.4 92.9L671.5 92.9L671.5 92.9L671.5 92.9L671.6 92.9L671.6 92.9L671.7 92.9L671.7 92.9L671.7 92.9L671.8 92.9L671.8 92.9L671.8 92.9L671.9 92.9L671.9 92.9L671.9 92.9L672 92.9L672 92.9L672 92.9L672.1 92.9L672.1 92.9L672.2 92.9L672.2 92.9L672.2 92.9L672.3 92.9L672.3 92.9L672.3 92.9L672.4 92.9L672.4 92.9L672.4 92.9L672.5 92.9L672.5 92.9L672.6 92.9L672.6 92.9L672.6 92.9L672.7 92.9L672.7 92.9L672.7 92.9L672.8 92.9L672.8 92.9L672.8 92.9L672.9 92.9L672.9 92.9L672.9 92.9L673 92.9L673 92.9L673.1 92.9L673.1 92.9L673.1 92.9L673.2 92.9L673.2 92.9L673.2 92.9L673.3 92.9L673.3 92.9L673.3 92.9L673.4 92.9L673.4 92.9L673.5 92.9L673.5 92.9L673.5 92.9L673.6 92.9L673.6 92.9L673.6 92.9L673.7 92.9L673.7 92.9L673.7 92.9L673.8 92.9L673.8 92.9L673.8 92.9L673.9 92.9L673.9 92.9L674 92.9L674 92.9L674 92.9L674.1 92.9L674.1 92.9L674.1 92.9L674.2 92.9L674.2 92.9L674.2 92.9L674.3 92.9L674.3 92.9L674.3 92.9L674.4 92.9L674.4 92.9L674.5 92.9L674.5 92.9L674.5 92.9L674.6 92.9L674.6 92.9L674.6 92.9L674.7 92.9L674.7 92.9L674.7 92.9L674.8 92.9L674.8 92.9L674.9 92.9L674.9 92.9L674.9 92.9L675 92.9L675 92.9L675 92.9L675.1 92.9L675.1 92.9L675.1 92.9L675.2 92.9L675.2 92.9L675.2 92.9L675.3 92.9L675.3 92.9L675.4 92.9L675.4 92.9L675.4 92.9L675.5 92.9L675.5 92.9L675.5 92.9L675.6 92.9L675.6 92.9L675.6 92.9L675.7 92.9L675.7 92.9L675.8 92.9L675.8 92.9L675.8 92.9L675.9 92.9L675.9 92.9L675.9 92.9L676 92.9L676 92.9L676 92.9L676.1 92.9L676.1 92.9L676.1 92.9L676.2 92.9L676.2 92.9L676.3 92.9L676.3 92.9L676.3 92.9L676.4 92.9L676.4 92.9L676.4 92.9L676.5 92.9L676.5 92.9L676.5 92.9L676.6 92.9L676.6 92.9L676.6 92.9L676.7 92.9L676.7 92.9L676.8 92.9L676.8 92.9L676.8 92.9L676.9 92.9L676.9 92.9L676.9 92.9L677 92.9L677 92.9L677 92.9L677.1 92.9L677.1 92.9L677.2 92.9L677.2 92.9L677.2 92.9L677.3 92.9L677.3 92.9L677.3 92.9L677.4 92.9L677.4 92.9L677.4 92.9L677.5 92.9L677.5 92.9L677.5 92.9L677.6 92.9L677.6 92.9L677.7 92.9L677.7 92.9L677.7 92.9L677.8 92.9L677.8 92.9L677.8 92.9L677.9 92.9L677.9 92.9L677.9 92.9L678 92.9L678 92.9L678.1 92.9L678.1 92.9L678.1 92.9L678.2 92.9L678.2 92.9L678.2 92.9L678.3 92.9L678.3 92.9L678.3 92.9L678.4 92.9L678.4 92.9L678.4 92.9L678.5 92.9L678.5 92.9L678.6 92.9L678.6 92.9L678.6 92.9L678.7 92.9L678.7 92.9L678.7 92.9L678.8 92.9L678.8 92.9L678.8 92.9L678.9 92.9L678.9 92.9L679 92.9L679 92.9L679 92.9L679.1 92.9L679.1 92.9L679.1 92.9L679.2 92.9L679.2 92.9L679.2 92.9L679.3 92.9L679.3 92.9L679.3 92.9L679.4 92.9L679.4 92.9L679.5 92.9L679.5 92.9L679.5 92.9L679.6 92.9L679.6 92.9L679.6 92.9L679.7 92.9L679.7 92.9L679.7 92.9L679.8 92.9L679.8 92.9L679.8 92.9L679.9 92.9L679.9 92.9L680 92.9L680 92.9L680 92.9L680.1 92.9L680.1 92.9L680.1 92.9L680.2 92.9L680.2 92.9L680.2 92.9L680.3 92.9L680.3 92.9L680.4 92.9L680.4 92.9L680.4 92.9L680.5 92.9L680.5 92.9L680.5 92.9L680.6 92.9L680.6 92.9L680.6 92.9L680.7 92.9L680.7 92.9L680.7 92.9L680.8 92.9L680.8 92.9L680.9 92.9L680.9 92.9L680.9 92.9L681 92.9L681 92.9L681 92.9L681.1 92.9L681.1 92.9L681.1 92.9L681.2 92.9L681.2 92.9L681.3 92.9L681.3 92.9L681.3 92.9L681.4 92.9L681.4 92.9L681.4 92.9L681.5 92.9L681.5 92.9L681.5 92.9L681.6 92.9L681.6 92.9L681.6 92.9L681.7 92.9L681.7 92.9L681.8 92.9L681.8 92.9L681.8 92.9L681.9 92.9L681.9 92.9L681.9 92.9L682 92.9L682 92.9L682 92.9L682.1 92.9L682.1 92.9L682.2 92.9L682.2 92.9L682.2 92.9L682.3 92.9L682.3 92.9L682.3 92.9L682.4 92.9L682.4 92.9L682.4 92.9L682.5 92.9L682.5 92.9L682.5 92.9L682.6 92.9L682.6 92.9L682.7 92.9L682.7 92.9L682.7 92.9L682.8 92.9L682.8 92.9L682.8 92.9L682.9 92.9L682.9 92.9L682.9 92.9L683 92.9L683 92.9L683 92.9L683.1 92.9L683.1 92.9L683.2 92.9L683.2 92.9L683.2 92.9L683.3 92.9L683.3 92.9L683.3 92.9L683.4 92.9L683.4 92.9L683.4 92.9L683.5 92.9L683.5 92.9L683.6 92.9L683.6 92.9"/>
<path class="ax" d="M470.8 159V154M470.8 26.7V31.7M542.7 159V154M542.7 26.7V31.7M614.6 159V154M614.6 26.7V31.7M438.3 92.9H443.3M682.7 92.9H677.7M438.3 26.7H682.7V159H438.3Z"/>
<path class="w" d="M78.3 331L78.6 331.2L78.9 331.6L79.3 332.1L79.6 332.5L79.9 333L80.2 334.3L80.5 337.3L80.7 341L81.1 343.9L81.6 345.2L82.2 345.6L82.8 345.2L83.4 343.4L84 340.8L84.6 339.1L85.1 339.1L85.5 340.1L85.9 341.3L86.2 342.6L86.5 344.2L86.8 345.6L87.3 346.8L87.9 347.9L88.5 348.3L89.1 347.7L89.7 346.4L90.3 344.8L90.8 342.7L91.2 340.4L91.6 339.1L92 339.6L92.5 341.1L92.9 343L93.3 345.3L93.8 347.9L94.2 350L94.6 351.9L95.1 353.3L95.5 352.7L95.9 348.1L96.4 341.4L96.8 336.9L97.2 336.8L97.7 338.9L98.1 340.4L98.6 340.2L99 339.4L99.5 339.1L99.9 339.8L100.4 341L100.8 341.7L101.2 341.3L101.7 340.5L102.1 340L102.5 340.2L103 340.7L103.4 341.3L103.7 341.9L104 342.6L104.3 343.9L104.7 346.6L105.2 350L105.6 352.2L106 352.7L106.5 352.1L106.9 350.5L107.3 347.3L107.8 343.1L108.2 339.5L108.5 336.6L108.8 334.3L109.1 333.4L109.5 335L109.9 338L110.4 340.4L111 341.2L111.6 341.4L112.2 342.1L112.8 343.8L113.4 346L113.9 347.8L114.4 349.5L114.8 350.9L115.2 350.5L115.6 347L116.1 341.8L116.5 337.8L116.9 336.5L117.4 336.5L117.8 336.5L118.3 336L118.7 335.6L119.2 336L119.6 337.8L120.1 340.4L120.5 342.1L120.9 342.3L121.4 341.6L121.8 340.4L122.2 338.3L122.6 335.6L123.1 333.4L123.8 331.8L124.6 330.7L125.3 330.3L125.9 330.8L126.5 332.2L127 334.3L127.5 338.2L128 342.8L128.4 345.6L128.8 344.7L129.3 342L129.7 340L130.1 340.4L130.5 341.6L131 341.3L131.6 337.7L132.1 332.5L132.7 329L133.2 328.3L133.6 329.2L134 331.6L134.5 336.3L134.9 342.6L135.4 347.4L135.8 351L136.2 353.3L136.7 350.9L137.3 338.9L137.9 322.3L138.5 312.2L139 315.2L139.4 324.8L139.9 332.6L140.4 335.1L140.8 335.9L141.3 336.8L141.8 338.1L142.2 339.6L142.7 342.4L143.2 348.5L143.6 355.9L144.1 360L144.5 358.9L144.9 354.6L145.5 348.1L146.4 337.2L147.4 324.1L148.3 316.5L148.9 318.3L149.3 325.5L149.8 334L150.5 344L151.2 355.3L151.9 362.8L152.6 364.4L153.3 362.2L154 357.9L154.7 351.6L155.4 343.1L156.1 334L156.7 322L157.2 309.3L157.8 303.8L158.4 311.1L159 325.5L159.6 338.2L160.2 346.8L160.8 353.6L161.4 356.5L162 353.2L162.6 346L163.1 340.3L163.5 339.4L163.9 339.9L164.5 336.8L165.4 324.5L166.4 308.5L167.3 301L168.1 309.2L168.8 325.7L169.4 341L169.7 352.5L169.8 362.8L170.1 369.1L170.7 369.9L171.4 366.8L172.2 362.1L172.9 355.7L173.7 347.7L174.3 341L174.8 337.8L175.3 335.9L175.7 331.2L176.2 318.5L176.7 303L177.2 296.1L177.7 305L178.1 322.4L178.6 338.2L179.1 349.9L179.6 359.8L180.2 364.9L180.8 362.3L181.5 354.8L182.1 348.1L182.6 344.3L183 341.2L183.5 338.2L184.2 336.4L184.9 334.5L185.6 328.4L186.2 310.9L186.7 289.1L187.3 279.9L187.9 294.9L188.4 322.6L189.1 345.3L189.9 356.7L190.8 363L191.6 365.6L192.3 363.5L192.9 357.5L193.5 351.6L194 348.4L194.4 345.3L194.9 338.2L195.5 320.6L196.1 299.1L196.7 289.1L197.2 301.9L197.6 326.3L198.1 343.8L198.6 344.7L199 338.7L199.6 336.8L200.3 346.1L201.1 359.5L201.9 367L202.7 362.7L203.5 352.4L204.1 343.8L204.5 341.3L204.8 340.4L205.2 335.4L205.7 319.7L206.4 299.9L206.9 289.8L207.3 298.7L207.7 317.3L208 331.2L208.3 333.5L208.6 331.1L209 330.5L209.5 333.9L210.2 339L210.8 345.3L211.5 354.7L212.1 365.3L212.8 370.5L213.4 367.4L214 358.9L214.6 346.7L215.2 326.5L215.8 302.7L216.3 289.8L216.7 298L217 317L217.4 331.2L218 332.7L218.8 329.3L219.5 328.4L220.1 333.2L220.6 340.4L221.2 348.1L221.8 357.3L222.4 366.8L223 371.2L223.5 368.5L223.9 360.7L224.4 348.1L225 324.5L225.7 296.1L226.3 281.3L226.8 293.2L227.2 318.6L227.7 336.8L228.2 336.8L228.7 329.5L229.3 327L230.2 336.5L231.2 350.9L232.2 360.7L233 363.1L233.7 360.9L234.3 353.7L234.8 336.7L235.3 314.6L235.7 301L236.2 304.1L236.6 315.6L237.1 324.2L237.5 323.6L237.9 320L238.5 321.4L239.4 333.8L240.4 351.1L241.3 362.8L242 363.1L242.6 357.7L243.1 353.7L243.5 356L243.7 359.7L244.1 356.5L244.6 338.1L245.3 312.8L245.8 297.5L246.2 302.2L246.4 316.9L246.7 328.4L247 330.9L247.4 330.3L247.8 331.2L248.4 335.9L249.1 342.2L249.9 348.1L250.8 353.3L251.8 358.2L252.7 362.1L253.3 367.2L253.7 371.3L254.1 367.7L254.6 347.8L255 320.2L255.5 303.1L256 307.5L256.4 322.6L256.9 334L257.4 335.3L257.8 333L258.3 332.6L258.8 336.4L259.3 342.1L259.8 348.1L260.5 354.9L261.2 362L261.9 366.3L262.4 367.9L262.8 366.6L263.3 359.3L264 339.3L264.8 313.3L265.4 297.5L265.8 302.2L266 317.3L266.4 328.4L266.9 328.8L267.6 325.2L268.2 324.2L268.8 328.2L269.4 334.7L270 342.4L270.6 352.6L271.2 364L271.7 372L272.2 376.8L272.6 378.2L273.1 370.5L273.6 344.1L274.2 308.6L274.8 286.9L275.4 292.5L276 311.8L276.6 327L277.3 330.3L278 329.5L278.7 329.8L279.4 333.2L280.1 337.6L280.8 342.4L281.5 348L282.3 353.9L282.9 357.9L283.3 359.9L283.7 360L284.1 356.5L284.7 345.6L285.4 331L286 322.1L286.4 324.5L286.8 332.6L287.2 338.2L287.7 337.4L288.3 334.2L288.8 332.6L289.2 334.3L289.5 337.6L290 341L290.7 344.6L291.4 348.4L292.1 350.9L292.5 352.5L292.9 352.9L293.5 349.5L294.6 338.6L295.9 323.9L297 314.3L297.5 314.1L297.7 319L298 324.6L298.5 329.9L298.9 335.9L299.4 341.3L299.7 345.8L300 349.6L300.4 352.1L300.8 352.4L301.4 351.3L301.9 351.1L302.5 353.5L303.2 356.7L303.8 357.5L304.4 353.3L305 346.7L305.6 342.3L306 342.8L306.4 345.6L306.8 347.2L307.3 345.3L307.8 342.2L308.3 341.3L308.8 345.2L309.2 351.3L309.7 355.1L310.2 354.1L310.7 350.8L311.2 348.2L311.7 348.3L312.2 349L312.7 347.2L313.4 339.9L314.1 330L314.7 323.6L315.2 323.7L315.7 327.2L316.1 330.5L316.5 332.8L317 334.9L317.4 335.4L317.8 332.8L318.2 328.7L318.6 326.5L319.1 329L319.6 333.5L320.1 335.4L320.7 331.5L321.4 324.9L322 320.6L322.5 320.8L323.1 323.3L323.5 325.6L323.9 327.1L324.3 328.5L324.5 329.5"/>
<path class="ax" d="M117 395.8V390.8M117 265V270M214.4 395.8V390.8M214.4 265V270M311.8 395.8V390.8M311.8 265V270M78.1 343.5H83.1M325 343.5H320M78.1 291.2H83.1M325 291.2H320M78.1 265H325V395.8H78.1Z"/>
<path class="w" d="M439.5 332L439.8 334L440.3 336.7L440.8 337.3L441.2 333.8L441.7 328.3L442.1 324.5L442.5 324.1L442.8 325.4L443.1 327.4L443.4 330.6L443.6 334.5L443.9 336.3L444.2 334.2L444.5 330.1L444.9 326.5L445.3 323.7L445.7 321.5L446.1 321.5L446.4 325.8L446.7 332.2L447 336.3L447.3 335.1L447.7 331.6L448 329.4L448.3 330.7L448.7 333.4L449 335.3L449.3 335.5L449.6 334.8L450 333.3L450.4 331L450.9 328L451.3 324.5L451.7 319.4L452.2 313.8L452.6 311.2L453 313.5L453.4 318.8L453.7 324.5L454 331.3L454.2 338.5L454.5 342.2L454.8 338.7L455.1 331.5L455.5 327.4L455.9 330.7L456.3 337L456.7 340.2L457.2 335.7L457.7 328.1L458.2 324.5L458.7 330.4L459.3 340.3L459.8 345.1L460.3 338.8L460.9 327.4L461.4 320.1L461.9 321.6L462.3 327.3L462.8 332.4L463.3 336.3L463.7 339.6L464.1 340.2L464.4 335.2L464.7 327.3L465 323L465.5 326.3L466 333.2L466.5 337.3L466.9 335.7L467.2 331.3L467.5 327.4L467.9 324.5L468.4 321.9L468.8 321.1L469.2 322.9L469.6 326.4L470 330.4L470.6 335.8L471.3 341.8L471.9 344.2L472.4 339.9L472.9 332.2L473.4 326.5L473.8 325L474.2 325.5L474.6 327.4L475.1 332L475.6 337.9L476.2 340.2L476.8 335.1L477.5 326.5L478.1 321.1L478.6 322.3L478.9 326.6L479.3 330.4L479.7 332.7L480.1 334.6L480.5 335.3L481 333.9L481.6 331.4L482.1 330.4L482.4 333.2L482.7 337.6L483 339.2L483.4 335L483.8 328L484.2 323.5L484.6 324.6L485 328.1L485.4 329.4L485.7 325.7L486.1 319.9L486.4 316.1L486.7 316L487.1 317.9L487.4 320.6L487.7 324.2L487.9 328.6L488.3 332.4L488.8 335.3L489.5 337.6L490.1 338.3L490.6 337.1L491.1 334.4L491.6 330.4L492.2 322.8L492.8 314L493.3 311.2L493.7 319.7L494.1 334.3L494.5 346.1L494.9 352.4L495.4 355.9L495.8 356.5L496.1 354.2L496.4 349L496.9 340.6L497.7 325.3L498.6 306.8L499.4 295.8L499.9 299.2L500.3 310L500.7 317.9L501.1 317.4L501.5 314L501.9 313.5L502.4 319L502.8 327.4L503.2 335.6L503.4 343.7L503.6 351.6L503.8 355.2L504.1 352.6L504.5 345.7L504.9 336.8L505.3 323.5L505.7 308.1L506.1 300.2L506.5 305.6L506.9 318.3L507.3 330.5L507.5 340.4L507.7 349.6L508 355.2L508.4 355.5L508.9 352.1L509.5 346.9L510.1 339.9L510.8 331L511.4 321.7L511.9 309.9L512.4 297.8L512.9 293.3L513.3 303.2L513.8 320.7L514.2 333.1L514.6 333.7L515.1 329.2L515.6 326.7L516.2 331.6L516.8 338.6L517.5 338.7L518.3 323.4L519.2 301.1L520 288.8L520.5 296.1L520.9 313.2L521.3 328L521.8 336L522.3 341.5L522.8 345.7L523.1 350.3L523.4 353.5L523.8 350.7L524.4 335.5L525.2 314.4L525.9 302.1L526.5 306.9L527.1 320.5L527.6 333.1L528.1 342.4L528.6 350.6L529.1 354.5L529.7 352L530.4 345.2L531 336.8L531.5 324.8L532 311.4L532.5 305.3L533 313L533.6 328.1L534.2 340.6L535 347.5L535.9 351.9L536.7 352.6L537.3 348.7L537.7 341.1L538.2 331.8L538.7 317.2L539.3 300.9L539.8 295.8L540.3 313.2L540.9 341.8L541.5 360.8L542.2 360L542.9 349.6L543.6 339.4L544.3 333.4L544.9 327.6L545.5 320.4L546 307.8L546.5 293.7L547 288.2L547.5 298.3L548.1 316.9L548.7 333.1L549.4 343.9L550.1 352.2L550.8 355.8L551.6 353.2L552.4 345.8L553.1 335.6L553.7 319.2L554.2 299.9L554.7 289.8L555.2 296.4L555.7 312.3L556.1 327L556.5 338.2L556.8 348.3L557.2 353.7L557.6 351.2L558.1 344.1L558.6 338.3L559 338.5L559.4 340L560 335.4L560.8 316.3L561.8 291L562.6 277.1L563.2 284.6L563.6 303.6L564 321.4L564.4 335.6L564.7 348.7L565.1 355.8L565.7 352.8L566.4 343.9L567.1 336.8L567.6 336.9L568 338.7L568.5 334L569.2 313.8L569.9 287L570.6 272.2L571 280L571.4 299.8L571.7 318.6L572 333.7L572.3 347.8L572.7 355.8L573.1 353.4L573.6 345L574.1 338.3L574.5 336L574.9 335.4L575.2 336.8L575.5 343.9L575.8 352.8L576.2 352.3L576.9 331.1L577.8 300.4L578.6 282.8L579.1 291L579.4 312.4L579.7 331.2L579.9 343.1L580.1 352.5L580.4 357.2L580.8 354.6L581.3 347.3L581.8 341.1L582.4 340.2L583.1 340.6L583.9 335.4L584.8 317L585.8 293.2L586.7 280.6L587.3 289.7L587.7 310L588.1 327L588.5 335.3L588.9 340.4L589.3 343.9L589.7 346.7L590.2 348L590.7 347.4L591.2 345.7L591.7 342.2L592.3 334L593.1 315L594 291.3L594.7 278.5L595.2 285.9L595.5 304.2L595.9 321.4L596.3 335.3L596.8 348L597.3 354.4L597.9 351.1L598.6 341.3L599.4 329.8L600.3 314.4L601.3 297.2L602.2 289.1L602.8 297.4L603.2 314.7L603.6 329.8L604.1 339.8L604.7 347.7L605.3 350.9L605.9 345.4L606.5 335.2L607.1 329.8L607.6 337L608 349.1L608.5 352.3L609 335.8L609.4 310.5L609.9 295.6L610.3 301.8L610.7 318.4L611.2 333.1L611.7 342.3L612.3 349.5L612.8 352.7L613.3 349.2L613.8 341.6L614.3 335.6L614.7 335.3L615.2 336.5L615.6 333.1L616.1 318.1L616.6 298.5L617.1 288.2L617.5 295.8L617.8 312.7L618.1 328L618.4 339.2L618.8 348.8L619.1 352.7L619.4 346.2L619.6 334.1L620 326.8L620.5 330.2L621.1 338.4L621.7 344.5L622.1 347L622.5 347.5L622.9 343.2L623.3 328.9L623.7 310L624.2 299.6L624.7 305.8L625.2 320.6L625.7 333.1L626.3 340L627 344.6L627.6 346.4L628.1 344.9L628.7 340.6L629.2 334.4L629.8 323.5L630.4 310.6L631 304.7L631.5 312.8L631.9 327.8L632.4 338.2L632.9 337.6L633.4 332.3L633.9 329.3L634.5 333.3L635.1 339.6L635.8 340.7L636.6 329.5L637.5 313.2L638.3 305.3L638.8 315.3L639.2 333.8L639.6 346.4L640.1 345.9L640.6 339.6L641.1 334.4L641.6 333.8L642.2 334.4L642.8 333.1L643.5 326.9L644.2 318.7L644.9 314.8L645.5 319.1L646 327.6L646.6 334.4L647.2 337.2L647.9 338.3L648.5 338.2L649 337.2L649.5 335L650 331.8L650.5 325.6L651 318.4L651.6 316L652.2 322.7L652.8 334.1L653.5 343.2L654.3 348.1L655.1 350.7L656 348.9L656.9 339.2L657.9 325.2L658.8 315.4L659.6 313.4L660.3 315.6L660.9 320.5L661.5 330.4L662 342.9L662.6 349.5L663.3 344.2L663.9 332.9L664.6 324.9L665.2 324.8L665.8 328.1L666.4 329.9L666.8 327.5L667.2 323.6L667.7 322.4L668.4 327.1L669.2 334.5L670 338.2L670.7 334.7L671.5 327.7L672.2 321.7L672.9 318.2L673.7 315.8L674.4 314.8L675.1 315L675.7 316.7L676.3 321.1L676.8 330.8L677.3 343.1L677.8 351.4L678.4 352.7L679.1 350L679.8 345.7L680.6 339.3L681.4 331.3L682 325.5"/>
<path class="ax" d="M470.8 395.8V390.8M470.8 265.1V270.1M542.7 395.8V390.8M542.7 265.1V270.1M614.6 395.8V390.8M614.6 265.1V270.1M438.3 330.4H443.3M682.7 330.4H677.7M438.3 265.1H682.7V395.8H438.3Z"/>
<path class="w3" d="M78.1 634L78.3 602.5L79.2 604L80.5 622L80.6 622.2L81.1 625L81.7 627.5L82.2 626L82.8 625.2L83.3 626.4L83.9 628.8L84.4 630L85 630.6L85.5 628.5L86.1 629.8L86.6 631.7L87.2 630L87.7 629.5L88.3 627.5L88.8 627.9L89.4 629L89.9 627.8L90.5 626.1L91 627L91.6 625.3L92.1 619.8L92.7 619L93.2 615.6L93.8 615.8L94.3 617.8L94.9 612.8L95.3 607L95.4 605.2L96 598.7L96.1 597.5L96.5 602.3L96.9 606L97.1 607.6L97.6 612L98.2 602.3L98.7 580.9L98.9 575L99.3 547.7L99.7 520.3L99.8 530.6L100.4 568.2L100.5 575L100.9 595.8L101.5 612.9L102 614.7L102.6 617L103.1 619.9L103.7 622L104.2 621.4L104.8 620.1L105.3 621.9L105.9 621.2L106.4 623.2L107 626.9L107.5 626.5L108.1 628.4L108.6 630.8L109.2 629.3L109.7 628.1L110.3 628L110.8 625.9L111.4 626.1L111.9 629.3L112.5 624.2L113 619.8L113.6 620.4L114.1 624.7L114.7 627.4L115.2 625.9L115.8 626.6L116.3 623.2L116.9 620.3L117.4 617.7L118 616.5L118.5 615.6L119.1 620.9L119.6 627.8L120.2 625.6L120.7 623.6L121.3 612L121.7 604L121.8 602.1L122.4 595.3L122.6 592.8L122.9 597.2L123.5 604L123.5 604L124 616.4L124.6 622.7L125.1 625.1L125.7 625.2L126.2 624.8L126.8 628.7L127.3 626.1L127.9 624.3L128.4 625.1L129 626.4L129.5 630.8L130.1 633.8L130.6 629.7L131.2 625.8L131.7 628.8L132.3 631.3L132.8 630.6L133.4 627.1L133.9 626.5L134.5 627.3L135 626.4L135.6 625.3L136.1 625.9L136.7 627.1L137.2 626.3L137.8 625.5L138.3 623.9L138.9 623.5L139.4 626.9L140 627.3L140.5 623.8L141.1 625.7L141.6 627.3L142.2 627.4L142.7 625.7L143.3 619.8L143.8 610.4L144.1 606L144.4 603.5L144.9 598.8L145 598.4L145.5 602.6L145.9 606L146 608.7L146.6 618.4L147.1 622.8L147.7 623.3L148.2 625.6L148.8 627.4L149.3 629.7L149.9 629.9L150.4 630L151 629.7L151.5 629.3L152.1 627.1L152.6 624.8L153.2 628.8L153.7 630.1L154.3 629.9L154.8 631.5L155.4 632.4L155.9 632.6L156.5 632L157 630.6L157.6 628.1L158.1 627.1L158.7 627.4L159.2 627.2L159.8 627.5L160.3 629.3L160.9 630.7L161.4 630.7L162 628.1L162.5 627.9L163.1 630.2L163.6 631.1L164.2 631L164.7 626L165.3 620.4L165.8 619.5L166.4 615.2L166.9 609.6L167.4 605.8L167.5 606.6L168 611.3L168.6 615.8L169.1 621.6L169.7 626.5L170.2 628.5L170.8 629.2L171.3 629.9L171.9 628L172.4 627.8L173 629.1L173.5 629.7L174.1 630.4L174.6 631.3L175.2 633.3L175.7 633.1L176.3 632.7L176.8 632.7L177.4 632L177.9 632L178.5 632.2L179 633.1L179.6 633.9L180.1 634.2L180.7 633.2L181.2 633.2L181.8 633.4L182.3 631.5L182.9 631.7L183.4 631.6L184 631.7L184.5 631.3L185.1 629.8L185.6 629.3L186.2 631L186.7 631.4L187.3 628.7L187.8 626.4L188.4 623.9L188.9 622.9L189.5 619.9L190 616.4L190.6 619.7L191.1 621.6L191.7 623.7L192.2 627.2L192.8 629.3L193.3 630.8L193.9 632.1L194.4 632.4L195 632.3L195.5 632.5L196.1 633L196.6 632.9L197.2 633.3L197.7 633.9L198.3 633.2L198.8 633.6L199.4 634.2L199.9 634.2L200.5 634.2L201 634.1L201.6 634.1L202.1 633.7L202.7 634L203.2 633L203.8 633.1L204.3 633.6L204.9 633.3L205.4 632.9L206 632.4L206.5 632.5L207.1 633.2L207.6 634L208.2 633.5L208.7 633.1L209.3 632.8L209.8 631.5L210.4 631.4L210.9 630.8L211.5 628.4L212 627.4L212.6 627.5L213.1 627.8L213.7 629.2L214.2 631.5L214.8 632.1L215.3 632.2L215.9 632.8L216.4 633.6L217 633.4L217.5 633.2L218.1 633.8L218.6 634L219.2 634.2L219.7 634.1L220.3 634.1L220.8 634.2L221.4 634.2L221.9 634L222.5 634L223 634.2L223.6 634.2L224.1 634L224.7 634.2L225.2 634.1L225.8 633.8L226.3 634.1L226.9 633.7L227.4 634L228 634.2L228.5 633.8L229.1 633.9L229.6 634L230.2 633.5L230.7 633.4L231.3 633.9L231.8 634.2L232.4 634.2L232.9 634L233.5 633.2L234 632.1L234.6 632.8L235.1 634L235.7 634.1L236.2 634.2L236.8 633.9L237.3 633.6L237.9 634.2L238.4 634.2L239 634L239.5 634L240.1 634L240.6 634L241.2 633.9L241.7 633.9L242.3 633.8L242.8 634L243.4 634.2L243.9 633.6L244.5 633.7L245 633.9L245.6 634L246.1 633.8L246.7 633.9L247.2 634.2L247.8 634.2L248.3 633.8L248.9 634L249.4 634L250 633.7L250.5 633.5L251.1 633.9L251.6 634.1L252.2 634.2L252.7 634.2L253.3 633.9L253.8 634.2L254.4 634.2L254.9 633.7L255.5 633.8L256 633.9L256.6 632.9L257.1 632.5L257.7 633.3L258.2 633.9L258.8 634.2L259.3 634.2L259.9 633.7L260.4 633.5L261 633.8L261.5 634L262.1 634.1L262.6 634.2L263.2 634.2L263.7 634.2L264.3 634.2L264.8 634L265.4 634L265.9 634.2L266.5 634.2L267 634L267.6 634.1L268.1 634.2L268.7 634L269.2 633.9L269.8 633.8L270.3 633.8L270.9 633.5L271.4 633.7L272 634.2L272.5 634.1L273.1 634.1L273.6 634.2L274.2 634.1L274.7 633.7L275.3 633.6L275.8 634L276.4 634.2L276.9 634.2L277.5 634.2L278 634L278.6 633.5L279.1 633.7L279.7 634.1L280.2 634.2L280.8 634.1L281.3 634L281.9 633.8L282.4 633.8L283 634L283.5 634L284.1 634.1L284.6 634.1L285.2 634L285.7 634L286.3 634.1L286.8 634.2L287.4 634L287.9 633.8L288.5 634.2L289 634.2L289.6 634.1L290.1 634.2L290.7 634L291.2 633.8L291.8 633.9L292.3 634.1L292.9 634.1L293.4 633.9L294 633.7L294.5 633.9L295.1 634.2L295.6 633.9L296.2 633.7L296.7 634L297.3 634L297.8 634L298.4 634L298.9 634.2L299.5 634.2L300 634.1L300.6 634.1L301.1 633.9L301.7 633.1L302.2 632.3L302.8 632.5L303.3 633.5L303.9 634L304.4 634.1L305 634.1L305.5 633.9L306.1 634.1L306.6 634.2L307.2 634.2L307.7 634.2L308.3 634.1L308.8 633.9L309.4 633.9L309.9 634.1L310.5 634.2L311 633.8L311.6 633.8L312.1 633.8L312.7 633.8L313.2 633.8L313.8 633.6L314.3 633.8L314.9 634L315.4 633.7L316 633.9L316.5 634.2L317.1 634.1L317.6 634.1L318.2 634.2L318.7 633.8L319.3 633.9L319.8 633.8L320.4 634L320.9 634.2L321.5 634L322 633.8L322.6 633.7L323.1 633.7L323.7 634.1L324.2 633.9"/>
<path class="ax" d="M190.2 634V629M190.2 501.9V506.9M302.4 634V629M302.4 501.9V506.9M78.1 501.9H324.8V634H78.1Z"/>
<path class="ax" d="M536 634.7V629.7M633.7 634.7V629.7M438.4 515.8H443.4M438.4 568.5H443.4M438.4 621.2H443.4M438.4 500.3V634.7H687"/>
<g class="fm" style="fill:#fff"><circle cx="438.4" cy="552" r="10.9"/><circle cx="440" cy="548.3" r="10.9"/><circle cx="441.5" cy="544.5" r="10.9"/><circle cx="443.1" cy="539.3" r="10.9"/><circle cx="444.6" cy="535.4" r="10.9"/><circle cx="446.2" cy="536.2" r="10.9"/><circle cx="447.8" cy="541.2" r="10.9"/><circle cx="449.3" cy="546.6" r="10.9"/><circle cx="450.9" cy="552.6" r="10.9"/><circle cx="452.5" cy="557.9" r="10.9"/><circle cx="454" cy="559.5" r="10.9"/><circle cx="455.6" cy="558.2" r="10.9"/><circle cx="457.1" cy="555.6" r="10.9"/><circle cx="458.7" cy="551.6" r="10.9"/><circle cx="460.3" cy="547.2" r="10.9"/><circle cx="461.8" cy="544.3" r="10.9"/><circle cx="463.4" cy="541.9" r="10.9"/><circle cx="465" cy="540.3" r="10.9"/><circle cx="466.5" cy="540" r="10.9"/><circle cx="468.1" cy="541" r="10.9"/><circle cx="469.6" cy="542.8" r="10.9"/><circle cx="471.2" cy="544.8" r="10.9"/><circle cx="472.8" cy="547.3" r="10.9"/><circle cx="474.3" cy="550" r="10.9"/><circle cx="475.9" cy="552.7" r="10.9"/><circle cx="477.5" cy="555.7" r="10.9"/><circle cx="479" cy="557.8" r="10.9"/><circle cx="480.6" cy="557.5" r="10.9"/><circle cx="482.1" cy="555.3" r="10.9"/><circle cx="483.7" cy="552.1" r="10.9"/><circle cx="485.3" cy="547.8" r="10.9"/><circle cx="486.8" cy="543.2" r="10.9"/><circle cx="488.4" cy="539.6" r="10.9"/><circle cx="490" cy="536.7" r="10.9"/><circle cx="491.5" cy="534.3" r="10.9"/><circle cx="493.1" cy="532.6" r="10.9"/><circle cx="494.6" cy="531.9" r="10.9"/><circle cx="496.2" cy="532.3" r="10.9"/><circle cx="497.8" cy="533.5" r="10.9"/><circle cx="499.3" cy="535.3" r="10.9"/><circle cx="500.9" cy="537.4" r="10.9"/><circle cx="502.5" cy="540.2" r="10.9"/><circle cx="504" cy="543.2" r="10.9"/><circle cx="505.6" cy="546.1" r="10.9"/><circle cx="507.1" cy="548.6" r="10.9"/><circle cx="508.7" cy="550.7" r="10.9"/><circle cx="510.3" cy="552.7" r="10.9"/><circle cx="511.8" cy="554.6" r="10.9"/><circle cx="513.4" cy="556.5" r="10.9"/><circle cx="515" cy="558.5" r="10.9"/><circle cx="516.5" cy="560.5" r="10.9"/><circle cx="518.1" cy="562.5" r="10.9"/><circle cx="519.6" cy="564.7" r="10.9"/><circle cx="521.2" cy="567.5" r="10.9"/><circle cx="522.8" cy="571.5" r="10.9"/><circle cx="524.3" cy="575" r="10.9"/><circle cx="525.9" cy="577.4" r="10.9"/><circle cx="527.5" cy="579.4" r="10.9"/><circle cx="529" cy="580.8" r="10.9"/><circle cx="530.6" cy="581.8" r="10.9"/><circle cx="532.1" cy="582.4" r="10.9"/><circle cx="533.7" cy="582.8" r="10.9"/><circle cx="535.3" cy="583" r="10.9"/><circle cx="536.8" cy="582.6" r="10.9"/><circle cx="538.4" cy="581.9" r="10.9"/><circle cx="540" cy="582" r="10.9"/><circle cx="541.5" cy="583.1" r="10.9"/><circle cx="543.1" cy="584.8" r="10.9"/><circle cx="544.6" cy="586.6" r="10.9"/><circle cx="546.2" cy="588.5" r="10.9"/><circle cx="547.8" cy="590.4" r="10.9"/><circle cx="549.3" cy="592.5" r="10.9"/><circle cx="550.9" cy="594.3" r="10.9"/><circle cx="552.5" cy="595.5" r="10.9"/><circle cx="554" cy="596.3" r="10.9"/><circle cx="555.6" cy="596.8" r="10.9"/><circle cx="557.1" cy="597" r="10.9"/><circle cx="558.7" cy="596.8" r="10.9"/><circle cx="560.3" cy="596" r="10.9"/><circle cx="561.8" cy="595.3" r="10.9"/><circle cx="563.4" cy="595" r="10.9"/><circle cx="565" cy="595.5" r="10.9"/><circle cx="566.5" cy="596.4" r="10.9"/><circle cx="568.1" cy="597.4" r="10.9"/><circle cx="569.6" cy="598.2" r="10.9"/><circle cx="571.2" cy="598.8" r="10.9"/><circle cx="572.8" cy="599.4" r="10.9"/><circle cx="574.3" cy="599.8" r="10.9"/><circle cx="575.9" cy="600.1" r="10.9"/><circle cx="577.5" cy="600.4" r="10.9"/><circle cx="579" cy="600.5" r="10.9"/><circle cx="580.6" cy="600.2" r="10.9"/><circle cx="582.1" cy="599" r="10.9"/><circle cx="583.7" cy="596.6" r="10.9"/><circle cx="585.3" cy="593" r="10.9"/><circle cx="586.8" cy="587.9" r="10.9"/><circle cx="588.4" cy="582.8" r="10.9"/><circle cx="590" cy="579.9" r="10.9"/><circle cx="591.5" cy="581.3" r="10.9"/><circle cx="593.1" cy="585" r="10.9"/><circle cx="594.6" cy="587.3" r="10.9"/><circle cx="596.2" cy="589.1" r="10.9"/><circle cx="597.8" cy="590" r="10.9"/><circle cx="599.3" cy="589.9" r="10.9"/><circle cx="600.9" cy="588.7" r="10.9"/><circle cx="602.5" cy="586.4" r="10.9"/><circle cx="604" cy="583" r="10.9"/><circle cx="605.6" cy="579.9" r="10.9"/><circle cx="607.1" cy="578.6" r="10.9"/><circle cx="608.7" cy="579" r="10.9"/><circle cx="610.3" cy="579.8" r="10.9"/><circle cx="611.8" cy="579.9" r="10.9"/><circle cx="613.4" cy="579.4" r="10.9"/><circle cx="615" cy="578.6" r="10.9"/><circle cx="616.5" cy="577.8" r="10.9"/><circle cx="618.1" cy="576.9" r="10.9"/><circle cx="619.6" cy="576" r="10.9"/><circle cx="621.2" cy="574.8" r="10.9"/><circle cx="622.8" cy="573" r="10.9"/><circle cx="624.3" cy="570.6" r="10.9"/><circle cx="625.9" cy="567.8" r="10.9"/><circle cx="627.5" cy="564.9" r="10.9"/><circle cx="629" cy="561.6" r="10.9"/><circle cx="630.6" cy="558.3" r="10.9"/><circle cx="632.1" cy="555.3" r="10.9"/><circle cx="633.7" cy="552.4" r="10.9"/><circle cx="635.3" cy="549.8" r="10.9"/><circle cx="636.8" cy="547.8" r="10.9"/><circle cx="638.4" cy="546.7" r="10.9"/><circle cx="639.9" cy="546.2" r="10.9"/><circle cx="641.5" cy="546" r="10.9"/><circle cx="643.1" cy="546.2" r="10.9"/><circle cx="644.6" cy="546.6" r="10.9"/><circle cx="646.2" cy="547" r="10.9"/><circle cx="647.8" cy="546.9" r="10.9"/><circle cx="649.3" cy="546.5" r="10.9"/><circle cx="650.9" cy="546" r="10.9"/><circle cx="652.4" cy="545.4" r="10.9"/><circle cx="654" cy="545" r="10.9"/><circle cx="655.6" cy="545.1" r="10.9"/><circle cx="657.1" cy="545.8" r="10.9"/><circle cx="658.7" cy="547.2" r="10.9"/><circle cx="660.3" cy="549.3" r="10.9"/><circle cx="661.8" cy="552.1" r="10.9"/><circle cx="663.4" cy="555.7" r="10.9"/><circle cx="664.9" cy="559.1" r="10.9"/><circle cx="666.5" cy="562.6" r="10.9"/><circle cx="668.1" cy="566.5" r="10.9"/><circle cx="669.6" cy="571.2" r="10.9"/></g><path class="fl" d="M440.4 550L441.3 550L442.3 552.7L443.3 552.7L444.3 552.7L445.2 552.7L446.2 552.7L447.2 552.7L448.2 552.7L449.1 552.7L450.1 552.7L451.1 552.7L452.1 552.7L453 552.7L454 552.7L455 552.7L456 552.7L457 552.7L457.9 552.7L458.9 552.7L459.9 552.7L460.9 552.7L461.8 552.7L462.8 552.7L463.8 552.7L464.8 552.7L465.7 552.7L466.7 552.7L467.7 552.7L468.7 552.7L469.6 552.7L470.6 552.7L471.6 552.7L472.6 552.7L473.6 552.7L474.5 552.7L475.5 552.7L476.5 552.7L477.5 552.7L478.4 555.3L479.4 555.3L480.4 555.3L481.4 555.3L482.3 555.3L483.3 558L484.3 558L485.3 558L486.2 558L487.2 560.6L488.2 560.6L489.2 560.6L490.2 563.2L491.1 563.2L492.1 563.2L493.1 563.2L494.1 565.9L495 565.9L496 565.9L497 565.9L498 565.9L498.9 568.5L499.9 568.5L500.9 568.5L501.9 568.5L502.8 568.5L503.8 571.1L504.8 571.1L505.8 571.1L506.8 571.1L507.7 571.1L508.7 573.8L509.7 573.8L510.7 573.8L511.6 573.8L512.6 576.4L513.6 576.4L514.6 576.4L515.5 576.4L516.5 576.4L517.5 576.4L518.5 576.4L519.4 579L520.4 579L521.4 579L522.4 579L523.4 581.7L524.3 581.7L525.3 581.7L526.3 584.3L527.3 584.3L528.2 584.3L529.2 584.3L530.2 587L531.2 587L532.1 587L533.1 587L534.1 587L535.1 589.6L536 589.6L537 589.6L538 589.6L539 589.6L540 592.2L540.9 592.2L541.9 592.2L542.9 592.2L543.9 592.2L544.8 594.9L545.8 594.9L546.8 594.9L547.8 594.9L548.7 597.5L549.7 597.5L550.7 597.5L551.7 597.5L552.7 597.5L553.6 597.5L554.6 597.5L555.6 597.5L556.6 597.5L557.5 597.5L558.5 597.5L559.5 597.5L560.5 597.5L561.4 597.5L562.4 597.5L563.4 597.5L564.4 597.5L565.3 597.5L566.3 597.5L567.3 597.5L568.3 597.5L569.3 597.5L570.2 597.5L571.2 594.9L572.2 594.9L573.2 594.9L574.1 594.9L575.1 594.9L576.1 594.9L577.1 594.9L578 592.2L579 592.2L580 592.2L581 589.6L581.9 589.6L582.9 589.6L583.9 589.6L584.9 589.6L585.9 589.6L586.8 589.6L587.8 587L588.8 587L589.8 584.3L590.7 584.3L591.7 584.3L592.7 581.7L593.7 581.7L594.6 581.7L595.6 581.7L596.6 579L597.6 579L598.5 579L599.5 576.4L600.5 576.4L601.5 576.4L602.5 576.4L603.4 573.8L604.4 573.8L605.4 573.8L606.4 573.8L607.3 571.1L608.3 571.1L609.3 571.1L610.3 568.5L611.2 568.5L612.2 565.9L613.2 565.9L614.2 565.9L615.1 563.2L616.1 563.2L617.1 563.2L618.1 560.6L619.1 560.6L620 560.6L621 558L622 558L623 555.3L623.9 552.7L624.9 552.7L625.9 552.7L626.9 552.7L627.8 552.7L628.8 552.7L629.8 550L630.8 550L631.7 550L632.7 547.4L633.7 547.4L634.7 547.4L635.7 547.4L636.6 547.4L637.6 547.4L638.6 544.8L639.6 544.8L640.5 544.8L641.5 544.8L642.5 544.8L643.5 544.8L644.4 544.8L645.4 544.8L646.4 544.8L647.4 544.8L648.3 542.1L649.3 542.1L650.3 542.1L651.3 542.1L652.3 542.1L653.2 542.1L654.2 542.1L655.2 542.1L656.2 542.1L657.1 542.1L658.1 542.1L659.1 542.1L660.1 542.1L661 542.1L662 542.1L663 542.1L664 542.1L664.9 542.1L665.9 542.1L666.9 542.1L667.9 542.1L668.9 542.1L669.8 542.1L670.8 542.1L671.8 542.1"/>
<g class="tx"><text x="116.2" y="192.6" font-size="22.7" text-anchor="middle" fill="#262626">0</text>
<text x="213.6" y="192.6" font-size="22.7" text-anchor="middle" fill="#262626">100</text>
<text x="310.5" y="192.6" font-size="22.7" text-anchor="middle" fill="#262626">200</text>
<text x="64.5" y="35" font-size="22.7" text-anchor="end" fill="#262626">1</text>
<text x="64.5" y="101" font-size="22.7" text-anchor="end" fill="#262626">0</text>
<text x="64.5" y="167" font-size="22.7" text-anchor="end" fill="#262626">-1</text>
<text x="470" y="192.6" font-size="22.7" text-anchor="middle" fill="#262626">0</text>
<text x="541.9" y="192.6" font-size="22.7" text-anchor="middle" fill="#262626">100</text>
<text x="613.3" y="192.6" font-size="22.7" text-anchor="middle" fill="#262626">200</text>
<text x="424.8" y="35" font-size="22.7" text-anchor="end" fill="#262626">1</text>
<text x="424.8" y="101" font-size="22.7" text-anchor="end" fill="#262626">0</text>
<text x="424.8" y="167" font-size="22.7" text-anchor="end" fill="#262626">-1</text>
<text x="201.5" y="224.7" font-size="24.5" text-anchor="middle" fill="#262626">Time (ms)</text>
<text x="560.5" y="224.7" font-size="24.5" text-anchor="middle" fill="#262626">Time (ms)</text>
<text transform="translate(29.2 92.5) rotate(-90)" font-size="24.5" text-anchor="middle" fill="#262626">Amplitude</text>
<text transform="translate(389.2 91.6) rotate(-90)" font-size="24.5" text-anchor="middle" fill="#262626">Amplitude</text>
<text x="71.2" y="17.6" font-size="24.5" text-anchor="start" fill="#000" font-weight="bold">a</text>
<text x="126" y="17.6" font-size="24.5" text-anchor="start" fill="#000" font-weight="bold">/da/ Stimulus</text>
<text x="435.6" y="17.6" font-size="24.5" text-anchor="start" fill="#000" font-weight="bold">b</text>
<text x="485.6" y="17.6" font-size="24.5" text-anchor="start" fill="#000" font-weight="bold">/mi3/ Stimulus</text>
<text x="116.4" y="430.8" font-size="22.7" text-anchor="middle" fill="#262626">0</text>
<text x="470" y="430.8" font-size="22.7" text-anchor="middle" fill="#262626">0</text>
<text x="213.8" y="430.8" font-size="22.7" text-anchor="middle" fill="#262626">100</text>
<text x="541.9" y="430.8" font-size="22.7" text-anchor="middle" fill="#262626">100</text>
<text x="310.7" y="430.8" font-size="22.7" text-anchor="middle" fill="#262626">200</text>
<text x="613.3" y="430.8" font-size="22.7" text-anchor="middle" fill="#262626">200</text>
<text x="64.6" y="299.3" font-size="22.7" text-anchor="end" fill="#262626">1</text>
<text x="64.6" y="351.6" font-size="22.7" text-anchor="end" fill="#262626">0</text>
<text x="64.6" y="403.9" font-size="22.7" text-anchor="end" fill="#262626">-1</text>
<text x="424.8" y="273.2" font-size="22.7" text-anchor="end" fill="#262626">1</text>
<text x="424.8" y="338.6" font-size="22.7" text-anchor="end" fill="#262626">0</text>
<text x="424.8" y="403.9" font-size="22.7" text-anchor="end" fill="#262626">-1</text>
<text x="201.6" y="461.3" font-size="24.5" text-anchor="middle" fill="#262626">Time (ms)</text>
<text x="560.5" y="461.3" font-size="24.5" text-anchor="middle" fill="#262626">Time (ms)</text>
<text transform="translate(28.7 330.2) rotate(-90)" font-size="24.8" text-anchor="middle" fill="#262626">Amplitude (&#956;V)</text>
<text transform="translate(388.9 330.2) rotate(-90)" font-size="24.8" text-anchor="middle" fill="#262626">Amplitude (&#956;V)</text>
<text x="71.8" y="255.9" font-size="24.5" text-anchor="start" fill="#000" font-weight="bold">c</text>
<text x="138.8" y="255.9" font-size="24.5" text-anchor="start" fill="#000" font-weight="bold">FFR to /da/</text>
<text x="432.6" y="255.9" font-size="24.5" text-anchor="start" fill="#000" font-weight="bold">d</text>
<text x="496" y="255.9" font-size="24.5" text-anchor="start" fill="#000" font-weight="bold">FFR to /mi3/</text>
<text x="77.5" y="669" font-size="22.7" text-anchor="middle" fill="#262626">0</text>
<text x="189.1" y="669" font-size="22.7" text-anchor="middle" fill="#262626">500</text>
<text x="301.2" y="669" font-size="22.7" text-anchor="middle" fill="#262626">1000</text>
<text x="64.6" y="510.8" font-size="22.7" text-anchor="end" fill="#262626">0.5</text>
<text x="64.6" y="642.9" font-size="22.7" text-anchor="end" fill="#262626">0</text>
<text x="201.4" y="701.3" font-size="24.5" text-anchor="middle" fill="#262626">Frequency (Hz)</text>
<text transform="translate(17.8 568.1) rotate(-90)" font-size="24.5" text-anchor="middle" fill="#262626">Amplitude (&#956;V)</text>
<text x="74.5" y="493.6" font-size="24.5" text-anchor="start" fill="#000" font-weight="bold">e FFT of Steady State</text>
<text x="438.4" y="671.2" font-size="26.1" text-anchor="middle" fill="#262626">0</text>
<text x="536" y="671.2" font-size="26.1" text-anchor="middle" fill="#262626">100</text>
<text x="633.7" y="671.2" font-size="26.1" text-anchor="middle" fill="#262626">200</text>
<text x="424" y="525" font-size="26.1" text-anchor="end" fill="#262626">120</text>
<text x="424" y="577.8" font-size="26.1" text-anchor="end" fill="#262626">100</text>
<text x="424" y="630.5" font-size="26.1" text-anchor="end" fill="#262626">80</text>
<text x="561" y="705" font-size="26.2" text-anchor="middle" fill="#262626">Time (bin)</text>
<text transform="translate(363.2 568) rotate(-90)" font-size="26.2" text-anchor="middle" fill="#262626">Frequency (Hz)</text>
<text x="433" y="493.6" font-size="24.5" text-anchor="start" fill="#000" font-weight="bold">f</text>
<text x="489.6" y="493.6" font-size="24.5" text-anchor="start" fill="#000" font-weight="bold">F0 Tracking</text></g>
</svg>
</body></html>
